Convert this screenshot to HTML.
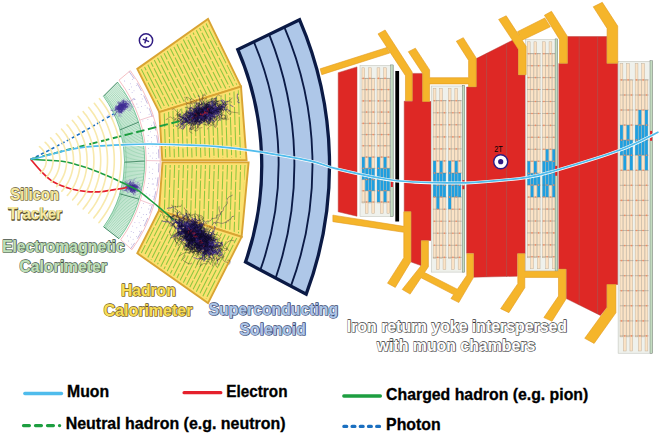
<!DOCTYPE html>
<html><head><meta charset="utf-8"><title>CMS detector slice</title>
<style>html,body{margin:0;padding:0;background:#fff}svg{display:block}text{font-family:"Liberation Sans",sans-serif}</style>
</head><body>
<svg width="660" height="435" viewBox="0 0 660 435">
<rect width="660" height="435" fill="#fff"/>
<path d="M103.5 96.2 A111.8 111.8 0 0 1 103.6 226.8 L119 238.7 A129 129 0 0 0 117.5 82.2 Z" fill="#ebf7ee" stroke="none"/>
<path d="M103.5 96.2L117.5 82.2M104.21 97.2L118.4 83.37M104.91 98.2L119.29 84.55M105.6 99.21L120.16 85.74M106.27 100.23L121.02 86.94M106.94 101.26L121.86 88.15M107.59 102.29L122.69 89.37M108.24 103.33L123.51 90.59M108.87 104.38L124.31 91.83M109.49 105.43L125.1 93.08M110.1 106.5L125.88 94.33M110.69 107.56L126.64 95.6M111.28 108.64L127.38 96.87M111.85 109.72L128.11 98.15M112.41 110.81L128.83 99.44M112.96 111.9L129.53 100.74M113.5 113L130.22 102.04M114.03 114.1L130.89 103.36M114.54 115.21L131.54 104.68M115.04 116.33L132.19 106.01M115.53 117.45L132.81 107.34M116.01 118.58L133.42 108.68M116.47 119.71L134.02 110.03M116.92 120.85L134.6 111.39M117.36 121.99L135.16 112.75M117.79 123.14L135.71 114.12M118.2 124.29L136.25 115.5M118.6 125.44L136.76 116.88M118.99 126.6L137.26 118.27M119.37 127.77L137.75 119.66M119.73 128.93L138.22 121.06M120.08 130.11L138.67 122.46M120.42 131.28L139.11 123.87M120.75 132.46L139.53 125.28M121.06 133.64L139.94 126.7M121.36 134.83L140.33 128.13M121.64 136.02L140.7 129.55M121.92 137.21L141.06 130.98M122.18 138.41L141.4 132.42M122.42 139.61L141.72 133.86M122.66 140.81L142.03 135.3M122.88 142.01L142.32 136.75M123.08 143.22L142.59 138.2M123.28 144.42L142.85 139.65M123.46 145.63L143.09 141.1M123.63 146.85L143.31 142.56M123.78 148.06L143.52 144.02M123.92 149.27L143.71 145.49M124.05 150.49L143.89 146.95M124.17 151.71L144.04 148.42M124.27 152.93L144.18 149.89M124.35 154.15L144.31 151.36M124.43 155.37L144.41 152.83M124.49 156.59L144.5 154.3M124.54 157.81L144.58 155.77M124.57 159.04L144.63 157.25M124.59 160.26L144.67 158.72M124.6 161.48L144.69 160.2M124.6 162.71L144.7 161.67M124.58 163.93L144.69 163.15M124.54 165.15L144.66 164.62M124.5 166.38L144.62 166.1M124.44 167.6L144.55 167.57M124.37 168.82L144.48 169.04M124.28 170.04L144.38 170.51M124.18 171.26L144.27 171.99M124.07 172.48L144.14 173.46M123.94 173.69L143.99 174.92M123.8 174.91L143.83 176.39M123.65 176.12L143.65 177.85M123.48 177.34L143.46 179.32M123.31 178.55L143.24 180.78M123.11 179.75L143.01 182.23M122.91 180.96L142.77 183.69M122.69 182.16L142.5 185.14M122.46 183.36L142.22 186.59M122.21 184.56L141.93 188.03M121.95 185.76L141.62 189.47M121.68 186.95L141.29 190.91M121.4 188.14L140.94 192.35M121.1 189.33L140.58 193.78M120.79 190.51L140.2 195.2M120.47 191.69L139.81 196.62M120.13 192.87L139.4 198.04M119.78 194.04L138.97 199.45M119.42 195.21L138.53 200.86M119.05 196.37L138.07 202.26M118.66 197.54L137.59 203.66M118.26 198.69L137.1 205.05M117.85 199.84L136.6 206.43M117.42 200.99L136.07 207.81M116.98 202.13L135.54 209.19M116.53 203.27L134.98 210.55M116.07 204.4L134.41 211.91M115.6 205.53L133.83 213.27M115.11 206.65L133.23 214.62M114.61 207.77L132.61 215.96M114.1 208.88L131.98 217.29M113.57 209.99L131.33 218.62M113.04 211.09L130.67 219.93M112.49 212.18L130 221.25M111.93 213.27L129.3 222.55M111.36 214.35L128.6 223.84M110.78 215.42L127.88 225.13M110.18 216.49L127.14 226.41M109.57 217.56L126.39 227.68M108.96 218.61L125.63 228.94M108.33 219.66L124.85 230.19M107.68 220.7L124.05 231.44M107.03 221.74L123.25 232.67M106.37 222.76L122.42 233.9M105.69 223.78L121.59 235.11M105.01 224.8L120.74 236.32M104.31 225.8L119.88 237.51M103.6 226.8L119 238.7" stroke="#44ad72" stroke-width="0.42" fill="none"/>
<path d="M103.5 96.2 A111.8 111.8 0 0 1 103.6 226.8" stroke="#3aa96b" stroke-width="0.6" fill="none"/>
<path d="M104.9 94.8 A113.5 113.5 0 0 1 105.14 227.99" stroke="#3aa96b" stroke-width="0.25" fill="none"/>
<path d="M117.5 82.2 A129 129 0 0 1 119 238.7" stroke="#3aa96b" stroke-width="0.6" fill="none"/>
<path d="M103.5 96.2L117.5 82.2M120.01 129.85L138.57 122.15M124.6 162.18L144.7 161.04M119.86 193.8L139.06 199.16M103.6 226.8L119 238.7" stroke="#1d6b45" stroke-width="0.7" fill="none"/>
<path d="M119 80.1 A134.2 134.2 0 0 1 120.7 239.8 L131.9 249.6 A151.64 151.64 0 0 0 130.3 70.7 Z" fill="#ffffff" stroke="#f0a3a8" stroke-width="0.7"/>
<path d="M129.17 71.64 A149.89 149.89 0 0 1 130.78 248.62" stroke="#9a86c8" stroke-width="0.6" fill="none" stroke-dasharray="9 5"/>
<g fill="#8a7acc"><circle cx="124.7" cy="81" r="0.42"/><circle cx="130.4" cy="83.8" r="0.42"/><circle cx="132.3" cy="79.4" r="0.42"/><circle cx="129.2" cy="89.5" r="0.42"/><circle cx="131.4" cy="86.9" r="0.42"/><circle cx="136.3" cy="85.6" r="0.42"/><circle cx="132.1" cy="92.4" r="0.42"/><circle cx="134" cy="90.8" r="0.42"/><circle cx="134.7" cy="99.5" r="0.42"/><circle cx="141.2" cy="94.5" r="0.42"/><circle cx="136.9" cy="104" r="0.42"/><circle cx="141.2" cy="101.8" r="0.42"/><circle cx="142.2" cy="98.9" r="0.42"/><circle cx="138" cy="107.2" r="0.42"/><circle cx="141.6" cy="106.7" r="0.42"/><circle cx="145.1" cy="105.6" r="0.42"/><circle cx="140.5" cy="112.2" r="0.42"/><circle cx="147.2" cy="108" r="0.42"/><circle cx="149.1" cy="114.2" r="0.42"/><circle cx="142.9" cy="120.9" r="0.42"/><circle cx="147.9" cy="119.7" r="0.42"/><circle cx="151.6" cy="125.2" r="0.42"/><circle cx="150.6" cy="131.8" r="0.42"/><circle cx="148.1" cy="135.5" r="0.42"/><circle cx="151.4" cy="137.4" r="0.42"/><circle cx="154.8" cy="135.7" r="0.42"/><circle cx="147.9" cy="141" r="0.42"/><circle cx="151.4" cy="142" r="0.42"/><circle cx="148.4" cy="148.4" r="0.42"/><circle cx="152.3" cy="145.9" r="0.42"/><circle cx="156.1" cy="146.2" r="0.42"/><circle cx="148.7" cy="153.2" r="0.42"/><circle cx="153" cy="152.9" r="0.42"/><circle cx="156.5" cy="153.1" r="0.42"/><circle cx="150.1" cy="156" r="0.42"/><circle cx="152.6" cy="158.1" r="0.42"/><circle cx="156.2" cy="158.6" r="0.42"/><circle cx="156.3" cy="163.2" r="0.42"/><circle cx="149.2" cy="167.1" r="0.42"/><circle cx="152.8" cy="169.1" r="0.42"/><circle cx="149.3" cy="172.1" r="0.42"/><circle cx="152.3" cy="173.7" r="0.42"/><circle cx="149.1" cy="178.5" r="0.42"/><circle cx="152.4" cy="179" r="0.42"/><circle cx="155.7" cy="178.1" r="0.42"/><circle cx="148.4" cy="183.3" r="0.42"/><circle cx="152.2" cy="184" r="0.42"/><circle cx="153.7" cy="184" r="0.42"/><circle cx="147.5" cy="187.7" r="0.42"/><circle cx="154.2" cy="189" r="0.42"/><circle cx="146.2" cy="193.8" r="0.42"/><circle cx="149.8" cy="195" r="0.42"/><circle cx="153" cy="196.2" r="0.42"/><circle cx="145.1" cy="196.8" r="0.42"/><circle cx="143.5" cy="203.3" r="0.42"/><circle cx="150" cy="205.5" r="0.42"/><circle cx="141.5" cy="207.8" r="0.42"/><circle cx="148.8" cy="209" r="0.42"/><circle cx="139.7" cy="212.6" r="0.42"/><circle cx="143.3" cy="214.3" r="0.42"/><circle cx="146.3" cy="214.5" r="0.42"/><circle cx="137.6" cy="216.2" r="0.42"/><circle cx="141.2" cy="217.2" r="0.42"/><circle cx="143.6" cy="220.4" r="0.42"/><circle cx="134.9" cy="222.4" r="0.42"/><circle cx="139.1" cy="222.8" r="0.42"/><circle cx="140.7" cy="225.7" r="0.42"/><circle cx="132.7" cy="226.1" r="0.42"/><circle cx="136.8" cy="227.8" r="0.42"/><circle cx="139.5" cy="231.2" r="0.42"/><circle cx="131.2" cy="231.4" r="0.42"/><circle cx="133.3" cy="232.7" r="0.42"/><circle cx="136.6" cy="236.3" r="0.42"/><circle cx="127.5" cy="235.9" r="0.42"/><circle cx="130.6" cy="237.1" r="0.42"/><circle cx="133.1" cy="239.2" r="0.42"/><circle cx="128.7" cy="241" r="0.42"/><circle cx="131.7" cy="244.1" r="0.42"/></g>
<path d="M139.8 120.14L153.28 115.64M146.2 160.52L160.3 160.85M140.39 200.15L153.8 205.17" stroke="#e9a0b0" stroke-width="0.6" fill="none"/>
<clipPath id="hc1"><polygon points="140.64,69.73 160.62,109.06 237.34,85.02 207,22.79"/></clipPath>
<polygon points="137.3,68.9 208,18.9 241,86.6 159.3,112.2" fill="#fbe170"/>
<path d="M129.9 46.9L138.2 63.1M139 64.7L147.2 80.9M148 82.5L156.3 98.7M157.1 100.3L165.3 116.6M128.9 36.2L137.1 52.4M137.9 54L146.2 70.2M147 71.8L155.2 88.1M156.1 89.7L164.3 105.9M165.1 107.5L173.4 123.7M136.9 43.3L145.1 59.5M146 61.1L154.2 77.4M155 79L163.3 95.2M164.1 96.8L172.3 113M135.9 32.6L144.1 48.8M144.9 50.4L153.2 66.7M154 68.3L162.2 84.5M163 86.1L171.3 102.3M172.1 103.9L180.3 120.2M134.8 21.9L143.1 38.1M143.9 39.8L152.1 56M153 57.6L161.2 73.8M162 75.4L170.3 91.6M171.1 93.2L179.3 109.5M180.1 111.1L188.4 127.3M133.8 11.2L142 27.5M142.9 29.1L151.1 45.3M151.9 46.9L160.2 63.1M161 64.7L169.2 80.9M170 82.6L178.3 98.8M179.1 100.4L187.3 116.6M141.8 18.4L150.1 34.6M150.9 36.2L159.1 52.4M159.9 54L168.2 70.3M169 71.9L177.2 88.1M178.1 89.7L186.3 105.9M187.1 107.5L195.4 123.7M140.8 7.7L149 23.9M149.8 25.5L158.1 41.7M158.9 43.3L167.2 59.6M168 61.2L176.2 77.4M177 79L185.3 95.2M186.1 96.8L194.3 113.1M148.8 14.8L157.1 31M157.9 32.6L166.1 48.9M166.9 50.5L175.2 66.7M176 68.3L184.2 84.5M185 86.1L193.3 102.4M194.1 104L202.4 120.2M147.8 4.1L156 20.4M156.8 22L165.1 38.2M165.9 39.8L174.1 56M175 57.6L183.2 73.8M184 75.5L192.3 91.7M193.1 93.3L201.3 109.5M202.1 111.1L210.4 127.3M155.8 11.3L164 27.5M164.9 29.1L173.1 45.3M173.9 46.9L182.2 63.2M183 64.8L191.2 81M192 82.6L200.3 98.8M201.1 100.4L209.3 116.6M163.8 18.4L172.1 34.6M172.9 36.2L181.1 52.5M181.9 54.1L190.2 70.3M191 71.9L199.2 88.1M200.1 89.7L208.3 106M209.1 107.6L217.4 123.8M162.8 7.7L171 23.9M171.9 25.5L180.1 41.8M180.9 43.4L189.2 59.6M190 61.2L198.2 77.4M199 79L207.3 95.3M208.1 96.9L216.3 113.1M170.8 14.9L179.1 31.1M179.9 32.7L188.1 48.9M188.9 50.5L197.2 66.7M198 68.3L206.2 84.6M207.1 86.2L215.3 102.4M216.1 104L224.4 120.2M169.8 4.2L178 20.4M178.8 22L187.1 38.2M187.9 39.8L196.1 56.1M197 57.7L205.2 73.9M206 75.5L214.3 91.7M215.1 93.3L223.3 109.5M224.1 111.1L232.4 127.4M177.8 11.3L186 27.5M186.9 29.1L195.1 45.4M195.9 47L204.2 63.2M205 64.8L213.2 81M214 82.6L222.3 98.9M223.1 100.5L231.3 116.7M185.8 18.4L194.1 34.7M194.9 36.3L203.1 52.5M203.9 54.1L212.2 70.3M213 71.9L221.3 88.2M222.1 89.8L230.3 106M231.1 107.6L239.4 123.8M184.8 7.8L193 24M193.9 25.6L202.1 41.8M202.9 43.4L211.2 59.6M212 61.2L220.2 77.5M221 79.1L229.3 95.3M230.1 96.9L238.3 113.1M192.8 14.9L201.1 31.1M201.9 32.7L210.1 48.9M210.9 50.6L219.2 66.8M220 68.4L228.2 84.6M229.1 86.2L237.3 102.4M238.1 104L246.4 120.3M191.8 4.2L200 20.4M200.8 22L209.1 38.3M209.9 39.9L218.1 56.1M219 57.7L227.2 73.9M228 75.5L236.3 91.8M237.1 93.4L245.3 109.6M199.8 11.3L208.1 27.6M208.9 29.2L217.1 45.4M217.9 47L226.2 63.2M227 64.8L235.2 81.1M236 82.7L244.3 98.9M207.8 18.5L216.1 34.7M216.9 36.3L225.1 52.5M226 54.1L234.2 70.4M235 72L243.3 88.2M206.8 7.8L215 24M215.9 25.6L224.1 41.8M224.9 43.5L233.2 59.7M234 61.3L242.2 77.5M214.8 14.9L223.1 31.2M223.9 32.8L232.1 49M232.9 50.6L241.2 66.8M213.8 4.2L222 20.5M222.8 22.1L231.1 38.3M231.9 39.9L240.2 56.1M241 57.7L249.2 74" stroke="#8cc63f" stroke-width="1.05" fill="none" clip-path="url(#hc1)"/>
<polygon points="137.3,68.9 208,18.9 241,86.6 159.3,112.2" fill="none" stroke="#d9a433" stroke-width="1.9" stroke-linejoin="miter"/>
<clipPath id="hc2"><polygon points="162.02,114.07 164.74,157.6 243.79,157.6 238.66,90.06"/></clipPath>
<polygon points="159.3,112.2 241,86.6 246.6,160.2 162.3,160.2" fill="#fbe170"/>
<path d="M162.9 69.1L163.4 87.3M163.5 89.1L164 107.3M164.1 109.1L164.7 127.3M164.7 129.1L165.3 147.3M165.4 149.1L165.9 167.3M167.6 79L168.1 97.2M168.2 99L168.8 117.2M168.8 119L169.4 137.1M169.4 138.9L170 157.1M170.1 158.9L170.6 177.1M171.7 68.8L172.2 87M172.3 88.8L172.8 107M172.9 108.8L173.5 127M173.5 128.8L174.1 147M174.1 148.8L174.7 167M176.4 78.7L176.9 96.9M177 98.7L177.6 116.9M177.6 118.7L178.2 136.9M178.2 138.7L178.8 156.9M178.9 158.7L179.4 176.8M180.4 68.6L181 86.8M181.1 88.6L181.6 106.7M181.7 108.5L182.3 126.7M182.3 128.5L182.9 146.7M182.9 148.5L183.5 166.7M185.2 78.4L185.7 96.6M185.8 98.4L186.4 116.6M186.4 118.4L187 136.6M187 138.4L187.6 156.6M187.7 158.4L188.2 176.6M189.2 68.3L189.8 86.5M189.9 88.3L190.4 106.5M190.5 108.3L191.1 126.5M191.1 128.3L191.7 146.5M191.7 148.3L192.3 166.4M194 78.1L194.5 96.3M194.6 98.1L195.1 116.3M195.2 118.1L195.8 136.3M195.8 138.1L196.4 156.3M196.5 158.1L197 176.3M198 68L198.6 86.2M198.7 88L199.2 106.2M199.3 108L199.9 126.2M199.9 128L200.5 146.2M200.5 148L201.1 166.2M202.7 77.9L203.3 96.1M203.4 97.9L203.9 116.1M204 117.9L204.6 136M204.6 137.8L205.2 156M205.2 157.8L205.8 176M206.8 67.7L207.4 85.9M207.5 87.7L208 105.9M208.1 107.7L208.7 125.9M208.7 127.7L209.3 145.9M209.3 147.7L209.9 165.9M211.5 77.6L212.1 95.8M212.2 97.6L212.7 115.8M212.8 117.6L213.4 135.8M213.4 137.6L214 155.8M214 157.6L214.6 175.8M215.6 67.5L216.2 85.7M216.3 87.5L216.8 105.6M216.9 107.4L217.4 125.6M217.5 127.4L218.1 145.6M218.1 147.4L218.7 165.6M220.3 77.3L220.9 95.5M221 97.3L221.5 115.5M221.6 117.3L222.2 135.5M222.2 137.3L222.8 155.5M222.8 157.3L223.4 175.5M225 87.2L225.6 105.4M225.7 107.2L226.2 125.4M226.3 127.2L226.9 145.4M226.9 147.2L227.5 165.3M229.1 77L229.7 95.2M229.8 97L230.3 115.2M230.4 117L231 135.2M231 137L231.6 155.2M231.6 157L232.2 175.2M233.8 86.9L234.4 105.1M234.5 106.9L235 125.1M235.1 126.9L235.7 145.1M235.7 146.9L236.3 165.1M237.9 76.8L238.5 95M238.6 96.8L239.1 115M239.2 116.8L239.7 134.9M239.8 136.7L240.4 154.9M240.4 156.7L241 174.9M242.6 86.6L243.2 104.8M243.3 106.6L243.8 124.8M243.9 126.6L244.5 144.8M244.5 146.6L245.1 164.8M246.7 76.5L247.3 94.7M247.4 96.5L247.9 114.7" stroke="#8cc63f" stroke-width="1.05" fill="none" clip-path="url(#hc2)"/>
<polygon points="159.3,112.2 241,86.6 246.6,160.2 162.3,160.2" fill="none" stroke="#d9a433" stroke-width="1.9" stroke-linejoin="miter"/>
<clipPath id="hc3"><polygon points="164.92,165 161.74,208.65 239.31,233.44 245.74,165"/></clipPath>
<polygon points="162.5,162.4 248.6,162.4 241.6,236.9 159,210.5" fill="#fbe170"/>
<path d="M166 159.5L165.4 177.7M165.4 179.5L164.8 197.7M164.7 199.5L164.2 217.7M164.1 219.5L163.6 237.7M170.7 149.6L170.1 167.8M170.1 169.6L169.5 187.8M169.5 189.6L168.9 207.8M168.8 209.6L168.3 227.8M168.2 229.6L167.6 247.8M174.8 159.8L174.2 178M174.2 179.8L173.6 198M173.5 199.8L173 218M172.9 219.8L172.4 237.9M179.5 149.9L178.9 168.1M178.9 169.9L178.3 188.1M178.3 189.9L177.7 208.1M177.6 209.9L177.1 228.1M177 229.9L176.4 248.1M183.6 160.1L183 178.2M183 180L182.4 198.2M182.3 200L181.8 218.2M181.7 220L181.1 238.2M188.3 150.2L187.7 168.4M187.7 170.2L187.1 188.4M187 190.2L186.5 208.4M186.4 210.2L185.9 228.4M185.8 230.2L185.2 248.4M192.4 160.3L191.8 178.5M191.8 180.3L191.2 198.5M191.1 200.3L190.6 218.5M190.5 220.3L189.9 238.5M197.1 150.5L196.5 168.7M196.5 170.5L195.9 188.7M195.8 190.5L195.3 208.6M195.2 210.4L194.7 228.6M194.6 230.4L194 248.6M201.2 160.6L200.6 178.8M200.6 180.6L200 198.8M199.9 200.6L199.4 218.8M199.3 220.6L198.7 238.8M205.9 150.7L205.3 168.9M205.3 170.7L204.7 188.9M204.6 190.7L204.1 208.9M204 210.7L203.4 228.9M203.4 230.7L202.8 248.9M210 160.9L209.4 179.1M209.3 180.9L208.8 199.1M208.7 200.9L208.2 219.1M208.1 220.8L207.5 239M214.7 151L214.1 169.2M214.1 171L213.5 189.2M213.4 191L212.9 209.2M212.8 211L212.2 229.2M212.2 231L211.6 249.2M218.8 161.2L218.2 179.3M218.1 181.1L217.6 199.3M217.5 201.1L217 219.3M216.9 221.1L216.3 239.3M223.5 151.3L222.9 169.5M222.9 171.3L222.3 189.5M222.2 191.3L221.7 209.5M221.6 211.3L221 229.5M221 231.3L220.4 249.4M227.6 161.4L227 179.6M226.9 181.4L226.4 199.6M226.3 201.4L225.7 219.6M225.7 221.4L225.1 239.6M232.3 151.6L231.7 169.8M231.6 171.6L231.1 189.8M231 191.6L230.5 209.7M230.4 211.5L229.8 229.7M229.8 231.5L229.2 249.7M236.4 161.7L235.8 179.9M235.7 181.7L235.2 199.9M235.1 201.7L234.5 219.9M234.5 221.7L233.9 239.9M241.1 151.8L240.5 170M240.4 171.8L239.9 190M239.8 191.8L239.3 210M239.2 211.8L238.6 230M238.6 231.8L238 250M245.2 162L244.6 180.2M244.5 182L244 200.2M243.9 202L243.3 220.1M243.3 221.9L242.7 240.1M249.9 152.1L249.3 170.3M249.2 172.1L248.7 190.3M248.6 192.1L248 210.3M248 212.1L247.4 230.3M247.4 232.1L246.8 250.3" stroke="#8cc63f" stroke-width="1.05" fill="none" clip-path="url(#hc3)"/>
<polygon points="162.5,162.4 248.6,162.4 241.6,236.9 159,210.5" fill="none" stroke="#d9a433" stroke-width="1.9" stroke-linejoin="miter"/>
<clipPath id="hc4"><polygon points="160.32,213.65 140.64,252.47 207.04,299.24 237.9,238.45"/></clipPath>
<polygon points="159,210.5 241.6,236.9 208,303.1 137.3,253.3" fill="#fbe170"/>
<path d="M163.4 209.4L155.2 225.6M154.3 227.2L146.1 243.4M145.3 245L137.1 261.3M171.4 202.2L163.2 218.4M162.4 220.1L154.1 236.3M153.3 237.9L145.1 254.1M144.3 255.7L136 272M179.4 195.1L171.2 211.3M170.4 212.9L162.2 229.1M161.3 230.7L153.1 247M152.3 248.6L144.1 264.8M143.2 266.4L135 282.7M178.4 205.8L170.2 222M169.4 223.6L161.1 239.8M160.3 241.4L152.1 257.7M151.3 259.3L143 275.5M142.2 277.1L134 293.3M186.4 198.6L178.2 214.8M177.4 216.5L169.1 232.7M168.3 234.3L160.1 250.5M159.3 252.1L151.1 268.4M150.2 270L142 286.2M141.2 287.8L133 304M185.4 209.3L177.2 225.5M176.3 227.1L168.1 243.4M167.3 245L159.1 261.2M158.3 262.8L150 279.1M149.2 280.7L141 296.9M140.2 298.5L131.9 314.7M193.4 202.2L185.2 218.4M184.4 220L176.1 236.2M175.3 237.8L167.1 254.1M166.3 255.7L158 271.9M157.2 273.5L149 289.7M148.2 291.4L140 307.6M201.4 195L193.2 211.2M192.4 212.9L184.2 229.1M183.3 230.7L175.1 246.9M174.3 248.5L166.1 264.8M165.3 266.4L157 282.6M156.2 284.2L148 300.4M147.2 302L138.9 318.3M200.4 205.7L192.2 221.9M191.4 223.5L183.1 239.8M182.3 241.4L174.1 257.6M173.3 259.2L165 275.5M164.2 277.1L156 293.3M155.2 294.9L147 311.1M208.4 198.6L200.2 214.8M199.4 216.4L191.1 232.6M190.3 234.2L182.1 250.5M181.3 252.1L173.1 268.3M172.2 269.9L164 286.1M163.2 287.7L155 304M207.4 209.3L199.2 225.5M198.4 227.1L190.1 243.3M189.3 244.9L181.1 261.2M180.3 262.8L172 279M171.2 280.6L163 296.8M162.2 298.4L153.9 314.7M215.4 202.1L207.2 218.3M206.4 219.9L198.1 236.2M197.3 237.8L189.1 254M188.3 255.6L180.1 271.9M179.2 273.5L171 289.7M170.2 291.3L162 307.5M223.4 195L215.2 211.2M214.4 212.8L206.2 229M205.3 230.6L197.1 246.9M196.3 248.5L188.1 264.7M187.3 266.3L179 282.5M178.2 284.1L170 300.4M169.2 302L160.9 318.2M222.4 205.6L214.2 221.9M213.4 223.5L205.1 239.7M204.3 241.3L196.1 257.6M195.3 259.2L187 275.4M186.2 277L178 293.2M177.2 294.8L169 311.1M230.4 198.5L222.2 214.7M221.4 216.3L213.2 232.6M212.3 234.2L204.1 250.4M203.3 252L195.1 268.3M194.2 269.9L186 286.1M185.2 287.7L177 303.9M229.4 209.2L221.2 225.4M220.4 227L212.1 243.3M211.3 244.9L203.1 261.1M202.3 262.7L194 278.9M193.2 280.5L185 296.8M184.2 298.4L175.9 314.6M237.4 202L229.2 218.3M228.4 219.9L220.1 236.1M219.3 237.7L211.1 254M210.3 255.6L202.1 271.8M201.2 273.4L193 289.6M192.2 291.2L184 307.5M245.4 194.9L237.2 211.1M236.4 212.7L228.2 229M227.3 230.6L219.1 246.8M218.3 248.4L210.1 264.6M209.3 266.3L201 282.5M200.2 284.1L192 300.3M191.2 301.9L182.9 318.2M244.4 205.6L236.2 221.8M235.4 223.4L227.1 239.7M226.3 241.3L218.1 257.5M217.3 259.1L209 275.3M208.2 276.9L200 293.2M199.2 294.8L191 311M243.4 216.3L235.2 232.5M234.3 234.1L226.1 250.4M225.3 252L217.1 268.2M216.3 269.8L208 286M207.2 287.6L199 303.9M242.4 227L234.1 243.2M233.3 244.8L225.1 261M224.3 262.7L216 278.9M215.2 280.5L207 296.7M206.2 298.3L198 314.6M250.4 219.8L242.1 236.1M241.3 237.7L233.1 253.9M232.3 255.5L224.1 271.7M223.2 273.3L215 289.6M214.2 291.2L206 307.4M249.4 230.5L241.1 246.8M240.3 248.4L232.1 264.6M231.3 266.2L223 282.4M222.2 284L214 300.3M213.2 301.9L204.9 318.1M248.3 241.2L240.1 257.4M239.3 259.1L231.1 275.3M230.2 276.9L222 293.1M221.2 294.7L213 311M247.3 251.9L239.1 268.1M238.3 269.7L230 286M229.2 287.6L221 303.8" stroke="#8cc63f" stroke-width="1.05" fill="none" clip-path="url(#hc4)"/>
<polygon points="159,210.5 241.6,236.9 208,303.1 137.3,253.3" fill="none" stroke="#d9a433" stroke-width="1.9" stroke-linejoin="miter"/>
<path d="M237.8 49.5 A293.86 293.86 0 0 1 245.5 262 L306.2 294.2 A368.3 368.3 0 0 0 299.6 19.8 Z" fill="#aec7e8" stroke="#0b1a45" stroke-width="3.3" stroke-linejoin="miter"/>
<path d="M253.87 41.78 A314.92 314.92 0 0 1 260.37 269.89" stroke="#0b1a45" stroke-width="1.85" fill="none"/>
<path d="M269.13 34.44 A350.3 350.3 0 0 1 275.67 278" stroke="#0b1a45" stroke-width="1.85" fill="none"/>
<path d="M284.34 27.14 A351.01 351.01 0 0 1 290.9 286.09" stroke="#0b1a45" stroke-width="1.85" fill="none"/>
<polygon points="338.2,72.7 357,66.9 357,216.2 338.2,211.8" fill="#de2825" stroke="#b5403c" stroke-width="0.5"/>
<polygon points="412.4,73.4 422.4,73.4 422.4,101.5 431,101.5 431,240.4 421,240.4 421,265.6 411.1,262 411.1,211.5 404.2,211.5 404.2,101.2 412.4,101.2" fill="#de2825" stroke="#b5403c" stroke-width="0.5"/>
<polygon points="476.3,58.6 513,40 518.2,49 518.2,75 526,75 526,253.4 517.3,253.4 517.3,276.2 473.7,277.2 473.7,253.3 466.6,253.3 466.6,87 476.3,87" fill="#de2825" stroke="#b5403c" stroke-width="0.5"/>
<polygon points="567.6,36.6 606.8,36.6 606.8,63.5 617.8,63.5 617.8,284.5 606.8,284.5 606.8,307.5 600.4,315.4 566.3,298.6 566.3,269 558.8,269 558.8,63.5 567.6,63.5" fill="#de2825" stroke="#b5403c" stroke-width="0.5"/>
<line x1="486.6" y1="53.5" x2="486.6" y2="277" stroke="#bb4642" stroke-width="1"/>
<line x1="506.6" y1="43.5" x2="506.6" y2="276.5" stroke="#bb4642" stroke-width="1"/>
<line x1="579.2" y1="37" x2="579.2" y2="305" stroke="#bb4642" stroke-width="1"/>
<line x1="597.6" y1="37" x2="597.6" y2="314" stroke="#bb4642" stroke-width="1"/>
<rect x="360" y="65.5" width="33.3" height="151" fill="#eff1ec" stroke="#b9bcb4" stroke-width="0.5"/>
<g fill="#fbe3c6" stroke="#bfae98" stroke-width="0.45"><rect x="361.95" y="67.8" width="2.8" height="135.2"/><rect x="365.25" y="78.4" width="2.8" height="134.9"/><rect x="368.55" y="67.8" width="2.8" height="135.2"/><rect x="371.85" y="78.4" width="2.8" height="134.9"/><rect x="377.05" y="67.8" width="2.8" height="135.2"/><rect x="380.35" y="78.4" width="2.8" height="134.9"/><rect x="383.65" y="67.8" width="2.8" height="135.2"/><rect x="386.95" y="78.4" width="2.8" height="134.9"/></g>
<g fill="#1f9fe0"><rect x="361.95" y="157.1" width="2.8" height="22.5"/><rect x="365.25" y="168.3" width="2.8" height="22.5"/><rect x="368.55" y="157.1" width="2.8" height="45"/><rect x="371.85" y="168.3" width="2.8" height="22.5"/><rect x="377.05" y="157.1" width="2.8" height="45"/><rect x="380.35" y="168.3" width="2.8" height="22.5"/><rect x="383.65" y="157.1" width="2.8" height="45"/><rect x="386.95" y="168.3" width="2.8" height="22.5"/></g>
<path d="M361.7 78.4H375.5M376.8 78.4H390.6M361.7 89.6H375.5M376.8 89.6H390.6M361.7 100.9H375.5M376.8 100.9H390.6M361.7 112.1H375.5M376.8 112.1H390.6M361.7 123.4H375.5M376.8 123.4H390.6M361.7 134.6H375.5M376.8 134.6H390.6M361.7 145.8H375.5M376.8 145.8H390.6M361.7 157.1H375.5M376.8 157.1H390.6M361.7 168.3H375.5M376.8 168.3H390.6M361.7 179.6H375.5M376.8 179.6H390.6M361.7 190.8H375.5M376.8 190.8H390.6M361.7 202H375.5M376.8 202H390.6" stroke="#77776f" stroke-width="0.38" fill="none"/>
<g fill="#f58c64"><circle cx="363.3" cy="78.4" r="0.8"/><circle cx="369.9" cy="78.4" r="0.8"/><circle cx="378.4" cy="78.4" r="0.8"/><circle cx="385" cy="78.4" r="0.8"/><circle cx="366.6" cy="89.6" r="0.8"/><circle cx="373.2" cy="89.6" r="0.8"/><circle cx="381.7" cy="89.6" r="0.8"/><circle cx="388.3" cy="89.6" r="0.8"/><circle cx="363.3" cy="100.9" r="0.8"/><circle cx="369.9" cy="100.9" r="0.8"/><circle cx="378.4" cy="100.9" r="0.8"/><circle cx="385" cy="100.9" r="0.8"/><circle cx="366.6" cy="112.1" r="0.8"/><circle cx="373.2" cy="112.1" r="0.8"/><circle cx="381.7" cy="112.1" r="0.8"/><circle cx="388.3" cy="112.1" r="0.8"/><circle cx="363.3" cy="123.4" r="0.8"/><circle cx="369.9" cy="123.4" r="0.8"/><circle cx="378.4" cy="123.4" r="0.8"/><circle cx="385" cy="123.4" r="0.8"/><circle cx="366.6" cy="134.6" r="0.8"/><circle cx="373.2" cy="134.6" r="0.8"/><circle cx="381.7" cy="134.6" r="0.8"/><circle cx="388.3" cy="134.6" r="0.8"/><circle cx="363.3" cy="145.8" r="0.8"/><circle cx="369.9" cy="145.8" r="0.8"/><circle cx="378.4" cy="145.8" r="0.8"/><circle cx="385" cy="145.8" r="0.8"/><circle cx="366.6" cy="157.1" r="0.8"/><circle cx="373.2" cy="157.1" r="0.8"/><circle cx="381.7" cy="157.1" r="0.8"/><circle cx="388.3" cy="157.1" r="0.8"/><circle cx="363.3" cy="168.3" r="0.8"/><circle cx="369.9" cy="168.3" r="0.8"/><circle cx="378.4" cy="168.3" r="0.8"/><circle cx="385" cy="168.3" r="0.8"/><circle cx="366.6" cy="179.6" r="0.8"/><circle cx="373.2" cy="179.6" r="0.8"/><circle cx="381.7" cy="179.6" r="0.8"/><circle cx="388.3" cy="179.6" r="0.8"/><circle cx="363.3" cy="190.8" r="0.8"/><circle cx="369.9" cy="190.8" r="0.8"/><circle cx="378.4" cy="190.8" r="0.8"/><circle cx="385" cy="190.8" r="0.8"/><circle cx="366.6" cy="202" r="0.8"/><circle cx="373.2" cy="202" r="0.8"/><circle cx="381.7" cy="202" r="0.8"/><circle cx="388.3" cy="202" r="0.8"/></g>
<rect x="390.8" y="64.9" width="2.3" height="151.6" fill="#c4dcc1" stroke="#5d6b62" stroke-width="0.4"/>
<rect x="390.9" y="181.4" width="2" height="5.6" fill="#e0222a"/>
<rect x="431.2" y="86" width="33.6" height="186.1" fill="#eff1ec" stroke="#b9bcb4" stroke-width="0.5"/>
<g fill="#fbe3c6" stroke="#bfae98" stroke-width="0.45"><rect x="433.15" y="88.3" width="2.8" height="170.1"/><rect x="436.45" y="100.7" width="2.8" height="168.7"/><rect x="439.75" y="88.3" width="2.8" height="170.1"/><rect x="443.05" y="100.7" width="2.8" height="168.7"/><rect x="448.25" y="88.3" width="2.8" height="170.1"/><rect x="451.55" y="100.7" width="2.8" height="168.7"/><rect x="454.85" y="88.3" width="2.8" height="170.1"/><rect x="458.15" y="100.7" width="2.8" height="168.7"/></g>
<g fill="#1f9fe0"><rect x="433.15" y="160.9" width="2.8" height="36.2"/><rect x="436.45" y="173" width="2.8" height="36.2"/><rect x="439.75" y="160.9" width="2.8" height="36.2"/><rect x="443.05" y="173" width="2.8" height="24.1"/><rect x="448.25" y="160.9" width="2.8" height="48.2"/><rect x="451.55" y="173" width="2.8" height="24.1"/><rect x="454.85" y="160.9" width="2.8" height="36.2"/><rect x="458.15" y="173" width="2.8" height="24.1"/></g>
<path d="M432.9 100.7H446.7M448 100.7H461.8M432.9 112.8H446.7M448 112.8H461.8M432.9 124.8H446.7M448 124.8H461.8M432.9 136.9H446.7M448 136.9H461.8M432.9 148.9H446.7M448 148.9H461.8M432.9 160.9H446.7M448 160.9H461.8M432.9 173H446.7M448 173H461.8M432.9 185.1H446.7M448 185.1H461.8M432.9 197.1H446.7M448 197.1H461.8M432.9 209.2H446.7M448 209.2H461.8M432.9 221.2H446.7M448 221.2H461.8M432.9 233.2H446.7M448 233.2H461.8M432.9 245.3H446.7M448 245.3H461.8M432.9 257.4H446.7M448 257.4H461.8" stroke="#77776f" stroke-width="0.38" fill="none"/>
<g fill="#f58c64"><circle cx="434.5" cy="100.7" r="0.8"/><circle cx="441.1" cy="100.7" r="0.8"/><circle cx="449.6" cy="100.7" r="0.8"/><circle cx="456.2" cy="100.7" r="0.8"/><circle cx="437.8" cy="112.8" r="0.8"/><circle cx="444.4" cy="112.8" r="0.8"/><circle cx="452.9" cy="112.8" r="0.8"/><circle cx="459.5" cy="112.8" r="0.8"/><circle cx="434.5" cy="124.8" r="0.8"/><circle cx="441.1" cy="124.8" r="0.8"/><circle cx="449.6" cy="124.8" r="0.8"/><circle cx="456.2" cy="124.8" r="0.8"/><circle cx="437.8" cy="136.9" r="0.8"/><circle cx="444.4" cy="136.9" r="0.8"/><circle cx="452.9" cy="136.9" r="0.8"/><circle cx="459.5" cy="136.9" r="0.8"/><circle cx="434.5" cy="148.9" r="0.8"/><circle cx="441.1" cy="148.9" r="0.8"/><circle cx="449.6" cy="148.9" r="0.8"/><circle cx="456.2" cy="148.9" r="0.8"/><circle cx="437.8" cy="160.9" r="0.8"/><circle cx="444.4" cy="160.9" r="0.8"/><circle cx="452.9" cy="160.9" r="0.8"/><circle cx="459.5" cy="160.9" r="0.8"/><circle cx="434.5" cy="173" r="0.8"/><circle cx="441.1" cy="173" r="0.8"/><circle cx="449.6" cy="173" r="0.8"/><circle cx="456.2" cy="173" r="0.8"/><circle cx="437.8" cy="185.1" r="0.8"/><circle cx="444.4" cy="185.1" r="0.8"/><circle cx="452.9" cy="185.1" r="0.8"/><circle cx="459.5" cy="185.1" r="0.8"/><circle cx="434.5" cy="197.1" r="0.8"/><circle cx="441.1" cy="197.1" r="0.8"/><circle cx="449.6" cy="197.1" r="0.8"/><circle cx="456.2" cy="197.1" r="0.8"/><circle cx="437.8" cy="209.2" r="0.8"/><circle cx="444.4" cy="209.2" r="0.8"/><circle cx="452.9" cy="209.2" r="0.8"/><circle cx="459.5" cy="209.2" r="0.8"/><circle cx="434.5" cy="221.2" r="0.8"/><circle cx="441.1" cy="221.2" r="0.8"/><circle cx="449.6" cy="221.2" r="0.8"/><circle cx="456.2" cy="221.2" r="0.8"/><circle cx="437.8" cy="233.2" r="0.8"/><circle cx="444.4" cy="233.2" r="0.8"/><circle cx="452.9" cy="233.2" r="0.8"/><circle cx="459.5" cy="233.2" r="0.8"/><circle cx="434.5" cy="245.3" r="0.8"/><circle cx="441.1" cy="245.3" r="0.8"/><circle cx="449.6" cy="245.3" r="0.8"/><circle cx="456.2" cy="245.3" r="0.8"/><circle cx="437.8" cy="257.4" r="0.8"/><circle cx="444.4" cy="257.4" r="0.8"/><circle cx="452.9" cy="257.4" r="0.8"/><circle cx="459.5" cy="257.4" r="0.8"/></g>
<rect x="462.3" y="85.4" width="2.3" height="186.7" fill="#c4dcc1" stroke="#5d6b62" stroke-width="0.4"/>
<rect x="462.4" y="180" width="2" height="4" fill="#e0222a"/>
<rect x="462.4" y="185.5" width="2" height="3.7" fill="#e0222a"/>
<rect x="525.4" y="39.5" width="32.2" height="231.5" fill="#eff1ec" stroke="#b9bcb4" stroke-width="0.5"/>
<g fill="#fbe3c6" stroke="#bfae98" stroke-width="0.45"><rect x="527.35" y="41.8" width="2.8" height="216"/><rect x="530.65" y="53.7" width="2.8" height="215.1"/><rect x="533.95" y="41.8" width="2.8" height="216"/><rect x="537.25" y="53.7" width="2.8" height="215.1"/><rect x="542.45" y="41.8" width="2.8" height="216"/><rect x="545.75" y="53.7" width="2.8" height="215.1"/><rect x="549.05" y="41.8" width="2.8" height="216"/><rect x="552.35" y="53.7" width="2.8" height="215.1"/></g>
<g fill="#1f9fe0"><rect x="527.35" y="161.2" width="2.8" height="23.9"/><rect x="530.65" y="173.2" width="2.8" height="23.9"/><rect x="533.95" y="161.2" width="2.8" height="23.9"/><rect x="537.25" y="173.2" width="2.8" height="23.9"/><rect x="542.45" y="161.2" width="2.8" height="35.8"/><rect x="545.75" y="149.3" width="2.8" height="47.8"/><rect x="549.05" y="161.2" width="2.8" height="23.9"/><rect x="552.35" y="149.3" width="2.8" height="47.8"/></g>
<path d="M527.1 53.7H540.9M542.2 53.7H556M527.1 65.7H540.9M542.2 65.7H556M527.1 77.6H540.9M542.2 77.6H556M527.1 89.5H540.9M542.2 89.5H556M527.1 101.5H540.9M542.2 101.5H556M527.1 113.5H540.9M542.2 113.5H556M527.1 125.4H540.9M542.2 125.4H556M527.1 137.3H540.9M542.2 137.3H556M527.1 149.3H540.9M542.2 149.3H556M527.1 161.2H540.9M542.2 161.2H556M527.1 173.2H540.9M542.2 173.2H556M527.1 185.1H540.9M542.2 185.1H556M527.1 197.1H540.9M542.2 197.1H556M527.1 209.1H540.9M542.2 209.1H556M527.1 221H540.9M542.2 221H556M527.1 232.9H540.9M542.2 232.9H556M527.1 244.9H540.9M542.2 244.9H556M527.1 256.8H540.9M542.2 256.8H556" stroke="#77776f" stroke-width="0.38" fill="none"/>
<g fill="#f58c64"><circle cx="528.8" cy="53.7" r="0.8"/><circle cx="535.4" cy="53.7" r="0.8"/><circle cx="543.9" cy="53.7" r="0.8"/><circle cx="550.5" cy="53.7" r="0.8"/><circle cx="532" cy="65.7" r="0.8"/><circle cx="538.6" cy="65.7" r="0.8"/><circle cx="547.1" cy="65.7" r="0.8"/><circle cx="553.8" cy="65.7" r="0.8"/><circle cx="528.8" cy="77.6" r="0.8"/><circle cx="535.4" cy="77.6" r="0.8"/><circle cx="543.9" cy="77.6" r="0.8"/><circle cx="550.5" cy="77.6" r="0.8"/><circle cx="532" cy="89.5" r="0.8"/><circle cx="538.6" cy="89.5" r="0.8"/><circle cx="547.1" cy="89.5" r="0.8"/><circle cx="553.8" cy="89.5" r="0.8"/><circle cx="528.8" cy="101.5" r="0.8"/><circle cx="535.4" cy="101.5" r="0.8"/><circle cx="543.9" cy="101.5" r="0.8"/><circle cx="550.5" cy="101.5" r="0.8"/><circle cx="532" cy="113.5" r="0.8"/><circle cx="538.6" cy="113.5" r="0.8"/><circle cx="547.1" cy="113.5" r="0.8"/><circle cx="553.8" cy="113.5" r="0.8"/><circle cx="528.8" cy="125.4" r="0.8"/><circle cx="535.4" cy="125.4" r="0.8"/><circle cx="543.9" cy="125.4" r="0.8"/><circle cx="550.5" cy="125.4" r="0.8"/><circle cx="532" cy="137.3" r="0.8"/><circle cx="538.6" cy="137.3" r="0.8"/><circle cx="547.1" cy="137.3" r="0.8"/><circle cx="553.8" cy="137.3" r="0.8"/><circle cx="528.8" cy="149.3" r="0.8"/><circle cx="535.4" cy="149.3" r="0.8"/><circle cx="543.9" cy="149.3" r="0.8"/><circle cx="550.5" cy="149.3" r="0.8"/><circle cx="532" cy="161.2" r="0.8"/><circle cx="538.6" cy="161.2" r="0.8"/><circle cx="547.1" cy="161.2" r="0.8"/><circle cx="553.8" cy="161.2" r="0.8"/><circle cx="528.8" cy="173.2" r="0.8"/><circle cx="535.4" cy="173.2" r="0.8"/><circle cx="543.9" cy="173.2" r="0.8"/><circle cx="550.5" cy="173.2" r="0.8"/><circle cx="532" cy="185.1" r="0.8"/><circle cx="538.6" cy="185.1" r="0.8"/><circle cx="547.1" cy="185.1" r="0.8"/><circle cx="553.8" cy="185.1" r="0.8"/><circle cx="528.8" cy="197.1" r="0.8"/><circle cx="535.4" cy="197.1" r="0.8"/><circle cx="543.9" cy="197.1" r="0.8"/><circle cx="550.5" cy="197.1" r="0.8"/><circle cx="532" cy="209.1" r="0.8"/><circle cx="538.6" cy="209.1" r="0.8"/><circle cx="547.1" cy="209.1" r="0.8"/><circle cx="553.8" cy="209.1" r="0.8"/><circle cx="528.8" cy="221" r="0.8"/><circle cx="535.4" cy="221" r="0.8"/><circle cx="543.9" cy="221" r="0.8"/><circle cx="550.5" cy="221" r="0.8"/><circle cx="532" cy="232.9" r="0.8"/><circle cx="538.6" cy="232.9" r="0.8"/><circle cx="547.1" cy="232.9" r="0.8"/><circle cx="553.8" cy="232.9" r="0.8"/><circle cx="528.8" cy="244.9" r="0.8"/><circle cx="535.4" cy="244.9" r="0.8"/><circle cx="543.9" cy="244.9" r="0.8"/><circle cx="550.5" cy="244.9" r="0.8"/><circle cx="532" cy="256.8" r="0.8"/><circle cx="538.6" cy="256.8" r="0.8"/><circle cx="547.1" cy="256.8" r="0.8"/><circle cx="553.8" cy="256.8" r="0.8"/></g>
<rect x="555.1" y="38.9" width="2.3" height="232.1" fill="#c4dcc1" stroke="#5d6b62" stroke-width="0.4"/>
<rect x="555.2" y="165.9" width="2" height="4.1" fill="#e0222a"/>
<rect x="555.2" y="171.5" width="2" height="4.3" fill="#e0222a"/>
<rect x="618.1" y="61.3" width="34.4" height="291.9" fill="#eff1ec" stroke="#b9bcb4" stroke-width="0.5"/>
<g fill="#fbe3c6" stroke="#bfae98" stroke-width="0.45"><rect x="620.05" y="63.6" width="2.8" height="273.3"/><rect x="623.35" y="79.9" width="2.8" height="271.1"/><rect x="626.65" y="63.6" width="2.8" height="273.3"/><rect x="629.95" y="79.9" width="2.8" height="271.1"/><rect x="635.15" y="63.6" width="2.8" height="273.3"/><rect x="638.45" y="79.9" width="2.8" height="271.1"/><rect x="641.75" y="63.6" width="2.8" height="273.3"/><rect x="645.05" y="79.9" width="2.8" height="271.1"/></g>
<g fill="#1f9fe0"><rect x="620.05" y="125.1" width="2.8" height="30.1"/><rect x="623.35" y="140.1" width="2.8" height="30.1"/><rect x="626.65" y="125.1" width="2.8" height="30.1"/><rect x="629.95" y="140.1" width="2.8" height="30.1"/><rect x="635.15" y="125.1" width="2.8" height="30.1"/><rect x="638.45" y="110" width="2.8" height="60.2"/><rect x="641.75" y="125.1" width="2.8" height="30.1"/><rect x="645.05" y="110" width="2.8" height="60.2"/></g>
<path d="M619.8 79.9H633.6M634.9 79.9H648.7M619.8 95H633.6M634.9 95H648.7M619.8 110H633.6M634.9 110H648.7M619.8 125.1H633.6M634.9 125.1H648.7M619.8 140.1H633.6M634.9 140.1H648.7M619.8 155.2H633.6M634.9 155.2H648.7M619.8 170.3H633.6M634.9 170.3H648.7M619.8 185.3H633.6M634.9 185.3H648.7M619.8 200.4H633.6M634.9 200.4H648.7M619.8 215.4H633.6M634.9 215.4H648.7M619.8 230.5H633.6M634.9 230.5H648.7M619.8 245.6H633.6M634.9 245.6H648.7M619.8 260.6H633.6M634.9 260.6H648.7M619.8 275.7H633.6M634.9 275.7H648.7M619.8 290.7H633.6M634.9 290.7H648.7M619.8 305.8H633.6M634.9 305.8H648.7M619.8 320.9H633.6M634.9 320.9H648.7M619.8 335.9H633.6M634.9 335.9H648.7" stroke="#77776f" stroke-width="0.38" fill="none"/>
<g fill="#f58c64"><circle cx="621.5" cy="79.9" r="0.8"/><circle cx="628.1" cy="79.9" r="0.8"/><circle cx="636.6" cy="79.9" r="0.8"/><circle cx="643.2" cy="79.9" r="0.8"/><circle cx="624.8" cy="95" r="0.8"/><circle cx="631.4" cy="95" r="0.8"/><circle cx="639.9" cy="95" r="0.8"/><circle cx="646.5" cy="95" r="0.8"/><circle cx="621.5" cy="110" r="0.8"/><circle cx="628.1" cy="110" r="0.8"/><circle cx="636.6" cy="110" r="0.8"/><circle cx="643.2" cy="110" r="0.8"/><circle cx="624.8" cy="125.1" r="0.8"/><circle cx="631.4" cy="125.1" r="0.8"/><circle cx="639.9" cy="125.1" r="0.8"/><circle cx="646.5" cy="125.1" r="0.8"/><circle cx="621.5" cy="140.1" r="0.8"/><circle cx="628.1" cy="140.1" r="0.8"/><circle cx="636.6" cy="140.1" r="0.8"/><circle cx="643.2" cy="140.1" r="0.8"/><circle cx="624.8" cy="155.2" r="0.8"/><circle cx="631.4" cy="155.2" r="0.8"/><circle cx="639.9" cy="155.2" r="0.8"/><circle cx="646.5" cy="155.2" r="0.8"/><circle cx="621.5" cy="170.3" r="0.8"/><circle cx="628.1" cy="170.3" r="0.8"/><circle cx="636.6" cy="170.3" r="0.8"/><circle cx="643.2" cy="170.3" r="0.8"/><circle cx="624.8" cy="185.3" r="0.8"/><circle cx="631.4" cy="185.3" r="0.8"/><circle cx="639.9" cy="185.3" r="0.8"/><circle cx="646.5" cy="185.3" r="0.8"/><circle cx="621.5" cy="200.4" r="0.8"/><circle cx="628.1" cy="200.4" r="0.8"/><circle cx="636.6" cy="200.4" r="0.8"/><circle cx="643.2" cy="200.4" r="0.8"/><circle cx="624.8" cy="215.4" r="0.8"/><circle cx="631.4" cy="215.4" r="0.8"/><circle cx="639.9" cy="215.4" r="0.8"/><circle cx="646.5" cy="215.4" r="0.8"/><circle cx="621.5" cy="230.5" r="0.8"/><circle cx="628.1" cy="230.5" r="0.8"/><circle cx="636.6" cy="230.5" r="0.8"/><circle cx="643.2" cy="230.5" r="0.8"/><circle cx="624.8" cy="245.6" r="0.8"/><circle cx="631.4" cy="245.6" r="0.8"/><circle cx="639.9" cy="245.6" r="0.8"/><circle cx="646.5" cy="245.6" r="0.8"/><circle cx="621.5" cy="260.6" r="0.8"/><circle cx="628.1" cy="260.6" r="0.8"/><circle cx="636.6" cy="260.6" r="0.8"/><circle cx="643.2" cy="260.6" r="0.8"/><circle cx="624.8" cy="275.7" r="0.8"/><circle cx="631.4" cy="275.7" r="0.8"/><circle cx="639.9" cy="275.7" r="0.8"/><circle cx="646.5" cy="275.7" r="0.8"/><circle cx="621.5" cy="290.7" r="0.8"/><circle cx="628.1" cy="290.7" r="0.8"/><circle cx="636.6" cy="290.7" r="0.8"/><circle cx="643.2" cy="290.7" r="0.8"/><circle cx="624.8" cy="305.8" r="0.8"/><circle cx="631.4" cy="305.8" r="0.8"/><circle cx="639.9" cy="305.8" r="0.8"/><circle cx="646.5" cy="305.8" r="0.8"/><circle cx="621.5" cy="320.9" r="0.8"/><circle cx="628.1" cy="320.9" r="0.8"/><circle cx="636.6" cy="320.9" r="0.8"/><circle cx="643.2" cy="320.9" r="0.8"/><circle cx="624.8" cy="335.9" r="0.8"/><circle cx="631.4" cy="335.9" r="0.8"/><circle cx="639.9" cy="335.9" r="0.8"/><circle cx="646.5" cy="335.9" r="0.8"/></g>
<rect x="650" y="60.7" width="2.3" height="292.5" fill="#c4dcc1" stroke="#5d6b62" stroke-width="0.4"/>
<rect x="650.1" y="130.9" width="2" height="4.1" fill="#e0222a"/>
<rect x="650.1" y="137" width="2" height="3.8" fill="#e0222a"/>
<rect x="395.3" y="71" width="3.8" height="150.5" fill="#000"/>
<path d="M593.22 6.82L607.09 28.41L607.09 63.21L617.71 63.21L617.71 26.09L602.3 2.37ZM584.73 338.3L594.11 343.42L615.91 312.81L615.91 284.59L607.09 284.59L607.09 307.49ZM544.41 15.21L559.49 39.42L559.49 63.21L567.31 63.21L567.31 36.18L551.5 11.29ZM500.63 308.68L508.89 312.63L524.81 287.72L524.81 277.41L558.49 277.41L558.49 296.09L543.83 317.58L551.99 321.23L565.91 299.22L565.91 269.29L558.49 269.29L558.49 271.29L524.81 271.29L524.81 253.69L517.79 253.69L517.79 283.69ZM498.63 19.42L518.49 49.41L518.49 74.71L526.11 74.71L526.11 46.29L522.17 40.24L550.38 26.78L544.8 17.98L517.41 31.72L519.1 34.56L518.64 34.84L506.2 15.77ZM408.32 51.71L422.69 73.51L422.69 101.51L429.61 101.51L429.61 83.91L468.59 83.91L468.59 86.71L476.21 86.71L476.21 57.98L463.3 37.68L456.32 41.21L468.59 60.42L468.59 77.69L429.61 77.69L429.61 69.89L415.4 48.18ZM402.23 289.42L410.11 294.11L421.04 277.75L453.65 294.59L450.93 298.59L458.79 302.52L473.41 277.62L473.41 253.69L466.79 253.69L466.79 275.29L457.3 289.22L424.54 272.5L428.41 266.71L428.41 240.79L421.39 240.79L421.39 265.3ZM320.15 68.79L321.8 74.63L389.76 53.04L386.56 47.93L387.03 47.63L405.49 75.71L405.49 100.71L412.21 100.71L412.21 72.09L385.1 29.99L378.01 33.9L386.93 47.47ZM332.89 215.14L332.89 221.65L403.79 232.28L403.79 257.68L387.51 283.19L395.29 287.41L410.81 261.72L410.81 211.79L403.79 211.79L403.79 226.36Z" fill="#f5b52b" stroke="#e39a1f" stroke-width="0.6" stroke-linejoin="miter"/>
<path d="M118.1 110.5L117.6 110L117.5 108.9L117.8 108.2L117.8 107.6L118.2 106.1L118.9 105.1M119.7 110.1L119.3 108.7L118.7 108.6L118.2 107.5L118.5 106.7L118.9 106.1L118.8 105.2L118.2 105.2M119.1 107L119.9 108.1L120.6 108.4L121.2 108.3L122 108.8L122.1 109.8L120.6 110.3L120.7 111M124.7 103.8L124 104L123.1 103.9L122.6 104.1L121.3 105L121.4 106.3L122.4 106.5M116.9 110.7L116.4 112L117.2 113L118.1 112.9L118.6 112.2M127.8 102.3L128 101.6L129.2 101.6L129.7 101.8L130.5 101.1L129.9 100M122.7 104.5L123.3 105.1L123.7 105.9L124.7 107.3M117.6 110.3L119.2 110.5L119.6 111.3L120.9 111.5L121 112.3L119.6 112.9L118.6 113.1M123 106.7L122.6 107.5L121.4 107.7L120.8 108.1L120.3 108.2L119.5 109.1M123.7 103.3L122.6 104.2L122.9 105.1L123.3 105.4L124.5 105.4L124.6 106M125.3 106.7L125.3 105.5L124.8 105.2L123.7 106.4L122.2 106.8L122.2 108.1M116.6 111.1L117.6 110.7L118 110.4L119.2 111L120.6 110.2L121 109.7M120.7 108L120.6 106.9L119.3 106.8L118.8 106.9L118.7 107.5L119.4 108L120.2 108.4M126.3 102.7L125.7 102.4L125.6 101.9L125.6 100.8L124.6 99.8L123.8 99L124.1 98.2M125 105.1L126.5 105.7L127.2 106.4L126.9 107.2L126.4 107.8L125.6 109L124.1 108.7L122.9 108.9M121.8 108.3L121.2 108.2L120.4 109.7L119.8 109.8L118.2 110.1L117.5 109.5L116.5 108.6M118.6 105L118.6 105.5L118.1 105.8L116.9 105.6L115.5 106.2L115.7 106.8L115.8 107.3L115.4 108M122.9 106.9L121.7 106.9L120.6 105.6L120.5 104.9M119.9 108.6L120 108.1L119.2 106.9L118.3 105.5M110.2 114.9L108.6 114.7L107.8 116.1L107.1 116.3L106.1 116.9M124.3 104.3L123.5 103L122.7 102.6L122.9 102L124.3 101.6L124.7 102.2L125.6 102.4L126.1 101.7M129.6 101.1L130.5 101.5L131.2 100.8L132.4 100L132.8 99.7L133.4 99.8M122 105.6L122.8 104.9L124.1 105.7L125.1 106.5L126.5 107.3L127.5 108.1M121 105.2L120.1 106L118.8 106.8L118 107.2L117 108.3L116.2 108L115.8 106.4L115.6 105.3M124.6 108L125.7 107.6L125.6 106L125.8 104.3L125.3 104L123.8 104.5L122.3 105.2L121.4 104.8M123.3 108.8L121.9 108.1L121.1 107.7L120 108.3L119.5 107.8L119.5 107.3M123.6 107.5L123.5 108.7L124.7 109.4L125.7 108.8L125.9 108.1L126.3 107.2M120.2 109.9L119.2 108.7L118.7 108.1L117.6 108L117 107.7L116.9 106.5L116.6 105.8L116.3 104.3M125.8 108.2L125.7 107.4L126 106.7L125.1 105.5L124 104.6M125.3 106.5L125.9 107.1L125.8 108.1L125 109M118.2 116.5L118.4 116L119.4 115.3L120.3 115.9L120.9 115.7M123.5 107.2L123.5 106.6L124.5 106.3L125.3 106.6L126.4 107L127.6 107.1M127.5 103.6L128.3 104.7L128.8 105.2L129.9 105L129.9 103.5M122.2 103.5L121.1 104L120.2 105.1L120.1 105.7L119.6 106.2L119 106L117.9 106M120.3 109.9L119.7 109.9L118.7 110.3L118.9 111.2L118.7 112.5M125.5 110.1L124.5 110.8L123.6 111.2L122.9 110.2L122.7 108.8L123.2 108.6M116.6 108.2L115.2 108.6L114.7 108.6L114 109.1L113.5 110.1L113.2 111.1M122.5 105.8L121.6 105L121.6 104.4L122.2 104.1L122.8 103.7L123.9 103.1L123.5 101.5M118.9 110.4L118.4 111.4L118.7 113L118.3 114.3L119.5 115.1L120.4 115.9L121.5 116.6L122.2 116M119.2 110.7L119.1 111.7L119.2 113.4L120 114.2L119.3 115.5L118.7 117M122.6 103.7L123.2 103.8L123.7 104.6L124.6 104.7M125.2 106.7L124.9 107.7L123.9 108.2L122.8 106.9L122.8 106.1L121.4 105.4L121.1 104.2L120.6 103.5M119 106.3L119.6 106.8L119.3 107.8L118.9 108.4L117.7 108.8L117.8 109.6L118.4 109.7L119 109.1M119.9 103.3L119.2 102.7L118.6 102.3L117.2 102L117 101.5M127.9 105.8L128.9 105.6L129.8 106L130.4 105.6L131.5 106.1L132.9 105.8L133.5 106.3L133.9 107.4M119.2 109.3L120.1 110L120.3 110.9L120.1 111.4L120.6 112.6L121.5 112.6L122.5 113.4L123.2 113.4M119.8 111.3L120.3 110.4L121.4 109.3L122.2 109L123.8 108.7L124.6 108.4M127.2 102.8L127.5 103.6L128.2 104.3L128.9 104.7L130 105.5L131.1 106.6L131.5 107.2L131.4 108.7M122.1 107.4L122.8 106.9L122.3 105.5L121.6 104.5L120.6 104L119.7 104L119.3 104.8L120.3 105.6M128.4 105.1L129.4 106.1L130.4 107.1L131.1 107.6L130.8 108.9L130.5 110L129.5 110.8M124.5 104.1L126 104L126.9 105.4L127.1 106.5L126.4 107.9L126.2 108.8M126.9 106.7L126.1 106.1L125.5 105.6L125.7 104.5L126.4 104L126.3 102.4L127.5 101.7M126.1 104.5L126.5 105.4L126.8 106.6L127.1 107.6M115.9 112.8L115.7 113.7L115.2 115.1L114.9 115.8L113.3 116.1L112.4 116.8L111.6 116.1M122.5 107.4L122.5 106.2L122.6 105.4L123.8 105.2L124.2 104.8M118.9 109.5L118.9 108.8L118.2 108.2L116.7 108.2L115.4 108.2M124.7 105.1L125.3 105.5L126.8 105L127 104.4L126.9 103.1L126.8 101.6L127.1 101.1L128.2 100.6M121.3 107.4L120.8 107.1L120.8 106.3L120.9 105.2L119.8 104.2M121.7 109L121.9 107.7L121.4 107.4L120.3 108M117.8 106.4L117 106.8L116.2 106.6L115.2 106.3M133 100.1L132.9 98.8L134.2 98.3L135.1 99.4L135.4 99.9M124.2 107.6L123.1 107.4L122.4 106.7L122.5 106.1M123.3 106.9L124.3 108L124.6 108.6L125.2 108.8L126 108.2M130.1 103.8L130.2 103.1L129.1 102.2L127.8 101.3L127.1 100.1L126.8 99.3L127.3 98.6M126.1 104L126.1 105.2L126.9 105.7L128.1 106.5L128.2 107.7L129.5 108.4M124.8 103.4L124 102.6L122.3 102.8L122 101.5L122.9 100.8L122.4 99.6M121.7 105.9L121.3 105.2L121.9 104.4L122.2 103.9L122.8 104.1L123 105.2L122.9 106.4M123.6 110.9L122.3 111.5L121.4 112.8L121.6 114L121.1 114.5L120.7 114.9M124.3 105.7L123.3 106.7L122.7 107.7L122.2 107.8L121.6 108.8M125 106.8L124.6 107.3L125 108.9L126.4 109.1L127.4 110.1L128.4 110.6L129.2 110L130.6 110.8M118.3 108.6L117.9 107.1L118.5 106.4L119.1 105.4L120.3 105.5L121.3 105.6M124 104.5L123.4 105.3L123.2 106.2L121.8 106.9M123.3 104.9L121.9 105.8L121.4 106.2L120.4 105.6L119.4 104.3L120.2 102.8L121.5 102.1M120 110.5L119.4 109.2L119 107.7L117.6 107.4L116.9 108.2L116.4 108L115.6 108.3L115.2 108.7M125.9 101.8L126 102.6L126.6 103.4L127.5 103.7L128.6 102.9L130.2 103.1L131.3 102.1M121.2 106.8L121.4 105.7L120.3 104.6L120.7 104L121.3 103.6L121.8 103.9M127.5 105.6L128.1 104.8L129 105L129.1 106.4L129.4 107.1L129 107.6M120.2 106.5L119.5 107L118.4 106.6L117.6 107.4L116.3 106.6M123.7 107.3L122.1 107.8L121.1 108.2L120.6 108.4L119.7 108.5M123.9 109.9L123.3 110.4L123.4 111.7L124.9 112M128.2 106.8L127.3 106.4L127.4 105.3L126.6 104.5L126.2 103.6L126.3 102.2L126.4 101.1L127.5 100.4M113.2 112.2L113 111.6L112.5 110.4L112.3 109.6L112.8 108.3M123.1 109.1L122.3 109.2L122.2 108.6L121.5 107.2L120.6 106.4L119.7 105.2L119 104.1L119.2 103.6M124.1 106.5L123.5 105.4L122.5 105.5L121.2 104.9L120.5 103.7L120.8 102.6L121.5 101.7L121.8 101M116.9 110.5L116.1 110L115.3 109.8L115.3 109.3L115.2 107.8L115.8 107.7L117.1 107.1L117 106.3M123.1 105.4L121.5 105L121.6 103.7L122.6 102.3L123.3 101.8L123.1 100.3L122.9 99.8M123.3 108.1L124.4 108.5L124.1 109.9L123.4 111.3L121.8 111.5L121 112.7L120.2 112.5L119.7 112.6M120.1 109.1L120.4 108.2L121.1 107L121.6 106L122.1 105.5L123 104.7L123.3 104.2L123.1 102.6M118.1 107.7L116.8 107.4L116.3 107.7L116.6 109.1L116.2 109.6L116.4 111.1M133.5 104.7L132.8 104.1L131.2 104.1L130.5 103.7L129.7 103L128.6 103.1L128.3 103.8" stroke="#7f72c0" stroke-width="0.35" fill="none" stroke-linejoin="round"/>
<path d="M122 106.2L121 106.5L120.8 107.2L120.7 107.9L120.3 108.6L120.1 109.3M123.3 108.2L123 109.3L122.1 110.2L121.8 110.7L121.4 111.6L121.5 112.4M123 105.6L122.9 105.1L123.2 103.7L124.3 103.4L125.2 103.8L126.3 104.2L127.2 103.5L127.8 103.4M121.4 106.6L121.4 106.1L121.7 105.3L121 104.2L120.7 103.2L120.6 102.2L119.3 102.1M118 108.5L117.4 109.6L118 110.5L118.5 110.7L119 110.1M122.1 106.6L122.7 106.9L123.7 106.6L124.2 106.9L125 107.3L125.4 107.9L124.9 108.5L124.3 108.2M124.4 106.2L125.5 105.6L126.4 104.7L126.3 104.2L125.8 103.6L124.8 103.4M118.4 108.7L119.2 109.4L120.2 109.2L121.2 109.2L121.8 109.9L122.7 110.6M125 107.8L124.9 108.3L125.5 109L124.9 110L124.1 109.9L123.1 109.7M122 107.6L122.7 107.8L123.3 108.3L123.7 108.7L124 109.2L124.6 109.9M120.9 109.3L121.4 109.3L122.3 109.6L122.2 110.6M121.6 107.4L122 107.1L122.5 106.7L123.2 106.9L123.6 107.8M121 105.3L119.7 105.5L119 104.9L119.1 103.7L119 102.8L118.7 101.5M123.9 109L123 109.4L122.6 110.6L122.7 111.3L122.4 112.3M123.6 104.3L124.3 104.1L125 103.7L125.8 103.6L126.8 103.8L128.1 104.2L128.8 104.3L128.9 103.8M118.4 106.9L119.3 106.9L119.5 106.3L119.9 105.9M116.9 110.7L117 112L116 112.6L115.4 113.7L115.3 114.6L114.8 114.7L113.9 115M120.8 107.3L121.5 107.4L121.9 106.5L121.7 106L122.2 104.9M123.7 103.5L123.1 104.2L123.2 104.9L124.2 105L125 105.2L125.9 106.2L126.6 106.3L127.4 106.8M122.3 105.9L122 105.4L120.7 105L120 104.1L119.4 104M119.2 107.5L120.3 107.3L121.2 108.1L122.3 107.5L122.9 107.4L123.5 107.2L124 106.3L123.3 105.5M119 110.9L120 111.6L120.8 112.4L120.4 112.9L119.7 113L118.8 112L117.8 111.3M120.9 108.2L120.4 108.8L119.4 108.4L118.9 107.8L118.1 107.4L117.6 107.4L117.1 106.1M123.1 105.7L122.1 105.2L121.3 105.7L120.1 105.3M120.9 105.6L121 105.1L121.3 104.2L121 103.5M122 106.6L122.8 106.2L123.6 105.7L124.1 105M124.5 105L123.3 105.4L122.7 105.3L121.7 104.6L121.8 103.8L122.6 103.2L123 102.3M125 106.1L125.4 107L125.9 107.3L127.1 108M121.4 106.8L121 106.3L121.1 105.8L121.3 105.3L122.1 105.2L123.2 105.2L124.3 105.5L124.7 105.1M121.3 107.1L121.7 106L121.9 105.4L123.1 105.4M123 105.7L122.6 104.9L122 104.7L121 103.9M121.5 105.5L120.9 104.6L121.3 103.9L121.6 102.8L121.6 101.9L122.1 101L121.7 100.4M123.5 107.4L123.2 106.9L122.1 106.3L121.3 105.3L120.8 105.2L120.5 105.9L120.4 106.8M120.8 110.1L121.7 110.8L121.4 112.1L121.1 113.5M120.1 108L120.8 108.1L120.9 109.3L121.6 110.5L122.6 111.1M120.6 107.9L120.8 108.6L120.8 109.1L121.4 110.3L120.6 111.2L119.8 111.7M124.7 106.2L125 106.7L126.1 106.5L126.8 105.9L127.9 106.6L127.9 107.7L127.2 108.3M119.8 108.7L119 108.7L118.5 108.5L118.4 108L118.7 107.3M120 108.2L120.8 108L120.9 107.2L120.7 106.3L121 105.6L122.1 105.2L122.9 104.2M123.1 106.9L123.2 107.7L123.6 108.3L124.1 109L124.6 110M121.3 106.8L121.8 105.7L121.9 105.2L122.1 104.4M124.6 103.8L124.1 104.7L123.7 105.4L123.4 106.4L122.6 106.8L121.8 106L120.8 106.6M118.7 108.6L118.2 109.4L117.2 109L116.5 108.3L115.6 108.4M119.4 108.8L118.3 109.3L117.4 109L117.3 108.1L118 107.7L119.1 107.1M122.5 107.7L123 108.7L122.2 109.5L121.4 110.3L121 111.6L121 112.2L120.2 112.7M121.7 107.7L122.4 108.1L122.5 109L122.2 109.7M118.3 110L118.1 109.2L118.4 107.9L117.5 106.9L116.5 107.2L115.8 107.1L114.7 107.6M122.6 105.5L122.3 106L121 106L119.9 105.3M118.2 108.9L117.1 109.2L116.5 108.8L115.9 108.9L115.5 110M122.2 106L122.9 106.6L123.1 107.5L122.9 108.7L123.3 109.5L122.9 110.1M126.3 101.6L125.2 101.3L124.7 101.2L123.7 101.5L123.6 102.2L123.3 102.8M122.5 106.5L121.5 106L121.8 104.8L121.8 103.8M119.6 110L120.1 109.2L119.8 108.5L119.4 107.1L119.8 105.8L120 104.6L120.4 103.9L120.1 103.4M112.6 110L112.2 110.5L111.4 110.5L110.5 110M124.4 104.8L124.9 105.1L125.4 105.2L126 105.4L126.8 104.6M121.1 109.8L120.3 109.3L119.9 108.9L119.9 108L119.3 107.4L119.1 106.5L119.4 105.7L118.9 105.1M123 105.1L122.7 104L123.3 102.9L123.5 101.8L123.9 100.8L123.5 100.4L122.9 100.7L122.6 101.6M120 108.5L120.2 109.1L120.2 109.9L119.7 110.3M124.2 106L124.4 106.8L125.5 107.5L126.7 106.9L127.2 106.9L128 105.9L127.7 105.5M120.8 107.7L121.5 106.8L122.2 106.3L122.9 106.5L123.3 105.9L124 106.1L124.5 106.2M123 106L123.1 106.5L122.7 106.9L122.9 108.1L122.3 108.3M121.7 108.2L120.8 107.9L119.5 107.7L119.1 107.2L118.6 106.7M118.4 109.3L119.3 110.1L118.7 111.2L118.3 111.8L117.7 111.8L117.2 111.6L116.6 111.3M119.6 107.3L120.9 107.8L121.4 107.9L122 106.7M123.1 106.5L122.5 107.1L121.3 106.4L120.8 105.8L121.1 105.1L120.6 104.2L119.9 103.8M124.4 106.2L125 106.2L125.6 105.5L126.2 105.7M120.9 109.1L120.9 108L121.3 107.4L120.8 106.5L121.4 106M119.5 106.4L119.1 105.8L118.6 105.5L117.8 106.3L117.2 107L115.9 107.2M120.4 107.5L120 107L119.3 106.8L119.4 105.9L118.1 105.6M122.7 107.6L122.4 108.3L122.5 109.4L122.4 109.9M119.5 110.3L119.9 109.6L119.7 108.6L118.8 108L117.7 108.8L118 109.7L118.9 109.7L119.6 109.8M126.9 102.7L125.7 103L124.7 103.5L123.9 103.5L123.6 102.2L122.9 101.5L123.2 100.9L123.5 99.6M115.7 107.7L116.1 108.3L116 109L115.7 110L114.8 110.3M122.6 109.3L121.7 108.7L122.2 107.4L123.6 107.6L124.1 107.4L125.2 107.9L125.6 107.4L126 106.3M120.2 109.1L120.6 108.3L119.6 107.4L118.7 106.6L117.9 106.6L116.8 105.8M119 107.4L118.4 108.6L117.6 108.4L116.9 108.9L116.6 109.6L115.7 110.3L114.7 110.5L114.3 110.9M121.2 107.8L121.5 109.1L121.6 110.1L121.5 111.3L121.2 111.8L121.7 112.4L121.7 113.1M122.8 104.6L123.8 104.9L123.9 105.5L124 106.3L124.2 107.1M121.5 109.7L120.3 109.2L119.6 109L118.7 108.5L118.3 107.9L117.2 107.5M125.9 104.2L126.9 104L127.3 103.6L127.9 104L128.8 104.2M120.4 108.5L120.2 109.1L119.4 109.5L118.9 110.8L119.8 111.8L121 111.2L121.1 110.5M123.3 104.5L123.6 105.7L124.7 105.9L125 105.4L124.8 104.1L124.6 103.6M124.5 104.5L125.4 104.9L125.9 105.3L125.6 106.2L125.2 107L124.7 107.7M118.9 107.1L118.4 106.2L118.8 105.7L119.6 105.3L120.2 106L120.9 105.7M122.3 107.6L122.6 106.3L122 105.1L122.2 104.3L122.8 103.3L122.8 102.1M119.2 108L119 107.1L118.4 106.2L118.5 105.1L119.2 104L118.5 102.9L117.8 103.2L117.1 102.9M118.6 108.9L119.8 109.2L120.6 109.7L120.8 110.3L120.5 111.2L119.9 111.4L119.4 111.9L119.9 112.7M123.8 105.6L124.5 105.4L125 105.3L125.6 105L125.6 103.7L125.2 103L124.9 102.1L124.8 100.8M121.2 105.6L120.3 105.6L119.6 105.2L119.5 104.5L119.9 104.3L119.9 103.2L120.4 102.6M123 106.9L122.8 105.9L123.4 105.2L124.5 104.7L125.2 105.1" stroke="#3e2d93" stroke-width="0.5" fill="none" stroke-linejoin="round"/>
<path d="M127.8 186.3L128.6 185.9L129.3 184.5L130.3 183.9L131.5 183.4L131.7 182.3M134.6 193.3L133.5 193.6L132.4 193L132.3 192.4M138.6 187.1L137.6 187.4L136.5 188.1L135.7 187.3L136 186.1L137.6 186.2L138.7 186.5L139.4 185.5M131.7 184.4L132.3 185.6L131.1 186.7L130.2 186.9L129.1 187.8L128.5 187.9L127.9 188.6L127 189.7M131.8 187.1L132.4 185.9L131.9 185.4L131.1 184.2L130.6 184.1L129.6 184.4L128.5 184.9M133.1 184.3L133.9 185L133.5 186L132.8 185.9L132.5 185L131.3 184.4M133 187.4L133.6 187.6L134.1 188.6L134.7 188.9L135.8 188.9L136.8 187.6M137 186.2L135.9 186.1L134.6 186L133.3 187L132.7 186.6L131.1 186.8M129.1 192.7L128.1 191.7L127.8 190.6L127.3 190.6L127 191.7L127.2 192.3L128.2 192.7L129 191.8M133.2 181.2L133 180.1L134.2 179.2L135 178.9L136 177.9L136.5 177.6M132.8 181.7L133.7 182.2L134 183.1L134.9 183.3M127.8 191.6L127.1 191.4L126 190.8L125.6 190.4L125 190.2L123.7 190.3L122.9 189.9L121.7 190.4M131.1 184.6L132.1 184.8L133.1 183.9L133.4 183.2L133.2 181.5M135.6 188.6L136.4 188.3L137 188L137.6 188.6L138.3 189.3L139.3 190.2M126.8 186.5L126.5 185.4L127 184.5L128 183.8M136.8 188.3L135.9 188.6L135.1 188.8L134.6 189.3L134.6 190.5L135 190.9M134.2 185.8L132.9 186.5L132.2 186.6L131.9 187L130.5 187.6L129.8 188.3L128.9 188.6L127.9 188.1M138.7 187.7L139.4 187.9L139.4 189.1L140.9 189.5L141.2 191M128.2 189.3L129 188.9L130.1 189.7L130.1 190.9L131.5 191.4L132.1 191M137.1 183.1L137.3 182.6L138.2 182.5L138.9 182.4L139.1 181.9M134.2 190L133.3 189.1L132.4 188.7L131.2 188L129.6 188.2L128.1 188.4L126.6 187.8M132.1 184.5L132.6 184.2L133.3 184.7L134.3 184.6L135.5 185.5L135.3 186L134.4 186.8M137.8 187.2L136.8 186.2L136.4 185.2L135.5 184.3M136.8 184.6L137.9 185.8L137 186.9L136.1 186.7L134.6 187.1L133.3 187.1L133.1 187.9M127.3 186L126.9 185.1L127.9 183.7L128.3 183.1L129.2 182.4L129.6 181.7L129.8 180.5M134.6 190.6L133.9 189.8L132.6 190.2L131.9 190.1L130.7 189.9L129.8 189.4L128.9 189.5M135.5 188.4L134.4 189.1L133 188.3L132.2 187.4L132.4 186.7L132.1 185.1L132.2 184.5L131.9 183.4M135.5 185.6L135.9 186.1L137.2 186.7L137.7 186.5L138.4 186.7L139 186.4M132.5 189.1L132 188.3L131.4 187.6L131.2 186.2L130.4 185.4L130.2 184.3M131.3 183.7L131.3 184.2L129.9 184.7L128.6 185.7L128 185.4L127.8 184.4M131 188.8L130.5 187.9L130.2 187.1L128.8 186.6L127.9 186.1L127.3 186.1L126.3 187.3M129 188.4L129.9 188.1L130.4 186.6L131.5 186.1L132.2 186.3L133.7 187M135.3 190.8L136.8 190.7L137 189.9L138 190L138.3 190.5M126.4 183.4L126.1 181.9L126 180.7L126.7 180.1L127.2 180.4L127.5 181.4L127.5 183.1M132.3 190.1L132.4 188.6L133.2 187.3L134 186.8L134.2 186.2L133.8 185.8L134.2 185.3L134.8 184.9M136.7 188.2L136.5 187.3L137.9 186.7L137.8 186L137.6 185M131.2 188.4L130.4 187.2L129.9 186.7L128.9 187.4L128.5 187.9L128 188.7M129.7 189.5L130.7 189L130.4 187.8L130.3 187.1L131.5 186.1L131.7 184.9L132.9 184L133.5 184.2M137.1 188.1L137.4 189L137.8 189.3L138.7 189.2L139.8 188.5L140.4 189.1L140.8 190.7M136.4 185.8L135.7 184.5L134.9 184.5L134.5 183.4M129.9 188L130.9 187.5L131.1 186.4L131.1 185.7L130.4 185M133.5 191.2L132.9 190.3L131.7 190.5L131.3 189.9L131.7 188.8L131.1 187.8M136.2 190.9L136 190.4L135.4 189L135.6 188.3L137.1 188.1L138.8 187.7M130.7 186L132.3 186L133.5 186.1L134.7 186.2L135.6 185.7L137 185L138.1 184.7M136.6 189.6L136.3 188.9L135.2 187.8L134.7 187.8L134.4 187.3L134.6 186.7L134.3 186M125.2 187L125.8 185.7L125.3 185.2L124 184.4L124.2 184L123.8 183.6L123.7 182.6L123.2 181.9M136.9 187.1L136.4 185.6L135.6 184.1L134.5 182.9L135.2 181.4L134.7 180.7L134.5 179.2M130.8 191.5L131.3 192.4L132.3 192.5L133.5 192.6L134.1 193.9L133.3 195.1L133.1 195.6M140.5 185.7L139.1 185.4L138.7 184.7L137.6 184L136.4 185L136.1 185.9L136.4 187.3L137 187.5M134 188.5L133.8 189.4L134.1 189.9L134.5 190.2L135.3 190.4L136.1 189.7L136.2 188.3L137.4 188.2M138.8 190L138.2 191.2L137.6 191.5L136.5 191.1L136 191.7L134.9 191.1M133.5 188.3L133.1 188.9L133.5 189.9L133.9 190.6L134.9 190.6L135.2 190.2L135.4 189.7L136.7 189.1M132.5 180.8L131.3 179.9L130.7 179.8L129.2 179.6L128.3 180.9M127.9 186.4L128.4 185.2L128.9 183.8L129.5 182.8L129.9 181.6L130.7 180.2L131.6 180M132.8 185.5L132.2 186.8L132.7 188.2L132.4 188.6L131.7 189.9L130.4 190.8L129.4 189.9M132.1 185.8L132.9 185.4L133.1 184.4L132 183.2L131.1 181.9L129.9 181.6M136 187.9L135 187.9L133.8 187.2L133 188.2L131.5 188.7L130.4 188.9M133.4 189.1L133.9 190.1L134.8 191.4L135.3 192.8M133.6 187.4L133.5 188L132.9 189.1L133 190.3L132.7 191L133.1 192.5M132.6 190.5L133.2 190.9L133.8 190.6L133.7 189.2L132.4 188.5L132.1 187.6L131.8 186.4M128.8 184.8L129.6 184.5L130.1 184.2L130.8 184.8L131.4 184.4L132.4 183.7L133 183.8M139.1 188.8L139.5 188.1L138.6 187.2L138.8 185.9L139.8 185.1L139.4 184.2L139.4 183.7L138.5 182.6M141.2 186.6L140.8 187.5L140 188.7L139.4 188.5L138.6 188.2L138.2 187.3L139.3 186.3M127.1 187.7L127.8 187.8L128.2 188.7L129.4 189.4L129.2 190L128.6 190.5M135.4 184L134.6 185.4L133.2 186.1L133.3 187.1L133.2 187.8L134.2 189.1L135.8 189.3L137.1 189.2M133.1 190.8L133.9 192.1L134.5 192.4L135.8 191.5L136.5 191.7M133.1 185.7L134.3 186.7L135.1 187.9L135.2 189L134.5 189.1L133.3 189.4L131.6 189.2L130.9 190.1M134.2 190.5L133.4 190.8L132.6 191.2L131.6 190.4L131 189.4L130.6 188.9L130.3 187.9M129.6 189.1L128.1 189.7L127.5 189.4L126.6 188.3L126.8 187.2M130.8 187.4L130.1 186.7L129.4 187L127.9 187.4L126.4 188.2L126.1 188.7M135 186L135.7 184.8L136.4 183.8L137.2 183.8L137.6 182.8L136.9 182M136.1 189.4L134.9 189.7L134.5 190.3L134.7 191.5L135.8 192.6L135.5 194L135.4 195.4M128.3 183.7L128.4 185.2L128.7 186.1L130.3 186L130.6 185.6L130.1 184.6L130.1 183L130.4 182.4M139.2 187.4L140.5 187.8L140.7 188.3L140.4 188.6L139.6 189.6M129.8 186.2L129.3 184.8L130.4 184L131.1 183.1L132.5 182.1L133.6 181L133.6 180.4L132.7 180M129.9 185.7L128.6 186L128.1 187.4L127.6 188.5L126.7 189.2L126.9 190.4L127.3 191.1M131.7 189.4L130.8 189.6L129.7 189.1L128.3 190M135.7 188.9L134.1 189.2L133.6 188.6L133.4 187.5L133.7 186.4L132.7 185.7L131.5 185.4L131.4 184.5M137.4 190.6L135.9 190.6L135.4 190.5L134.3 189.8M127.5 189.6L126.7 190.5L126.5 191.3L127.7 192.2" stroke="#7f72c0" stroke-width="0.35" fill="none" stroke-linejoin="round"/>
<path d="M134.4 189.3L133.1 189.4L132.7 190.1L133.1 191.1L134.2 191.1L134.9 192.2L135.3 192.7M126.7 186.2L126.3 186.9L126.1 187.4L125.1 187.5L124.4 187.5L123.6 187.8M133.1 188.9L132.2 189.4L131 189.8L130.1 189.3L129.5 189.1L128.4 189.9M133.1 186.6L132.6 185.8L132.2 184.8L132.5 184.2L132.3 183.6M133 190.4L132.8 190.9L132.7 192L132.7 192.9L133.6 193.8L134.1 195.1M129.1 188.1L127.9 188.6L127.2 188.5L126.1 188.6L125.7 189.9L126.6 190.5M128.2 184.2L127.5 183.3L126.8 183.4L126.1 183.2L126 182.1L124.8 181.8M129.2 187.6L129.6 187.9L130.1 189.1L129.7 190L130.1 190.4L131.3 190.4L131.9 189.6M133.1 185.5L133.5 185.2L134.5 185L135.1 185.5L135.6 185.3L136.2 185.1M133.5 185.6L133.5 186.4L134.3 187.3L135.2 188L134.9 189.1L134.5 189.9L133.3 190.5M131 187.8L131.5 188.8L131.2 189.3L130.3 189.9L129.9 191L130.3 191.9L131.1 191.9M133.1 186.4L133.4 185.9L134.4 186.1L135.2 186.4L135.7 186.8L135.5 188L135.5 188.9M130.1 185.5L130.5 184.9L130.4 183.8L130.1 182.8L130.9 182L131.6 182.1M134.2 189.1L133.7 189.9L134.3 190.6L135.3 190.3L135.7 189.1M135 187.9L135 186.6L134.6 186.4L134.1 186.7M134.7 186L134.5 184.7L133.8 184.3L133.6 183.1L133.1 182.7L132.9 181.8M134.7 188.2L133.9 188.5L133.8 189.8L134.5 190.3L135.1 190.7L135.5 190.4L136.8 190.8L138 191.5M135.1 186.5L134.6 186.6L134.3 187.1L133.6 187.8L134 188.8M133.3 189.6L132.8 188.6L132.4 187.3L132.7 186.9L133.1 186L133.4 185.6M133 187.2L134 187.3L134.8 186.5L134.7 185.9M133.2 184.9L132.4 185.8L132.3 187.1L132.4 187.8L133.4 188.6M128.9 187.2L128.7 186.5L127.9 186.7L127.4 187.8L128.1 188.9L128.3 189.8L128.7 190.4M133.5 186.8L132.6 187.5L131.5 187.4L131.2 186L131.2 185.5L132 185.1L132.3 184.1M132.2 186.2L133.1 185.3L134.2 185.4L134.8 185M134.1 185.9L133.7 186.3L132.7 185.9L132 186.1L131.9 186.9L132.1 187.9M133.9 190.6L134.2 191L134.1 191.6L134.4 192.6L134.3 193.1M131.5 188.2L131.8 188.7L132.9 188.5L133.3 187.6L133.4 187L132.5 186.2L133 184.9L134.3 185.1M134.2 188.6L134.6 188.1L134.5 187.4L133.5 187.2L132.8 187.7L132 188.8L130.9 188.4L130.4 187.9M134.4 186.3L133.7 185.6L134.1 184.9L134.8 185L135.7 184.2M132.4 190.2L131.3 190.2L130.6 191.3L131.4 192.3M131.3 186L130.4 185L130.5 184.5L129.8 183.9L129.3 182.8L130.3 182L130.7 181M129.5 186.3L128.5 186.5L128.4 187.4L129.2 187.6L129.3 188.6M129.3 186.9L129.4 187.7L129.6 188.3L130 188.6L131.1 188.6L131.7 188.3L132.1 187.3M132 186L130.8 186.3L129.4 186.5L128.5 186.4L127.5 186.9L127.1 186.6M132.7 186.4L133.4 186.5L133.4 187.3L133.2 188L132.5 188.1L132.3 186.9L132.3 186.3M131 186.6L132.2 187L132.9 186.5L133.4 185.7L133.9 185.3M130 186.8L129.6 186.4L129 186.4L128.8 185.9M129.4 188.5L129.4 187.3L129.9 186.5L130.9 186.2M130.8 185.5L129.9 186L129 186.1L128.3 185.1L127.7 184.5M130.5 187L129.1 186.8L128.2 186.9L127.5 186.9L127.3 186L126.4 185.9L126 186.9L124.7 187.6M129.5 186.5L128.7 185.7L129 185.1L129 184L129.4 183.7L129.7 183.1L130.1 182.2L130.7 182.1M133.1 187.9L134.1 188.8L134.6 189.8L135.6 189.6M131 187.2L130.2 188.2L130.5 188.9L131.1 189.3L131.3 189.8M132.1 188L133.3 187.9L133.8 188L134.5 187.8L135.4 187.2L136.7 186.9L137.7 187.1L138.6 187.8M133.8 186.7L133.7 187.7L132.8 188.8L131.9 189.6L131.2 189.7M137.7 187.6L137.3 188.8L137.8 189.7L138.7 190.6M131.7 191.4L131.3 190.7L131.3 189.4L131.7 188.9L131.6 187.9M133 191.9L132.9 191.4L133.4 191.1L134.4 191.6L135.4 190.7L135.8 190L136.2 189.5L136.9 189.3M133.3 188.5L133.1 187.8L132.8 187.1L133.5 186.5L133 185.9L132.2 185.7L131.7 185.4M136.7 186.9L137.2 186.3L136.8 185.8L137.4 185.1M132.9 186.3L131.8 186.3L131 185.7L130.5 186.2L130.6 187.5L131.1 187.7L132.1 187.4L132.3 186.4M131.2 186.7L132.1 186.9L132.2 188L131.7 188.7L131.3 189.9L130.9 190.5M132.2 189.4L131.9 190.6L130.8 191.1L130.5 192M131.8 187.4L131.2 187.3L131 186.3L130.5 185.7M130.9 187.6L130.2 187.6L129.7 188.2L130.3 189.4M132.4 189.1L132.2 188.4L132 187.2L131.6 186.6M129.8 187.1L130.3 187.7L130.6 188.2L131.4 187.9L131.8 187.7L132.2 186.7M134.2 187.9L133 187.5L132.3 188.6L132.6 189.1L131.8 190L132.2 191.2L133 192.3M132.7 188.1L131.3 187.9L130.8 186.8L130.6 186.2L130.5 185.1L129.8 184.8L129 183.8L127.8 183.7M136 186.8L135.9 186.3L135.2 186.2L134.9 185.8M133.7 186L134.7 186L135.4 185.8L136.6 185.7L137.2 186.3M133.9 188.1L134.4 188.8L135.5 188.9L135.9 188.3L135.9 187.1L136.2 186.6L135.5 186L135 185.5M132.6 187.3L132 187.4L131.5 186.5L130.7 186.7L130.3 186.4M130.4 185.3L130 185.9L128.8 185.5L128.2 185.5L127.7 184.8M132.2 186.3L132 185.7L132.2 184.9L131.7 183.7L131.6 183.2L132.2 182.8L133.1 182.8M133.4 187.4L133.3 188.5L133.6 189.3L134.1 190.5L135.1 191.2M129.2 188.1L130.2 187.3L130.6 186.9L131.2 187.1L132.4 186.9L132.9 187M130.7 189.1L129.9 188.1L130.1 187.5L129.5 186.8L129.2 186L128 186.2L127.8 187.1L128.1 187.8M133.5 188.4L134 189.2L134 190.4L134.4 191M132 188.1L131.3 188.3L130.1 188.9L129.4 188.2L129.5 187.6L129.5 186.4M131.7 188.6L131.2 189.6L131.8 190.6L131.7 191.4L131.8 191.9L131.9 193M136.4 186.7L137.2 186.6L137.6 187.3L137 187.8L136.6 187.5L136.8 186.2M132.6 188.5L133.4 188.4L134.3 189.2L135.4 188.9L135.9 188.2L135.6 187.4L135.7 186.7M134.4 187.4L133.2 186.8L132.6 186.3L132.4 185.5L131.6 185.4M136.1 188.3L136.5 188L137.2 187L136.4 186.1M134.2 186.6L134.8 187L135.7 186.7L136.4 186.5M127.7 187.9L127.1 188.5L126.4 189.6L126.1 190.3L125.6 190.5L124.6 190.4L123.4 191M133.3 187.4L133.6 188.3L133.5 189.4L133.6 190.1L132.9 191.3L132.4 191.2M130.4 188L129.1 187.5L128.6 187.1L128.1 186.5M132.2 186.1L132.4 186.6L133.5 187.4L133.9 187.8L133.7 189.1L133.1 190.1" stroke="#3e2d93" stroke-width="0.5" fill="none" stroke-linejoin="round"/>
<path d="M30.7 159.3Q66 142.6 113.5 114" fill="none" stroke="#1a6fc0" stroke-width="1.6" stroke-dasharray="3.4 2.4"/>
<line x1="30.7" y1="159.3" x2="183" y2="120.3" stroke="#1d9e40" stroke-width="1.9" stroke-dasharray="8.5 3.6"/>
<path d="M30.7 159.3C32.55 161.42 37.98 168.2 41.8 172C45.62 175.8 48.83 179.3 53.6 182.1C58.37 184.9 64.8 187.22 70.4 188.8C76 190.38 81.6 191.18 87.2 191.6C92.8 192.02 98.13 191.83 104 191.3C109.87 190.77 118.57 189.05 122.4 188.4C126.23 187.75 126.23 187.57 127 187.4" stroke="#e5202c" stroke-width="1.7" fill="none"/>
<path d="M30.7 159.3C32.55 159.42 36.58 159.67 41.8 160C47.02 160.33 55.83 160.42 62 161.3C68.17 162.18 73.2 163.7 78.8 165.3C84.4 166.9 90 168.78 95.6 170.9C101.2 173.02 107.08 175.62 112.4 178C117.72 180.38 123.23 183.15 127.5 185.2C131.77 187.25 134.22 187.83 138 190.3C141.78 192.77 146.43 196.95 150.2 200C153.97 203.05 156.67 205.27 160.6 208.6C164.53 211.93 171.6 218.1 173.8 220" stroke="#1d9e40" stroke-width="1.6" fill="none"/>
<path d="M120.8 144.8C125.67 144.67 138.47 143.93 150 144C161.53 144.07 178.33 144.73 190 145.2C201.67 145.67 209.17 145.82 220 146.8C230.83 147.78 240 148.77 255 151.1C270 153.43 296.67 157.93 310 160.8C323.33 163.67 322.5 165.27 335 168.3C347.5 171.33 371.67 176.72 385 179C398.33 181.28 405 181.37 415 182C425 182.63 435 182.75 445 182.8C455 182.85 461.33 183.22 475 182.3C488.67 181.38 513.33 179.35 527 177.3C540.67 175.25 541.5 174.55 557 170C572.5 165.45 603.08 156.33 620 150C636.92 143.67 652.08 135 658.5 132" stroke="#ffffff" stroke-width="3" fill="none" transform="translate(0,0.15)"/>
<path d="M30.7 159.3C33.12 158.75 39.98 157.33 45.2 156C50.42 154.67 56.4 152.65 62 151.3C67.6 149.95 73.2 148.77 78.8 147.9C84.4 147.03 88.6 146.62 95.6 146.1C102.6 145.58 111.73 145.15 120.8 144.8C129.87 144.45 138.47 143.93 150 144C161.53 144.07 178.33 144.73 190 145.2C201.67 145.67 209.17 145.82 220 146.8C230.83 147.78 240 148.77 255 151.1C270 153.43 296.67 157.93 310 160.8C323.33 163.67 322.5 165.27 335 168.3C347.5 171.33 371.67 176.72 385 179C398.33 181.28 405 181.37 415 182C425 182.63 435 182.75 445 182.8C455 182.85 461.33 183.22 475 182.3C488.67 181.38 513.33 179.35 527 177.3C540.67 175.25 541.5 174.55 557 170C572.5 165.45 603.08 156.33 620 150C636.92 143.67 652.08 135 658.5 132" stroke="#4fbcec" stroke-width="1.7" fill="none"/>
<g fill="none" stroke="#f8e9ad" stroke-width="1.6" stroke-linecap="round"><path d="M39.42 146.72C39.53 146.8 39.87 147.05 40.09 147.22C40.31 147.39 40.52 147.57 40.73 147.75C40.94 147.94 41.14 148.13 41.34 148.32C41.54 148.52 41.73 148.72 41.92 148.92C42.11 149.13 42.29 149.34 42.47 149.55C42.65 149.77 42.83 149.99 42.99 150.22C43.16 150.44 43.32 150.67 43.48 150.9C43.63 151.14 43.79 151.38 43.93 151.62C44.07 151.86 44.21 152.11 44.34 152.36C44.48 152.61 44.6 152.86 44.72 153.12C44.84 153.38 44.95 153.64 45.06 153.9C45.17 154.16 45.27 154.43 45.36 154.7C45.45 154.97 45.54 155.24 45.62 155.51C45.7 155.78 45.77 156.06 45.84 156.34C45.9 156.61 45.96 156.89 46.01 157.17C46.07 157.46 46.11 157.74 46.15 158.02C46.19 158.3 46.22 158.59 46.24 158.87C46.26 159.16 46.28 159.44 46.29 159.73C46.3 160.01 46.3 160.3 46.3 160.59C46.29 160.87 46.28 161.16 46.26 161.44C46.24 161.73 46.22 162.01 46.18 162.3C46.15 162.58 46.11 162.86 46.06 163.14C46.02 163.43 45.96 163.71 45.9 163.98C45.84 164.26 45.77 164.54 45.7 164.81C45.62 165.09 45.54 165.36 45.45 165.63C45.36 165.9 45.27 166.17 45.16 166.44C45.06 166.7 44.95 166.96 44.84 167.22C44.72 167.48 44.6 167.74 44.47 167.99C44.35 168.24 44.21 168.49 44.07 168.74C43.93 168.98 43.79 169.22 43.63 169.46C43.48 169.7 43.32 169.93 43.16 170.16C42.99 170.39 42.83 170.61 42.65 170.83C42.48 171.05 42.29 171.26 42.11 171.47C41.92 171.68 41.73 171.88 41.54 172.08C41.34 172.28 41.12 172.49 40.93 172.66C40.75 172.83 40.5 173.04 40.41 173.12"/><path d="M45.1 142.28C45.24 142.42 45.69 142.82 45.98 143.1C46.26 143.38 46.54 143.67 46.81 143.96C47.08 144.26 47.35 144.56 47.61 144.87C47.86 145.18 48.11 145.5 48.35 145.82C48.59 146.14 48.82 146.47 49.05 146.81C49.27 147.15 49.49 147.49 49.7 147.84C49.9 148.18 50.1 148.54 50.29 148.9C50.48 149.26 50.66 149.62 50.83 149.99C51 150.36 51.17 150.73 51.32 151.11C51.47 151.49 51.62 151.87 51.75 152.26C51.88 152.64 52.01 153.03 52.12 153.42C52.24 153.82 52.34 154.21 52.43 154.61C52.53 155.01 52.61 155.41 52.69 155.81C52.76 156.21 52.83 156.62 52.88 157.03C52.94 157.43 52.98 157.84 53.01 158.25C53.05 158.66 53.07 159.07 53.09 159.48C53.1 159.89 53.1 160.3 53.1 160.71C53.09 161.12 53.07 161.53 53.05 161.94C53.02 162.35 52.98 162.76 52.93 163.17C52.89 163.57 52.83 163.98 52.76 164.38C52.69 164.79 52.61 165.19 52.53 165.59C52.44 165.99 52.34 166.39 52.23 166.78C52.12 167.18 52.01 167.57 51.88 167.96C51.75 168.35 51.62 168.73 51.47 169.11C51.32 169.49 51.17 169.87 51 170.24C50.84 170.61 50.66 170.98 50.48 171.34C50.29 171.7 50.1 172.06 49.9 172.41C49.7 172.77 49.49 173.11 49.27 173.45C49.05 173.79 48.82 174.13 48.59 174.45C48.35 174.78 48.11 175.1 47.86 175.42C47.61 175.73 47.35 176.04 47.08 176.34C46.82 176.64 46.47 177 46.26 177.22C46.05 177.44 45.9 177.57 45.83 177.64"/><path d="M50.61 137.88C50.8 138.06 51.35 138.62 51.7 139C52.06 139.39 52.4 139.78 52.74 140.19C53.07 140.59 53.4 141 53.71 141.42C54.02 141.85 54.33 142.28 54.62 142.71C54.91 143.15 55.19 143.6 55.46 144.05C55.73 144.51 55.99 144.97 56.24 145.44C56.49 145.9 56.72 146.38 56.94 146.86C57.17 147.34 57.38 147.83 57.58 148.32C57.78 148.81 57.96 149.31 58.14 149.81C58.31 150.32 58.48 150.82 58.62 151.34C58.77 151.85 58.91 152.36 59.03 152.88C59.16 153.4 59.27 153.92 59.36 154.45C59.46 154.97 59.54 155.5 59.62 156.03C59.69 156.56 59.74 157.09 59.79 157.63C59.83 158.16 59.86 158.7 59.88 159.23C59.9 159.76 59.9 160.3 59.9 160.84C59.89 161.37 59.86 161.91 59.83 162.44C59.79 162.97 59.74 163.51 59.68 164.04C59.62 164.57 59.54 165.1 59.46 165.62C59.37 166.15 59.27 166.68 59.15 167.2C59.04 167.72 58.91 168.24 58.77 168.75C58.63 169.27 58.47 169.78 58.31 170.28C58.14 170.79 57.96 171.29 57.77 171.79C57.58 172.28 57.38 172.77 57.16 173.26C56.95 173.74 56.72 174.22 56.48 174.69C56.24 175.17 55.99 175.63 55.73 176.09C55.47 176.55 55.19 177 54.91 177.44C54.62 177.89 54.33 178.32 54.02 178.75C53.71 179.18 53.4 179.6 53.07 180.01C52.74 180.42 52.37 180.85 52.06 181.21C51.74 181.57 51.31 182.01 51.17 182.17"/><path d="M56.16 133.57C56.37 133.81 57.03 134.52 57.45 135.01C57.87 135.5 58.28 136 58.68 136.51C59.07 137.02 59.46 137.55 59.82 138.08C60.19 138.62 60.55 139.16 60.89 139.71C61.23 140.27 61.56 140.83 61.88 141.4C62.19 141.97 62.49 142.55 62.78 143.14C63.06 143.73 63.33 144.32 63.59 144.93C63.84 145.53 64.08 146.14 64.31 146.75C64.53 147.37 64.74 147.99 64.94 148.62C65.13 149.25 65.31 149.88 65.47 150.52C65.64 151.15 65.78 151.8 65.91 152.44C66.04 153.09 66.16 153.74 66.26 154.39C66.36 155.04 66.44 155.69 66.5 156.35C66.57 157 66.62 157.66 66.65 158.32C66.68 158.98 66.7 159.64 66.7 160.3C66.7 160.96 66.68 161.62 66.65 162.28C66.62 162.94 66.57 163.6 66.5 164.25C66.44 164.91 66.36 165.56 66.26 166.21C66.16 166.86 66.04 167.51 65.91 168.16C65.78 168.8 65.64 169.45 65.47 170.08C65.31 170.72 65.13 171.35 64.94 171.98C64.74 172.61 64.53 173.23 64.31 173.85C64.08 174.46 63.84 175.07 63.59 175.67C63.33 176.28 63.06 176.87 62.78 177.46C62.49 178.05 62.19 178.63 61.88 179.2C61.56 179.77 61.23 180.33 60.89 180.89C60.55 181.44 60.19 181.98 59.82 182.52C59.46 183.05 59.07 183.58 58.68 184.09C58.28 184.6 57.8 185.18 57.45 185.59C57.11 186 56.74 186.4 56.6 186.56"/><path d="M61.49 129.08C61.74 129.37 62.51 130.23 63 130.82C63.49 131.41 63.97 132.01 64.43 132.63C64.89 133.25 65.33 133.88 65.76 134.52C66.19 135.17 66.6 135.82 67 136.49C67.39 137.15 67.77 137.83 68.13 138.51C68.5 139.2 68.84 139.89 69.17 140.6C69.5 141.3 69.81 142.02 70.1 142.74C70.39 143.46 70.66 144.19 70.92 144.93C71.17 145.67 71.41 146.41 71.63 147.16C71.85 147.91 72.05 148.67 72.23 149.43C72.41 150.19 72.57 150.96 72.71 151.73C72.86 152.49 72.98 153.27 73.08 154.05C73.19 154.82 73.27 155.6 73.34 156.38C73.4 157.16 73.45 157.95 73.47 158.73C73.5 159.52 73.51 160.3 73.49 161.08C73.48 161.87 73.45 162.65 73.4 163.43C73.34 164.22 73.27 165 73.18 165.78C73.09 166.55 72.98 167.33 72.85 168.1C72.72 168.88 72.57 169.65 72.4 170.41C72.24 171.17 72.05 171.93 71.84 172.69C71.64 173.44 71.41 174.19 71.17 174.93C70.93 175.67 70.66 176.41 70.38 177.13C70.1 177.86 69.81 178.58 69.49 179.29C69.17 180 68.84 180.71 68.49 181.4C68.14 182.09 67.77 182.77 67.39 183.45C67 184.12 66.6 184.78 66.18 185.43C65.77 186.08 65.33 186.72 64.88 187.35C64.43 187.97 63.97 188.59 63.49 189.19C63.01 189.79 62.29 190.61 62 190.95C61.71 191.29 61.79 191.19 61.75 191.23"/><path d="M66.98 124.78C67.26 125.12 68.14 126.13 68.7 126.82C69.25 127.52 69.79 128.23 70.31 128.96C70.83 129.68 71.34 130.42 71.82 131.18C72.3 131.93 72.77 132.7 73.22 133.48C73.66 134.26 74.09 135.05 74.49 135.85C74.9 136.65 75.29 137.47 75.65 138.29C76.02 139.11 76.36 139.95 76.69 140.79C77.01 141.63 77.32 142.49 77.6 143.34C77.88 144.2 78.14 145.07 78.38 145.94C78.62 146.82 78.83 147.7 79.03 148.58C79.22 149.47 79.4 150.36 79.55 151.26C79.7 152.15 79.82 153.05 79.93 153.95C80.04 154.85 80.12 155.76 80.18 156.67C80.24 157.57 80.28 158.48 80.29 159.39C80.31 160.3 80.3 161.21 80.27 162.12C80.24 163.03 80.19 163.93 80.11 164.84C80.04 165.74 79.94 166.65 79.82 167.55C79.7 168.45 79.55 169.35 79.39 170.24C79.22 171.13 79.04 172.02 78.83 172.9C78.62 173.78 78.39 174.66 78.13 175.53C77.88 176.4 77.6 177.26 77.31 178.11C77.01 178.97 76.7 179.81 76.36 180.65C76.02 181.49 75.66 182.31 75.28 183.13C74.9 183.95 74.5 184.75 74.08 185.55C73.66 186.34 73.22 187.13 72.76 187.9C72.3 188.67 71.83 189.43 71.33 190.17C70.83 190.92 70.32 191.65 69.79 192.36C69.25 193.08 68.55 193.95 68.13 194.47C67.71 194.99 67.41 195.32 67.27 195.48"/><path d="M72.28 120.29C72.61 120.68 73.59 121.83 74.22 122.63C74.85 123.43 75.45 124.24 76.04 125.07C76.62 125.91 77.19 126.75 77.73 127.61C78.27 128.48 78.8 129.35 79.3 130.24C79.8 131.13 80.27 132.04 80.73 132.96C81.18 133.87 81.61 134.8 82.02 135.74C82.43 136.68 82.81 137.63 83.18 138.6C83.54 139.56 83.87 140.53 84.19 141.51C84.5 142.49 84.79 143.48 85.05 144.47C85.31 145.47 85.55 146.47 85.76 147.48C85.98 148.49 86.16 149.51 86.33 150.53C86.49 151.54 86.63 152.57 86.74 153.6C86.85 154.62 86.93 155.65 86.99 156.68C87.05 157.72 87.09 158.75 87.1 159.78C87.11 160.82 87.09 161.85 87.05 162.88C87 163.92 86.93 164.95 86.84 165.98C86.75 167 86.63 168.03 86.48 169.05C86.34 170.08 86.16 171.09 85.97 172.11C85.77 173.12 85.55 174.13 85.3 175.13C85.06 176.13 84.79 177.12 84.49 178.11C84.19 179.09 83.87 180.07 83.53 181.04C83.18 182.01 82.81 182.97 82.42 183.91C82.03 184.86 81.61 185.8 81.17 186.72C80.74 187.65 80.27 188.56 79.79 189.46C79.3 190.36 78.8 191.25 78.27 192.12C77.74 192.99 77.19 193.85 76.62 194.69C76.04 195.53 75.45 196.36 74.84 197.17C74.23 197.97 73.31 199.08 72.94 199.54C72.57 200 72.67 199.86 72.61 199.93"/><path d="M78.03 116.33C78.39 116.77 79.47 118.08 80.16 118.99C80.85 119.9 81.51 120.82 82.15 121.76C82.79 122.71 83.41 123.67 84 124.64C84.59 125.62 85.16 126.62 85.71 127.62C86.25 128.63 86.77 129.65 87.26 130.69C87.75 131.73 88.22 132.78 88.66 133.84C89.1 134.9 89.51 135.98 89.9 137.06C90.28 138.14 90.64 139.24 90.97 140.35C91.31 141.45 91.61 142.56 91.89 143.68C92.16 144.81 92.41 145.94 92.63 147.07C92.85 148.2 93.04 149.35 93.21 150.49C93.37 151.64 93.5 152.79 93.61 153.94C93.71 155.09 93.79 156.25 93.84 157.41C93.89 158.56 93.91 159.72 93.9 160.88C93.89 162.04 93.85 163.2 93.78 164.35C93.71 165.51 93.62 166.66 93.49 167.81C93.37 168.96 93.22 170.11 93.03 171.25C92.85 172.39 92.64 173.53 92.4 174.66C92.16 175.79 91.9 176.92 91.6 178.03C91.31 179.15 90.98 180.26 90.63 181.36C90.28 182.45 89.91 183.54 89.5 184.62C89.1 185.7 88.67 186.77 88.21 187.82C87.75 188.87 87.27 189.91 86.76 190.94C86.25 191.97 85.71 192.98 85.15 193.98C84.6 194.98 84.01 195.96 83.4 196.93C82.79 197.89 82.16 198.84 81.5 199.77C80.85 200.7 80.11 201.69 79.47 202.51C78.83 203.33 77.97 204.34 77.67 204.7"/><path d="M83.13 111.6C83.52 112.09 84.72 113.54 85.48 114.55C86.24 115.55 86.98 116.57 87.69 117.62C88.4 118.66 89.08 119.73 89.74 120.81C90.39 121.89 91.02 122.99 91.62 124.11C92.23 125.22 92.8 126.36 93.35 127.5C93.89 128.65 94.41 129.82 94.89 130.99C95.38 132.17 95.84 133.36 96.27 134.56C96.69 135.76 97.09 136.98 97.46 138.2C97.83 139.42 98.16 140.66 98.47 141.9C98.78 143.14 99.05 144.39 99.29 145.65C99.54 146.9 99.75 148.17 99.93 149.44C100.11 150.7 100.26 151.98 100.38 153.26C100.49 154.53 100.58 155.81 100.63 157.09C100.69 158.37 100.71 159.66 100.7 160.94C100.69 162.22 100.64 163.51 100.57 164.79C100.49 166.07 100.39 167.35 100.25 168.62C100.11 169.89 99.94 171.17 99.74 172.43C99.54 173.7 99.31 174.96 99.04 176.21C98.78 177.46 98.48 178.71 98.15 179.94C97.83 181.18 97.47 182.41 97.08 183.62C96.7 184.84 96.28 186.04 95.83 187.24C95.38 188.43 94.9 189.61 94.4 190.78C93.89 191.95 93.35 193.1 92.79 194.24C92.23 195.38 91.63 196.5 91.01 197.6C90.39 198.71 89.75 199.8 89.07 200.87C88.4 201.94 87.7 202.99 86.97 204.02C86.24 205.05 85.35 206.22 84.71 207.05C84.07 207.88 83.39 208.68 83.13 209"/><path d="M88.66 107.4C89.09 107.94 90.39 109.54 91.22 110.65C92.04 111.76 92.84 112.89 93.61 114.05C94.38 115.2 95.12 116.37 95.83 117.57C96.54 118.76 97.22 119.97 97.87 121.2C98.52 122.44 99.14 123.69 99.73 124.95C100.31 126.21 100.87 127.5 101.39 128.79C101.92 130.09 102.41 131.4 102.87 132.72C103.33 134.04 103.75 135.38 104.14 136.72C104.54 138.07 104.89 139.43 105.22 140.79C105.54 142.16 105.83 143.53 106.09 144.91C106.34 146.29 106.57 147.68 106.75 149.08C106.94 150.47 107.09 151.87 107.21 153.27C107.32 154.67 107.41 156.08 107.45 157.49C107.5 158.89 107.51 160.3 107.49 161.71C107.46 163.11 107.41 164.52 107.31 165.93C107.22 167.33 107.09 168.73 106.93 170.13C106.76 171.52 106.57 172.92 106.33 174.3C106.1 175.69 105.83 177.07 105.53 178.44C105.23 179.81 104.89 181.18 104.52 182.53C104.16 183.88 103.75 185.22 103.32 186.55C102.88 187.88 102.41 189.2 101.91 190.51C101.41 191.81 100.87 193.1 100.3 194.38C99.74 195.65 99.14 196.92 98.51 198.16C97.88 199.4 97.22 200.63 96.53 201.83C95.84 203.04 95.12 204.23 94.37 205.39C93.62 206.56 92.84 207.71 92.04 208.83C91.23 209.95 90.09 211.41 89.53 212.13C88.97 212.86 88.81 213.03 88.66 213.2"/><path d="M94.27 103.29C94.73 103.89 96.14 105.65 97.02 106.86C97.91 108.08 98.77 109.32 99.6 110.58C100.42 111.84 101.22 113.13 101.98 114.44C102.74 115.74 103.47 117.07 104.17 118.42C104.87 119.76 105.53 121.13 106.16 122.51C106.78 123.89 107.38 125.29 107.94 126.71C108.49 128.12 109.02 129.55 109.5 131C109.99 132.44 110.44 133.9 110.86 135.37C111.27 136.84 111.65 138.32 111.99 139.81C112.33 141.3 112.63 142.8 112.9 144.3C113.17 145.81 113.39 147.32 113.58 148.84C113.78 150.36 113.93 151.89 114.04 153.41C114.16 154.94 114.23 156.47 114.27 158C114.31 159.53 114.31 161.07 114.27 162.6C114.23 164.13 114.16 165.66 114.04 167.19C113.93 168.71 113.78 170.24 113.58 171.76C113.39 173.28 113.17 174.79 112.9 176.3C112.63 177.8 112.33 179.3 111.99 180.79C111.65 182.28 111.27 183.76 110.86 185.23C110.44 186.7 109.99 188.16 109.5 189.6C109.02 191.05 108.49 192.48 107.94 193.89C107.38 195.31 106.78 196.71 106.16 198.09C105.53 199.47 104.87 200.84 104.17 202.18C103.47 203.53 102.74 204.86 101.98 206.16C101.22 207.47 100.42 208.76 99.6 210.02C98.77 211.28 97.91 212.52 97.02 213.74C96.14 214.95 94.81 216.62 94.27 217.31C93.73 218 93.87 217.79 93.79 217.89"/><path d="M99.44 98.65C99.94 99.3 101.46 101.2 102.42 102.52C103.38 103.83 104.31 105.17 105.2 106.54C106.09 107.9 106.95 109.29 107.78 110.7C108.6 112.12 109.39 113.55 110.15 115.01C110.9 116.46 111.61 117.94 112.29 119.44C112.97 120.93 113.62 122.45 114.22 123.98C114.82 125.51 115.39 127.05 115.91 128.62C116.44 130.18 116.93 131.75 117.38 133.34C117.83 134.93 118.23 136.53 118.6 138.14C118.97 139.75 119.3 141.37 119.59 143C119.87 144.63 120.12 146.27 120.33 147.91C120.53 149.55 120.7 151.2 120.82 152.85C120.95 154.5 121.03 156.16 121.07 157.82C121.11 159.47 121.11 161.13 121.07 162.78C121.03 164.44 120.95 166.1 120.82 167.75C120.7 169.4 120.53 171.05 120.33 172.69C120.12 174.33 119.87 175.97 119.59 177.6C119.3 179.23 118.97 180.85 118.6 182.46C118.23 184.07 117.83 185.67 117.38 187.26C116.93 188.85 116.44 190.42 115.91 191.98C115.39 193.55 114.82 195.09 114.22 196.62C113.62 198.15 112.97 199.67 112.29 201.16C111.61 202.66 110.9 204.14 110.15 205.59C109.39 207.05 108.6 208.48 107.78 209.9C106.95 211.31 106.09 212.7 105.2 214.06C104.31 215.43 103.38 216.77 102.42 218.08C101.46 219.4 100.02 221.2 99.44 221.95C98.86 222.69 99.01 222.47 98.93 222.57"/></g>
<path d="M203.6 118.5L203.3 116.4L203.5 115.5L201.8 114.3L201.6 113.8M214.2 113.8L214.6 114.3L214.3 116.5L215 117.7M198.4 115.7L198.5 117.9L198.4 120.3L197.3 122.2L195.9 123.2L195.1 124.7M197.5 113.3L197.1 112.7L197 111.4L196.3 110.8L195.6 110.2L194.2 109.3L193.5 109.1M196 115.9L196.8 115.8L198.4 115.2L198.8 115L200.5 113.7M205.8 116.6L204.6 116.7L203.3 114.9L203.5 114.1L204.6 113.7L205.4 113.8L205.4 115.5M201.2 111.9L201.6 112.3L202.4 113.7L203.2 113.8L204.1 115.1L203.7 115.8L203.2 117.4L201.5 118M220.3 107.2L219.6 108L218.6 110.1L217.6 111.5M213.3 108.9L214.6 108.3L215.6 109.5L216.8 110.8M202.5 114.6L201.8 114.3L199.8 113.9L198.7 114.7L198.3 116.6L197.7 117.8L196.7 118.6L196.2 119.9M205.8 113.2L204.5 112.6L204.8 111.4L203.6 110.6M208 111.5L208 112.4L208.6 113.5L209.3 113.3M197.1 118.2L197.5 116.7L196 115.3L193.9 114.7L193.2 114.4L192.7 115.2L191.9 115.2L190.7 115.2M194.7 121.1L196.6 120.2L197.4 118.4L198.2 118L198.6 117.6M199.9 114.2L201.1 115.9L201.6 116.8L200.9 117.6L201.1 118.1L203 117.9L203.6 116.1L206 115.7M205.7 109.5L207.4 110.1L207.5 110.7L208.6 111.2L209.9 111.3L210.4 110.7L210.5 109.2L210.7 108.2M210.3 121.7L209 120.2L208.3 119.5L206.6 118.1L206 117.4L204.8 116.8M208.7 115.9L207.9 116L207.9 116.8L209.9 117.8M188.5 115.7L187.7 117.3L187.1 119.5L189 120.5M215.8 114.7L215.8 113.4L216.4 112.7L216 112.2L214.7 111.5M184 116.4L183.5 114.9L184.3 114.5L184.8 114.2L185.3 113.7L186 112.7M209.5 113.9L209.3 112.9L207.5 112.4L206.9 112.1L206 110.8M186.4 118.3L185 118.1L183.8 117.6L183.7 116.3L184.8 115.9L187 116.3M198.4 112L199.4 111.8L199.8 112.2L199.8 113.4M183.1 120.5L183.8 120.3L184.6 119.5L185.4 120M210 110.3L210.5 108.5L212.1 106.8L213.4 105.7L214.2 103.5M206.8 114.3L206.6 116.4L205.7 118L204 119M205.9 111.2L207.1 112.8L206.9 114.7L208.5 115.8M201 116.9L200.4 118.3L199.4 118.3L198.8 117.9L198.4 117.2L199.4 115.1M204.2 119.3L202.9 119.8L202.3 119.8L201.5 118.5L200.1 118.4M185.1 120L185.4 120.6L187.4 120.5L188.3 121.5M198.6 115.8L197.5 116L196.3 116.5L195.5 117.3M199.9 116.3L200.1 114.7L202 114.3L204 114.4L205.5 114.5M207.3 108.1L207.3 106.8L208.5 106.3L208.5 105.4L206.6 104L206.5 103.4L206.3 102.7M209 108.6L210.3 107.8L211.1 107.5L211.8 106.3L212.8 104.4L211.9 103.5L211.8 102.2M205.8 111.1L205.2 111.3L203.5 112.3L201.9 112L201.3 112.1M198.8 111.4L197.5 110.7L197.4 109.4L197.3 108L197.5 107.3L198.2 105.7L196.6 104.6L195.9 104.2M202.4 113L202.8 112.6L203.6 112.6L204.8 113.4L204.5 114.2L202.7 114.8L203 116.4L204.2 117.8M216.4 108.3L216.9 108.7L217 109.3L216.9 110.5L216.4 111.2L214.5 110.7L213.7 110.8M213.5 110.4L214 112L214.7 112.3L216.1 111.7L217.8 112.5L218.3 112.9M199.9 110.6L198.6 112.1L198.4 114.1L200.3 114.6L202.1 115M204.6 111.1L204.3 110.2L203.1 109.3L203 107.7M219.7 108.5L221.9 109.3L222.6 108.2L222.3 107.7L221.8 107.5L221.7 106.8L222.3 106.5L224.2 107.1M218.7 108.5L220 107.1L221.1 105.6L222.1 106L222.8 107L221.8 108.7L219.6 108.8M182.3 115.3L183.6 115L184.6 114L186.3 113.8L187.4 114.8M213.1 113L215.4 112.4L217.1 111.9L217.7 111.5L218.5 111.3L219 109.7M202.2 113.4L203 112.6L204.9 112.6L205.9 113.5L205.7 114.2L205.1 114.2L204 115.8M203.4 108.5L202.2 109.4L202.7 110.4L203.6 110.6L205.5 109.9M194.5 114.3L192.8 115.3L192.5 117.6L191.8 117.7L191 117.1L189.2 118.3L188.4 119L187.9 119.3M191.3 119.4L191.1 120.1L191.7 121.1L192.4 121.1L193.4 121.8L194.8 121.4L195.2 119.6M213.2 109.6L213.7 111.1L214 112.1L213.5 113.2L212.6 114.4L212 114.3L210.5 113.2M211.6 111.2L210.2 110.8L210.2 110.1L208.5 108.7L209.1 106.7L209.8 106.6L210.5 106.9M207.8 109.4L208.4 108.3L207.8 107.5L207.8 107L209.2 105.6L210 104.8L209.8 103.1M197.9 108.5L196.2 107L196 104.7L197.2 102.9L199.4 103.3L199.9 104.4M197.2 115.7L196.1 116.4L196.5 117.4L197.5 117.6L198.6 115.9L197.8 115L196.9 115M202.1 105.4L202.2 106.9L203.7 107.5L203.7 109.6L205.9 110.2L206.9 108.9M201.2 116.3L199.8 116L199 114.3L198.4 113.3M203.8 107L203.8 109.3L202.6 111L202.3 112.1L202 112.5L200.8 114.2L199.3 114.3L197.9 112.8M196.6 119.4L196.1 119.5L194.7 120L193.1 118.4L193 117.2M216.3 104.2L215.7 104.4L214 104L213.5 103.6M198.5 115.6L198.5 114.9L200.5 113.9L201.4 113.4L202.4 111.7L203.3 110.8L204 110.6M189.2 122.2L187.5 120.8L187 120.3L185.3 120.9M197.6 118.7L198.4 119.4L198.9 120.6L199.9 120.9M205.1 115.9L207.3 115.5L208.5 113.6L210.3 112.1L211 111.4L210.4 109.8L210.7 108.1M206.4 111.7L207.5 109.7L206.4 108.6L204.9 108.3L203.9 109L203.3 110.2L203.1 111.1L203.9 112.2M221.4 107.6L221.9 107.2L221.7 105.5L222.9 104.2L224.7 104.6M195 117L195.2 118.6L194.4 119.8L194.1 120.7L191.8 121.5L190 121.7L189.3 122.1L189.7 123.7M215 107.4L215.6 106.2L215.1 104.2L215.5 102.7L217.5 101.7M209.6 112.2L211.2 113.4L212.7 113.4L213.7 112.3L216 112.5L216.8 113.1L217.9 112.7M199.4 118L200.6 119.8L200.4 121.5L199.6 122.2L199.6 123.7M189.7 118.6L188.8 120.2L187.2 120.1L185.1 119.5L185.1 118.9L185.7 118.7L187.1 118.4M209.8 111.2L210.2 111.7L209.2 112.8L209.8 114.9M211.7 110.9L212.6 110.2L212.4 108.5L211.8 108.2M212.9 108.4L214.4 109.1L214.8 109.8L215.7 111.1L216.3 112L216.8 112.5L217.4 112.3M206 110.5L205.9 111L204.6 111.7L202.8 110.4L202.4 110.8L202.3 111.4L201.6 111.7L199.3 111.4M190.8 106.9L189.3 108.4L189.1 109.2L190 109.8L189.1 111.8L189.9 114L191.5 113.7M210.8 113.9L212.5 113.3L213.5 112.8L214.9 111.2M206.6 107.1L205.1 109L205.7 110.2L207.2 110.3L208 112.5L208.8 114.3M198.6 112.8L196.8 113.1L196.2 113.9L195.2 114.2M211.9 114.7L212.3 115.5L210.9 117.5L210.4 117.4L209.5 117.4L208 116.3M209.3 113.5L211.6 113.3L213.7 113.4L214.7 113.7L216.4 113.9L218.4 113.3L218.7 112.2L218.4 111.5M215.9 109.5L215.4 108.8L214.4 108.9L213 107.4M203.3 113.6L204.4 112.5L203.6 111.2L201.9 111L200.8 112.1L200.4 113.5M213.7 109.1L215.2 110.4L215.3 111.2L214.5 111.9L212.7 113.2L212 112.7L211.1 113.1L208.8 113.3M192.4 112.2L192.1 112.6L190.9 112.8L190.4 114.2L190.3 115.3L189.5 116.2L188.6 117M207.3 112.3L206.7 110.1L207.2 108.1L206.2 106.2L204.3 106.8L204.4 108.4M202.7 115.7L202.8 116.3L203.9 117L205.2 118.2L207.2 118.9M209.3 112.1L208.3 110.1L206.8 108.6L205.2 109.1L205 110.8L205.1 112.1L204.9 113M186.4 121.6L188.2 120.9L188.9 119.5L188.2 118.9M203.9 117.8L201.8 118.5L200.8 117.8L199.9 117.1L200.7 115L201.8 114.2L203.3 114.5L204.5 113.1M214.2 105.1L215.8 103.6L215.1 102.1L214 100.9L211.9 101.4L210.5 101.9L209.3 102.4L207.8 102.6M203.5 111L203.4 113.4L203.3 114.8L201.9 115.6L201 115.8L199.3 114.1L198.3 113.2L197.2 113.2M207.2 111.4L205.5 110.6L204.5 109.3L203.2 107.5L203 106.9L204 105.5L203.9 103.5L205.6 102.7M185.5 119.9L187.3 121L187.5 121.9L188 123.6M178.5 123.8L178.6 125.2L177.3 126.5L175.6 125.5M188.7 117.6L189.1 115.7L188.8 113.9L188.4 113.1L188 112.3L186.5 111.8M200.7 111.2L199.5 111.6L198.6 110.6L197.3 108.7M185.7 119.5L187.3 119.5L187.9 121.4L188.2 121.9L190 123L191.9 122.9L192.8 122.7L194.5 121.4M197.9 114.1L198.6 115.9L199.5 116.4L201.2 116.2L201.6 115.8L203.1 116L203.5 115.5M212.1 108.7L212.4 109.8L213.1 109.9L213.4 109.2L213.3 108.2L213.7 107.2L216 107.3L216.5 105.7M194.2 116.8L195.9 117.6L195.7 118.9L197.5 119.7L198.7 119.7L199 121L201.2 121.5L201.4 120.9M200.6 112.4L201.7 111.7L203.6 111.3L204.4 111.6L204.6 112.1L204.8 112.7M203.3 109.8L204.8 110.9L207 110L207.2 109.3L206.3 108L205.5 107.6L205.4 106.8M195.6 116.7L197 116L199 116L201.1 117L201.5 119.3L202 120.7L203.4 121.2M194 116.1L195 116.3L197 117L198.7 117.1L200.2 115.4L201.3 114.7M207.2 110.2L207.9 109.9L208.9 108.9L208.8 108L210.4 107.2L210.3 106.3L211.6 104.8L212.2 104.6M197.7 110.8L197.7 109.5L199.5 109.2L200.4 110.9L200 111.7L199.3 112M203.2 108.5L202.9 110.3L202.2 110.7L199.9 111L199.5 112.7L197.4 113.2L197.3 114.5M203.6 111.8L205.1 111.8L206.5 110.1L205.3 108.6L203.6 108.4L202.8 109M208.2 113.7L206.6 112.2L205.3 111.4L205.8 109.4L207.1 108.6M204.6 114.1L204.7 114.9L204.9 116.2L206.5 116.6L206.8 117.5M195.1 119.4L196.4 119.5L196.9 120L197.1 121M195.3 114L195 114.6L195.4 115L195.5 115.6L194.9 116.3M194.5 117L195.6 117.9L197.4 118.7L198.3 118.7L199.3 117.2L199.1 116.4M213.9 112.4L214.4 111.4L213 110.2L211.1 110.6L209.7 109.5L210.1 107.9M239.7 102.7L238.2 102.7L237.7 101.7L238.5 100L237.3 98.1L237.3 95.8L237.5 93.7M182.6 118.2L182 118.8L181.2 119.7L180.7 120.5L180.6 122.4L180.9 123.9L181.6 124.2L182.4 125.1M183 116.7L183.3 118.7L184.2 119.3L184.5 119.9M210.2 113L208.2 114.1L208 115.8L208.6 117.1M209.8 109.1L211.6 109.3L212.4 108.6L213.5 109.5M203.5 117.6L201.3 117.2L200.3 115.9L199.2 114.4L197.9 114.3M206.2 112.8L205.7 112.7L204.4 113.1L203.1 112L202 110.9L201.3 109.8L201.9 108.5L203.7 107.2M189.9 116.1L191.1 114.1L193 114.5L194.3 112.6L195.3 111.6L196.9 111.8L197.7 113.1L200 113.4M206.3 116.6L206.5 114.9L206.3 112.7L204.7 112L203.6 111.4M212 110L211 112L210.7 112.8L209.4 113.9L208.4 114.1L207.2 114.3L207.2 115.7M195.1 112.9L195.2 114.4L195.4 116.2L195.5 118.2L195.9 119.9L196.5 120.4M203.5 109.2L202.8 109.1L201.6 107.8L200.1 107.2L198.3 108.2L196.6 107.5M211.5 111.7L211.7 112.8L210.6 114.5L209.7 114.4L208.2 114M194 113.1L195.7 114.6L196 115.1L196.2 115.8L196.6 117.8M198.9 113.2L197.4 113.4L196.8 113.1L194.8 113.4L194.2 113.2L192.5 114.8L192.9 116.9M201.7 111.2L199.5 110.6L198.4 110.5L197.5 111.7L196.9 112L196.3 112M203.3 116.6L202.1 115.9L202.3 113.5L202.3 111.4L200.8 109.7L199.1 110.5L197.3 110.9L196.1 112.1M196.6 116.2L197 117.2L196.2 118.5L195.1 119.9L194.2 119.9L192.2 120L191.9 119.1M198.2 110.9L198.6 109.5L198.5 107.5L199.4 106.1L200.1 105.3L201.1 104.4L202.9 103M185.8 116.9L185.8 119.1L186.6 119.8L186.6 122L184.9 122.7L183.4 122.5L182.3 123M197.4 118.9L197.3 119.5L197.8 120.1L198.6 120.8M196.4 115.8L196.8 117.7L196 119.7L197.5 120.6L198.6 121.4L200.3 121.8L200.9 122.4L201.8 122.8M212.2 108.8L213.1 109.2L214.6 108.9L215.1 109.5L216.3 110.2L218.1 109L219.1 109.4M204 111.1L205.4 111.8L205.9 113.5L205.6 115.1M213.9 110.6L214.5 109.8L215.4 108.1L216.5 108.3L218.4 109.5M208.1 111.3L208.8 112L210 113.6L212 114.9L212.9 114.3L215 114.8L217.2 114.3M210.8 107L211 107.5L210.7 108.1L209.7 108M207.7 113.5L208.3 114.6L209.5 115.1L210.8 115L211 113.5L210.8 112.6L212.1 111.3L212.2 109.2M203.7 112.3L204.8 110.2L204.5 109.5L202.8 109.3M204.7 115.8L204.4 116.8L204 117.3L203.3 117.4M212.4 115.6L212 117.9L212.5 119.5L213.4 121.6M201.6 115.7L201.3 116.2L200.5 116.1L199 114.6L199.3 113L198.2 112.2L196.4 112.7L196.5 113.5M196.9 111.1L197.9 110.2L198.6 110.4L199.1 109.5L200.3 109.6L201.1 109.2L202 109.5L203.5 108.4M200.3 111.7L199 109.9L198.8 109.3L197 109.2L196.3 109L196.2 108.2L195.2 107.8M191.6 113.5L192.4 113.8L194.2 112.7L195 111.7L196.6 110.2M210.9 113.2L212.5 113L212.6 112.3L212 111.8L209.6 112.1M205.8 115.9L208 115.4L209.3 114.8L211.1 116M207.1 108.2L208.2 109.8L207.6 110.5L205.6 110.1M206.3 109L205.7 107.5L205.9 105.4L207.3 104.9L207.8 104.5L209.6 105.2L209.9 106.3M203.3 116.5L204.7 116.6L206.2 116.1L208.4 115.3L208.9 113.2L210.7 113.2L211.8 113.3L212.1 114.7M213.4 107.8L213.4 107.1L212.5 105.7L212 105.1M214.8 110.8L217 111.7L218.2 111.2L219.3 112.6L218.5 114.8L216.5 115.6L215.7 115.1M225.2 111.2L226 109.6L226.8 109L228.7 110L230.2 111.9M202.8 111.8L203.7 110.7L203 109.8L202.8 109.1L200.5 109.1L199 110M204.7 115.3L204.6 116.7L205.4 118.6L204 119.5L203.7 120.1L201.6 120.7M206.3 112.4L205.9 111.7L205.7 110L205.7 108.6L205.6 108M195.1 117.8L193.5 117.6L192.6 116.4L192 114.2L192.6 113M192.8 106.9L191.5 107.5L190 109.1L189.6 110.1L189.2 110.9L187.7 111.3L187.4 110.6M185.3 117.6L184.8 118.9L185.2 120L187.1 120.7M215.7 114.1L216.5 113.4L218 113.8L218.1 115L219.4 116.7L220 118.3L220.1 120.4L220.4 120.9M211.8 107.7L211.4 108L210.9 109.2L210.3 110.5M200.6 116.6L201.8 117.1L202.6 116.4L204.6 115.3L204.5 113.6M207.9 109.5L208.3 109.9L209.4 110.7L209.5 111.2L210.1 113L210.9 113.6L211.8 114.2M209.5 112.6L208.2 112.3L207.1 113.8L206.9 115.1L206.1 115.4L206 116.6L205.8 118.1L206 120.2M204.5 107.4L205.1 105.2L205.6 105.1L206.9 105.4L207.9 104.4L209 104.9M197.4 115.1L197.7 114L198.3 113.5L198.1 112.6L197.9 112L198.5 110.8L200.5 110.5L200.8 111.1M209.6 108.9L209 107.9L208.4 107.5L207.5 106.7L206 105.9L205.6 105.3L204.1 104.7M219.1 107.9L217 107.9L216.2 106.9L214.7 105L214 103.6L214 103L212.2 102.3L210.5 101.8M207.3 108.2L207.5 109.5L206 110.2L204.9 110L203.6 111.4M195 118.2L193.9 118.1L193.1 120.2L191.8 120.4L191 119.1L191.1 118.5L191.2 116.2L192 115M188.2 112.1L188.7 112.8L188.2 113.5L187.5 114.4L187.4 115.1L189.7 116L190.3 116.5L189.8 117.4M195.4 113.7L193.8 114.8L193.1 114.8L192 114.6L191.7 112.4M206 114.3L205.8 115.7L204.2 115.9L204.1 116.7L202.7 116.9L201.2 117.1L199.5 117M201.5 114.4L201.1 112.7L200.4 112.8L198.5 113.8L197.4 115.2L196.2 115.3L194.6 116.2M196.8 110.5L195.8 111.6L195.3 111.5L194.3 113.3L192.9 113.4L192.4 113.2L191.5 113.3L190.6 114.4M205 112L205.4 113.6L205.6 114.1L207 115.7L208.9 115.6M207.8 109.7L207.8 108L207.8 107.5L209.6 106.1M207.1 123.1L206.8 121.2L206.5 119.9L206.3 118.5L206.4 117.2L205.1 115.7M191.5 116.7L190.8 116.2L189.9 115.5L189.2 115.5L188.7 116L187.5 116.2L187 116.1L186.6 115M186.9 117.6L188.1 116.9L189 117L190.6 118.5L191.3 119M193.4 119.9L194.8 121L195.3 121.2L195.7 120.7L195.5 119.1L193.8 118.8M199.2 115.1L200 114.6L200.9 114.3L201.3 115L201.9 115L202.5 114.3L201.6 113.1M210.4 118.2L209.9 118.4L209.2 119.1L209.6 121L210.8 121L212.4 120.6L213.9 120.5L214.1 119.9M202.2 115.1L201.2 116.5L202.2 118.3L201.7 118.9L201.4 120.2L199.7 121.4L198.7 121.7L197.3 120.2M224.5 109.8L224.4 109.3L225 108L224.7 106.8L225.3 105.1L224.6 104.6L223.9 103.8L221.7 104.5M220.8 107.4L219.4 106.6L218.7 107L217 108L216.2 107.9L214 108.6L213.3 108.9M220.2 113.6L220.5 114.9L221.5 115.5L221.3 116.6L221.7 116.8M198.9 115.3L198.3 113.9L196.8 113L195.8 111.3M207.5 111.3L209.3 112.6L209.3 113.2L210.7 113.5L212.3 111.7M212.6 102.9L212.2 101.8L213.1 100.1L213.6 99.6L214.9 98.1L217 99.2M212.3 115.8L213.7 115.8L215.1 117.2L215.7 118.1M186.1 122.5L184.4 122.9L183 123.3L181.5 123.6L181 124.7L181 125.2L180.4 127.3L179.6 127.7M189.7 114L190.3 112.4L190.9 110.6L192.2 109.4L193 109.7L194.6 109.7L195.5 110.5L197.2 111.9M195.2 112.1L194.9 109.8L195.4 108.8L196.7 108.7L198.4 107.7L200.2 109M207.2 109.9L208.2 111.6L209.4 113.2L209.9 115.1L210.8 116.2M195.8 115.2L194.8 115.8L194.5 116.4L194.8 118.6L195.5 119.4L196.4 119.3L197.1 119.5L198.1 117.8M191.4 115.8L190.2 115.9L189.7 117.1L190 118L189.6 118.4L189.5 119.5M212.3 113L213.2 112.6L215 111.8L215.5 112.2L216.6 112.4L218.5 113.3L219.7 114.2M195.8 120.7L196 119.1L195.4 116.9L195.6 116.4M198 115.9L200.1 116.6L200 117.5L198.5 118.9L196.6 117.5M211 112.1L210.5 112.7L211.1 114.7L211.2 115.4L211.8 117.1M197.5 116.9L197.5 118.3L196.8 120.5L197.2 121.3L198.1 122.7L199.5 123.7L200.9 124L201.7 122.7M200.7 114.1L201.1 113.3L202.8 111.7L204.2 111.4L205.5 110.6M197.5 115L197.1 113.2L198.7 112.4L200.5 111.9M204.5 115.8L202.7 116.2L201.9 115.6L201.4 115.2L201.4 114.5M211.9 116.2L210.5 116.9L210.3 118L211.5 119.3M216.9 107.1L216 106.6L214.1 105.8L212.3 104.7L211.6 103.3L210.9 103.1M223.7 106.3L222.9 105.2L223.8 104L222.4 102.1L222.1 100.4L221.2 100.3L220.7 100.9M205.1 119.2L203.3 119.3L201 119.3L198.7 118.7L196.4 119L195 119.7L193.5 119.3M222.8 111.2L223.5 110.6L222.9 109.2L222.3 109.2M215.2 107.3L216 107.2L216.9 108.2L218.3 109.1L219.8 109.7M184.5 120.7L183.2 118.8L181.5 117.3L180.7 117.3L179.6 116.1L180.3 114.2L179.9 113M213.1 113.9L211.4 115.5L209.5 115.3L208.8 116L208.9 116.7L210 117.3M195.4 119.3L193.1 119.5L191.9 121L190.2 122.1L189.5 123.7M211.5 108.4L210.9 110.2L210.8 111L209.1 111.9L208.6 112.8L207.2 114.2L208.1 116.4L207.8 117.2M218.4 108.9L217.2 108.7L215.8 109.1L213.6 109.6L212.7 107.9L211.4 107.5L211 106.9L211.7 104.7M204.9 111.6L204.1 113.3L204.6 115.1L205.2 116.2M221 111.6L220.5 110.2L220.3 108.9L221.1 107.7L223 106.5L223.9 106.7L224.5 107.8L224.4 110M203.3 113.5L204.8 113.5L205.5 114.9L206.4 114.7L207.5 113.7L207.2 112.3L207.8 110.5M228 101.5L226.5 101.9L224.2 102.3L223.6 102.2L221.8 101.8M200 119.4L201.5 118.7L201.3 117.5L201 115.6L202 114.4L203.3 114.3L204.4 115.8M187.3 116.9L187.9 118.1L189.9 117.5L191.1 116.7L192.2 117.7L193.6 116.9L193.3 115.4M199.7 115.8L201.2 116.8L202.6 116.5L204 116.5M191.8 112.8L191.3 114.6L192 115L193.6 115.8L195 117.6L197 118.4M195.1 109.8L194.4 111.8L193.6 114L193.6 114.8L194.6 115L195.2 116.6L194.5 117.9M202.3 113.1L204 114.8L204 115.4L203.5 116.6M182.8 121.2L182.9 122.8L182.8 123.5L181.3 124.4M214.4 109.2L215.8 111.1L217.9 111.6L219.6 113L221.4 112M198.9 108.8L197.7 107.8L198 107.2L199.8 106.9L200.6 106.5L201.2 106.2M211.7 113.5L213.3 113.3L215 112.6L215.5 111.8L217 110.7L218.9 109.8L220.8 109M208 113.2L209.1 113.8L209.8 114.4L210.1 116.6L209.5 116.9L209.4 119.3L210.2 119.7M208.2 111.6L206.1 111.7L205.1 110.9L203 109.7M196.1 116.3L195.4 116.9L194.4 117.1L193.3 119L192.3 118.9L191.5 116.7M202 114.4L200.9 114.9L200.2 116.7L200.9 117.2M196.6 114.6L198.2 115L199 116.1L198.3 118.3L199 119.8M199.6 123.2L199 123.9L198 124.2L197.5 124.4L195.7 123.6L194.7 124.4L193.5 124.4M201.3 112.9L199.5 113.7L198.5 114.6L198.3 115.8M193.3 115.8L194.7 115L195.2 114.7L195.7 113.3L194.7 112.3L193.8 112.7L193.5 113.2L194.5 115M202.6 117.2L204.3 118.1L205.5 118.2L205.7 117.7L204.9 115.7L205 113.6L204.3 111.7M215 110.7L214.8 109.2L215.2 108.6L215 107.2L214 106.9L212.5 106.3L212.5 104.4M209.6 112.6L209.4 113.2L210.3 114.4L210.9 115.6L212.2 115.7L213.5 116.9L215.2 116.6M192 115.7L191.6 117L191.6 117.8L192.1 119L192.3 120.8L193.1 120.9M196.7 116.7L196.7 118.3L197 118.8L196.6 119.3L195.9 121.5L195.9 122.4L195.4 123M214 122.7L214.6 121.2L216 119.7L216.6 119.8M211.3 113.1L211.7 111.8L213.7 111.6L214 112M200.4 116.8L201.9 116.4L201.8 115.7L200.7 114.9L199.8 115.7M228.4 104.1L227.5 104L226.2 104.6L225.3 106.2L223.6 106.2L221.3 105.9M205.1 114.3L203.7 113.9L202.9 112.8L202.1 112.1L201.9 111.6L202.6 110.7L203.2 110.7L204.3 110.3M229.9 105L230.7 105.3L231.9 106L233.4 106.8M210.8 113.3L211.9 112.6L213.6 112.6L214.3 110.6L215.1 110.6L215.7 109.7L216.2 109.5L217.1 109.8M209.8 110L209.3 111.5L209 111.9L208.9 113.6L207.4 114L206.4 112.7L204.9 111.8M219.4 111.5L218.9 110.6L219.6 109.3L221 108.7L222 108.5M207 111.7L207.5 111.5L209.3 112.2L209.8 113.6L208.1 115L207 114.6L206.7 112.7M203.2 112.1L204 110.8L202.9 109.7L203.2 108.4M186.1 116.7L185.1 118.4L183.8 118.7L182.9 118.5L182.5 117.7L181 116.6L179.8 116.3M199.8 112.9L200.6 111.8L202.3 110.7L203.3 109.6M209.1 106.7L209.1 107.9L209 108.4L207.4 108.8L206.4 109.4M187.2 124.2L187.7 124.4L188.1 124L187.9 123.3M191.7 115.6L190.8 115L191 114.2L192.9 114.1L194.2 113.3L193.8 111.4L194.3 109.2L195.6 108.2M205.9 115.2L206.5 115.8L206.1 116.8L206.1 118.8L205.6 119.8M193.7 119.7L195.4 119.4L195.9 117.3L195.2 116.5L193.7 116.3L192 116.3L191.1 117.2L190.4 117.3M202.8 114.5L203.8 116.6L204 117.8L203.5 118.9L205 120.1L206 120.7L207 121.1M198.4 116.9L200.2 117.5L202.4 117.1L203.6 116.2M202.3 113.5L201.1 113.3L199.4 114.3L197.6 113.3L196.9 114.1M196.3 115L197 113.6L197.3 113.1L196.9 112.3M212.6 114.6L212.5 115.2L212.6 116.2L211.9 118.2L210.2 119.8L209.5 119.9L209.1 118.7L209.3 118.2M216.2 109.3L216.8 108L218.3 106.4L218.9 106.5L219.9 104.6L220 103.9M185.1 117.3L185 118.9L184.8 119.7L185.5 120.8L185.7 122.6M201.4 112.2L201.9 111.3L201.3 110.5L199.3 110.5L198.7 111.3L197.1 113M201.9 112.7L201.3 111.7L201.4 111L199.8 109.5L198.2 109.3M196.4 115.8L197.3 116.8L197.8 117.1L199 116.5L200 116.1L200.7 115.1L199.2 113.3M208.8 109.5L209.3 108.6L208.7 107.5L207.9 106.9L207.9 105.7L209.4 105.1L209.7 104.3L210.3 103.5M208.8 111.6L209.3 112.3L210 112.5L211.3 111.9L212.7 113.1M198.1 117.3L198.9 117L201.3 117L202.6 116.8L203 116.3L203.1 115.6L204.6 114.9M207.6 118L207.8 116.2L208 115L210.1 114L210.6 113.8L211.7 114.1L212.3 114.6M199.4 115L198.6 115.3L198.9 117.5L198.8 119.2L197.7 119.7L197 121.5L197.1 122.2M203.9 118.1L204.2 119.6L204.2 120.5L203.7 121.6L202.2 122.5L201.1 122.5L200.6 123M202.9 116.8L202.9 118.7L203.1 119.6L203.1 120.5L204.9 121.9M205.4 108.5L205.8 109L205.3 110.3L206.1 111.3L207.3 111.4L207.9 109.7L207.5 107.7M196.5 116.8L197.3 114.9L197.9 114.7L198.9 115.5L199.3 117L198.7 118.9M209.2 117.1L211 115.8L212.5 116.4L214 116.1L215.6 116.6M181.7 120.3L179.9 118.9L179.6 118.5L180 117.6L180.9 117.2M203.8 115.6L202.8 116.3L202.6 118.4L202.7 120.4L200.7 120.9L200.2 122.6M196.7 111.8L194.9 111.1L194 110.5L193.8 109.5L192.5 108.2L191.1 108.3M211.6 109.8L209.8 108.4L209.5 106.5L209.7 104.8L208.5 104.4M198.9 117L197 117.5L196.4 117.6L195.3 118.9L193.2 117.8M183.7 120.7L183.8 121.8L182.6 123.7L183.5 125.6L183.1 127.7L181.1 128.4L180.8 129.1M212.3 113.5L211.5 112.4L210.7 110.5L209.5 110.6L208.5 108.8L208.9 107.4L208.2 106.2L206.3 106M186 113L186 115L184.9 115.8L184 116.2L183.6 116.9L183.4 118L181.8 119.4L180.4 119.7M185 124.7L185.1 126.6L184 127.5L183 129M191.4 121.2L192.4 123.3L192.5 124.1L191 125.4L190.7 127.2L190.3 128.4L191.3 130.1M215.8 105.8L214 104.5L213.2 103.5L211.7 102.5M206.1 112.6L205 114.6L204.6 115L204.1 116.2L202.3 117.2L201.1 117.1M204.1 114.9L203.5 115.8L203.3 116.4L203.7 117.6M198.1 113.9L199.2 114L200.2 112.3L199.5 111.6L197.7 112.4L197.5 112.9L196.6 113.8L194.7 114.3M198.5 115.9L196.7 115.1L194.7 114.3L194.9 112.9L193.8 112.5L192.8 112M189.2 115.9L188.6 116.7L187.8 117.5L188.1 118.2M205.2 117.6L206.2 115.5L208.1 114.4L207.8 113.3M191.9 114.5L191.4 113.4L189.3 113.5L188.9 111.7M205.2 112.2L205.8 113.2L207.5 114.3L209.7 114.6L211.7 114.8L213.2 112.9L215.4 113.4L216.2 113.3M194.6 117.1L195.3 117.1L195.8 117.7L196.5 117.7L198.1 116.4M206.6 109L205 109.2L204.5 109.8L204.6 110.4L204.6 111.9L205.9 113.7M215.9 109.7L217.1 110.3L218.3 110.7L219.1 112.4M212.5 108.6L212.2 106.7L211.4 105.5L212.3 103.9M188 115.5L189.3 116L189.3 117.2L189.8 117.7M210.8 111.9L211.2 112.3L212.8 112.4L213.8 110.5L212.5 108.9L211.5 108.9M213.9 110.4L213 110.3L212.4 110L210.4 109.9L209.8 110.2M211 107.8L211.4 109.1L211.2 110L212.7 111.6L214.7 110.9L215.2 108.9L216.8 108.2M210.1 116.4L211 117L211.1 117.8L210.5 120L210.4 120.8L209.5 122.4L209 123.1M207.8 118.9L206.5 118.6L205.2 116.7L204.3 117.1L203.8 116.7L202.4 118L201.2 119.6M215.2 113.2L215.2 112.5L213.5 112.2L212.1 113.6L212.4 114.8L214.5 115.5L215.1 115.7M210.2 110.6L210.4 109.4L209.8 107.5L210.4 105.5L210.3 104.9L209 103.2M202.2 111.4L203 111.2L203.5 110.5L204.4 109.9M194.1 119.2L196 119L196.4 118.6L197.8 117.7L198.8 117.3L198.6 116.3L198.9 115.4M199.3 110.9L199.8 110.7L200.8 111.9L202 111.7M196 117.6L196.5 118.2L198.1 118.9L198.1 119.8L197.1 120.7L194.9 121.1M201.1 117.7L202.1 116.2L202.5 114.1L204.5 113.7L205.4 113.7M205.6 108.6L206.6 110.2L207.2 111L207.9 110.8L209.3 110L209.2 108.2L210.2 107.8M205.7 117.9L206.8 117.6L207.9 119.1L208.6 120.8L207.3 122.4L208 123.6L207.7 124M195.5 117.8L195 119.3L196.5 121L195.9 122.2L194.3 122.5M214.6 116.5L213.6 118.2L212.1 119.2L210.1 119.1L209.6 118L207.3 118.6L205.3 117.4M205.3 111.4L204.6 109.4L204.1 108.2L201.9 107.8L201.2 107.7M213.8 113L214 111.7L214.3 109.5L215.6 108.8L216.9 108.6L217.3 109.2L218.3 110.9L219.9 111.4M202.5 112.7L203.1 113.8L201.4 115.1L200.2 115.7M187.9 118.5L186.1 119.8L185.2 119.3L184.4 119.1M221.6 100.3L222.5 99.9L224.3 100.9L224.7 103.2M191.6 110.5L191 111.1L190.4 113.1L189.7 113.4L188.1 112.4M208.6 114L207.5 112.4L207.6 111.8L208.6 110.2L210.4 110.7M201.4 114.6L201.2 113.9L200 113.5L198.5 112.2L196.4 112.2L195.7 112.9L194.3 113.7M222 107.7L221.7 107.1L220.6 106.6L219.5 106.9L217.4 107.9L216.9 107.7L216.4 107L215.4 107.5M195.6 112.3L194.3 111.3L192.4 111.6L191.9 113.8L192.9 114.5L194.5 113.8L196.3 113.8L197.5 114.2M205.1 115.9L206.5 117.6L208.6 117.1L208.9 115.6M199.4 117.9L200.8 118.6L201.7 117.8L202.5 117.5L203.1 116.8L203.2 115.6L202.5 114.5L203 112.3M205.4 111.3L206.8 111.3L207.3 109.9L208.3 109.4L209.9 111L212.2 111.1L212.9 110.9M195.2 118.2L196.7 117.4L196.8 115.5L197 113.6" stroke="#3e2d93" stroke-width="0.65" fill="none" stroke-linejoin="round"/>
<path d="M189.9 117.8L189.7 116L190.3 113.8L192.7 113.6L193.9 115.4L195 115.8L195.9 114.3L195.4 113.2L194.9 113.1M202.9 109L202.3 109.4L200.9 107.9L201.6 106.8L202.9 107L203.6 107.1L204.2 108.8L202.8 111L203 111.8L203.7 113.9M185.4 125.3L187.1 124.4L188.5 123.2L189.2 122.3L189.7 121.3L190 118.5L190.5 115.8L191.1 115.7L191.8 114.9M201.1 115.2L203.3 116.4L205.6 115.7L206.9 113.4L206.4 112.3L205 111.4M203.6 107.3L204.1 107.8L205.5 107.3L207.2 108.7L207.5 109.6L205.2 111.2L202.9 112.2L200.5 113.1M191.4 120.9L190.6 120.5L189.2 118.8L188.9 118.1L187.4 116L186 114.8L186 114.2M190.8 114.6L191.2 115L190.9 116.2L190 116.8L188.1 117.2L186.5 118.3M194.8 114.2L193.3 116.7L192.9 118.1L193.1 120.1L192.8 122.5L191.4 124.6L188.7 124.9L188.5 126M218.7 113.6L220.3 112.1L220.3 111.2L220.6 109L221 107.5L222.1 106.3L221.9 105.3M198.6 118.7L196.2 119L195 118.5L194.9 117.3L194.8 115.5L194.5 114.5M178.8 114.2L178.7 115.4L179.1 118L177.2 119.1L177.6 120.2L180 120.1L181.6 121.7M194.1 111.5L194.1 112.1L195.2 112.9L195.7 113.7L196.1 115.2L195.6 116.2L196 116.8M189.1 106.4L189.3 108.7L190.4 109.3L191 110L191.5 111.1M201 119L200.3 121.7L202.2 123.7L204.9 124.7L207 124L209.4 123.6L209.9 122.5L210.9 122L212.1 122.5L212.4 123.1M204.7 107.5L205.1 107.9L207.4 107.1L208.8 108.7L208.8 109.8L208.8 111.6M199.8 114.4L198.6 115.5L196.8 117.7L197.5 119.5L197.6 121L198 121.9L200.1 122.5L201.6 120.9M199.1 112.8L198.1 112.4L197 113.7L196.2 113.3L196 112.7L195.5 112.4M210.2 115.5L210.1 112.8L209.9 111.3L209.3 110.7L207.2 110L206.6 108.1L206.1 106.8L206.4 105.8L204.5 104.5M192.1 120.3L192.1 121.3L190.4 122.5L190.3 123.3L192.2 124.6L192.7 124.1L194.4 124L194.9 122.7L195.8 119.9L198.2 118.9M205.6 116.2L204.9 116.6L202.3 115.7L202.4 114L200.3 113.2M181.3 117.1L179.8 116.5L179.3 116.1L179.8 114L177.5 112.2L176.8 111.7L175.4 110.4L174.2 108.6L171.7 109.8M217.5 111.4L219.2 111.8L219.8 111.3L219.5 110.4L219.8 108.6L219.6 107L220.8 106.5L222.5 106M185.2 118.9L184.6 119.6L184 119.8L183.5 120.5L182.1 122.1L180.3 123.3L179.5 123.5L178.3 122.4M210.1 117.8L210.7 118.7L210.4 119.3L210.1 120L210.1 122.5M199.5 113.2L198.7 113.1L198 113.4L196.6 112.8L195.8 111.5L197.1 110.3L195.6 108.1L193.3 108.6L193.3 111.1M213.5 109.2L215.1 111L216.5 110.7L218.1 109.6L218.8 109.7L221.3 108.5L222.7 109.5L222.7 110.2L220.3 111.6M188.6 119.3L190.8 120.4L192.1 118.8L192.1 116.9L194.5 115.7L195.6 113.8L193.6 111.8L193.5 110.9L191 110.6M195.9 117.3L196.2 116.2L196.8 115.3L196.1 113.9L197.3 111.5M195.4 114.9L197.3 113.4L198 113.4L199.6 113.5L201.7 114.6L201.8 115.3M195.7 113.1L197.6 113L200.4 113.8L202.1 112.2L202 109.2L203 108M192.3 119.4L192.2 118.2L194.4 117.2L195.8 116.3L196.5 116L197.3 113.9M191.7 114.5L192.4 114.9L195.2 115.5L198.1 116.2L198.6 115.8M197.1 110L195.2 108.7L193.7 109.2L191.3 107.9L190.5 108L189.1 108.7L188.6 108.3L186 107.3L185.4 107.5L184.8 107.3M195.5 113.4L195.9 111.9L196.5 109.5L197.1 109.2L198.4 108.9L199.4 110.5L201.7 109.7L203.2 108.2M194.2 108L196.2 109.3L197 111.2L197.4 114L196.3 115.7M197.3 115.7L196.4 116.3L195.3 116L195 114.8L196.1 114L198.4 114.3M218.4 106.2L219.8 104.6L221.9 105.1L223.9 105.2L226.1 106M202.4 118.2L202.8 117.5L205.3 115.9L206.1 114.9L205.8 114.2M207.1 106.7L205.8 107.5L204.4 109.8L202.7 111.1L200.6 111.5L200 111.6L198.4 111L197.1 112.8M190.2 121.1L188.4 119.7L188.7 117.7L190.4 116.6L190.3 115.9L189.4 113.9L188.1 113.5L186.4 112.4L184.6 111.4M227.7 108.3L226 109.5L226.8 111.9L228.5 113.3L228.9 113.8L229.7 114.7L230.8 114L231.2 112.4M201.8 116.6L202.9 116.8L204.6 116.6L206.4 114.7L205.2 112.3L203 112.9M214.8 114.3L212.5 114.7L212.1 116.1L212.7 116.8L214 116.8L214.5 118.8L215.6 119.2L216.2 119.4L217.8 118.1M189 122L189.4 120L190.8 119.8L191.1 118.6L191.4 117.9L194.1 116.9L194 116.2L192.2 115.3L192.1 113.7M208.5 115.4L207 114.1L205.1 112.7L203.6 112.1L202.3 111.7M189.5 123.4L187.3 122.9L187.2 120.8L189.5 119.7L189.9 120.1M206.3 106L207.2 106.8L209.4 106.7L211.7 107L212.7 107.3L213.6 108.5L215.5 109.7M201 114L200.1 114.3L199.8 113.8L198.5 111.7L198.7 109.2M191.7 123.2L191 123.4L190.1 122.9L188.8 122.2L187.3 122L184.7 122.8L183.2 125L181.8 125.8L180.5 127.3L177.9 128.6M192.1 112.5L191.9 113L192.7 113.9L194.9 113.6L196.3 115.3L195.8 117.4L195.5 119.5L196.2 120.3L197.6 120.3M215.9 118.1L216.2 119.1L216.6 120.3L214.4 121.6L214.1 122.2L213.1 123.4L213.5 124.7L213.9 125.8L214.3 126.2L216.3 128M200.1 112.6L201.1 112L202.3 111.6L202.8 110.2L200.3 108.5L197.7 109.1L196.4 107.6L195.7 106.9M204.2 122.2L204 121.7L204.6 119.6L205.2 118.6L205.1 117.8L204.6 116.5M211.4 112.5L209.4 110.9L209.2 109.5L207.8 108.9L205.3 108.1L205.3 105.4M209.7 113.3L209.3 110.7L210.8 108.6L211.6 107.8L213.6 105.6L213.9 102.7L214.8 101.9L215.5 100.8L216.5 99.8M223.6 114.8L225.5 115.8L225.1 118.3L226.3 119L229.1 119.1M212 107.8L213.8 109.6L213 111.3L213.7 112L215.5 111.2L218.1 112.3L219.2 110.9L221.7 111.2M226.5 108.3L227.6 106.7L225.9 104.8L225.4 103.2L226.2 101.2L227.1 101.2L228.9 101.1L230.4 99.5L231.7 98.9L232.1 97.6M217.1 117L216.1 117.2L215 117.1L214.4 118.8L213.5 120.8L212.7 123.4L210.9 124.8L210 124.6L208.1 122.3L208.4 121.8M187.8 116.4L186.9 113.6L187.5 112.9L188.1 111.8L188.9 111.4M193.5 115.5L192.5 114.4L190.3 113.5L189 112.8L187.2 112.2L186.5 110M194.2 128.5L191.8 127.3L190.3 128.5L189.9 129L189 129.1M223.9 107.2L222.9 107.1L221.5 109.5L219.5 109.3L218.8 107.5L218.4 107L218.2 106L217.4 104.1L217.2 102.7L216.7 102.6M205.7 105.7L207.8 103.6L209.1 102.6L210.1 102.6L210.6 102.9M220.3 104.2L221.8 106.6L224 107.6L225.2 107.2L225.7 107.2M209 105.1L206.4 104.2L204.8 104L203.9 102L202.1 100.9L202.4 99.7L203.2 99.1L203.9 98M204.2 116.7L204.3 118.1L203.1 120.8L201.5 121.1L201 121.7L198.9 121.8L196.2 121.3L195.5 121L194.3 121.3M206.5 113.4L209.2 112.2L209.4 109.9L207.3 109.2L205.2 110.1L203 109.7L201.2 108.8M197.6 113.1L198.9 114.3L200.5 113.9L202.1 112.9L203.5 112.9L205.6 111.8L206.1 109.4L206.8 107.8L206.9 105.5L205.7 104M201.4 113.3L198.8 113.3L198.2 113.4L198 114L199.3 114.8L199.7 115.3M181.3 119.4L181.1 120.5L181.9 121.7L184.9 122L186.2 120.2M204.9 104.7L207.2 103.9L208.4 102.4L209.2 99.8L211.8 98.7L214.4 98.7L216 100.4L215.3 102.9L215.1 103.4M194.4 117.9L193.1 120.3L191 121.3L189.8 122.8L188.7 122.4L186.2 121.3L185.3 121.9L184.3 122.9L183.4 124.1M204.5 107.6L202.4 109L200.7 108.4L199 109.8L198.3 111.1L196.5 112L195.2 111.8L193.7 111.1L192 111.1L191.4 111.1M204.8 120.8L204.8 121.5L205.1 123.8L205.1 124.8L206.4 125.9M191.5 115.4L192.7 114.3L195.3 115.7L196.6 115.2L197.8 116.4L197.9 118.8L197.6 120.3M218.4 114.8L219.1 115.1L220.2 117.4L219.5 118.8L218.3 120.6L217.3 122L216.4 123.4L216.3 125.4L216.3 126.9M219.7 110.4L221.5 109.9L222.7 109.9L223.9 107.3L223.5 106.9M200.6 114.2L199.3 112.6L197.4 111L196.8 110.8L195.5 110.4L195.2 110.9M207.2 120L207.2 119.1L207.6 116.3L209.1 115.5L209.5 112.8L209.7 110.4M189.9 120L191.7 119.1L194 118.3L194.6 117.7L194.5 115.5L194.6 113.2L196 112.9M196.4 116.1L196.6 117.5L197.1 117.9L199.9 117.3L201.8 117.9M202.9 105.2L202.4 104.7L202.4 103.1L200.6 100.9L201.5 98.8L202.3 98.4L202.6 95.4L205 93.9L205.5 94.1M199.5 102.3L199 104.2L198.9 105.5L198.1 106.1L196.5 106.5M215.1 119.9L214.3 117.3L213.4 116.2L212.7 113.5L210.2 112.9M197.7 118.5L196.9 116L197.4 115.7L199.1 115.4L200.7 115.5L201.3 116L203.4 115.7L204.7 116.4L205 118.7L204.2 121.4M204.4 112L203.2 111.7L202.8 110.9L202.3 110.6L201.7 110.2L200.3 109.3L199 107L199.3 105.4L198 103.5M207.9 104.4L208.2 105L208.9 107.1L208.3 108.6L209.4 109.7L209.6 110.8L208.6 113.2M215.1 115.3L216.1 116.4L216.7 117.7L216.6 119L215.6 119.4M198.9 106.1L197.1 104.5L196.4 103L195.4 101.2L194.8 100.5L193.4 99.9L193.2 99.3L191.3 98.8L189.7 100.2M206.2 115.7L205.8 116.5L206.4 119.3L205.9 119.9L204.1 120.7L203.6 120.7M197 128.3L197.9 126.8L199.6 125.1L200.1 122.8L199.8 121.7L197.3 120.5L197.5 118.1L197.2 116.6L194.5 116.2M206.6 111.2L204.4 113.3L203.1 113.5L202.4 114.4L199.8 114.3L199.4 116M198.9 124.2L197.9 126.5L198.1 129.3L198.1 129.8L197.1 130.7L195 131.2L194 129.7L193.4 129M192.9 125.8L193.3 123.7L195.1 121.8L196.7 120.6L197.7 121L198.2 122.6M205.3 115.7L206.1 117L205 118.6L204.2 120.2L204.3 120.8L205.6 122.2M204.7 108.6L206.7 107.2L207.4 107.1L208 106.9L209.7 105.2L209.1 103.4M173.9 121L175 120.4L175.4 118.5L173.9 117.6L172.5 118.3L170.2 116.8L168.9 117.7L167.9 118.2L167.9 118.8L165.8 119.7M199.6 118.1L198.2 119.3L197 120.8L196.7 123.3L195.8 124.8L193.5 125.3L192.3 125.9L190.2 125.1L188.7 123.4L187.7 122.5M197.8 113.1L195.8 111.2L195.8 109.5L196.9 108.8L198.5 108.8L201 108.5L202.3 106.6L201.6 105.5L201.7 104.3L201.4 102.5M187.7 121.6L185.1 120.6L184.3 122.1L183.9 122.5L181.4 123.6L179.8 121.9L178.2 120.8L176.7 120.3L175.3 120M207.9 116.8L205.9 116.4L204.1 115.2L203.1 114L201.6 114.1L199.3 112.3L198.5 112.7L197.2 113.4L195.3 115.6M185.7 116.9L183.5 117.7L182.9 118.3L183 119L183.6 119.8L185.1 121.1L185.9 121.6L186.9 120.7L187.4 120.6M204.1 100.6L206.6 101.5L208.6 102.6L209.8 102.2L212.3 100.8L214.7 102.4L217.1 101.5L219.6 101.7M205.8 109.3L205 109.6L204.5 109L204.2 107.1L206.6 105.7L207.1 102.7L206.2 102.2L206.8 100.3L206.2 99.6L206.2 98.2M210.3 118L210.8 119.8L212.1 120.7L212 121.2L212.6 122.2L212.9 122.9L213.8 123.6L215.1 124.7L214.9 127.5M199.2 111.6L200.9 111L200.8 108.5L202.5 106.5L202.2 104.3L201.7 102.2L202.3 99.8L202.9 97.2L204.2 95L206 95.6M213.2 107.4L210.8 108.3L209.7 109.5L207.4 108L207.8 106.9L208.2 104.3L207.2 103.7M207.5 112.6L208.8 114.3L208.9 116.4L206.4 117.2L205.6 119L204.6 118.8L201.7 119.1L200.4 119.4M191.2 118L193.9 117.7L195.4 119L195.9 121L194.7 122.1M218.7 109L219 108.4L218.9 107.7L221.4 106.8L221.9 107.1M211.5 107.8L211 106.9L210.4 106.1L210.5 104.3L212.2 103.7L212.6 102.9L212.1 102.2L211.4 100.5L212 98L212.2 97.3M174 120.1L174.1 119.4L175.3 119.2L177.2 117.6L179 119.1L180.1 118.5L182.1 117.2L184.1 118.1L185.1 118.7L186.9 118.7M191.1 112.6L189.4 113L188.1 113.7L186.2 114.2L185.2 113.8L183.4 115L182.8 115.8L182.3 118.8M227.1 112.2L229.4 110.6L230.1 110.9L231.3 111.9L232 112L233.3 112.3L233.9 112.4L235.2 112.4L235.7 112.6L238.4 112.9M182.3 122.5L182.3 120.3L181.6 118.9L183.4 117.1L184.1 116.7M218.4 108.3L217.9 110.1L218.6 112.1L220.7 112.7L222.3 115L221.4 116.4L219.6 117.9M196.2 118.2L195.7 118.4L193.7 118.8L193.1 119.2L191.4 120.3M209.5 113.1L209.8 111.7L207.9 110L208.2 109.3L209.7 108.3L209.1 106.3L207.8 106.3L206.6 107.8L204.9 108L204.3 108.9M221.3 106.5L218.7 106.3L216.4 107.9L215.8 110.3L213.2 111.1L213.1 111.6L213.4 112.6L214.8 113M208.4 111.3L209.5 112.7L210.3 112.3L211.1 113.1L213 113.3L215.1 113.2M197.6 119.3L199 120L199.8 120.5L199.4 122.6L200.7 123.4L202.6 122L203.7 121.9L205.5 120.5L207.9 121.2M197.6 115.1L196.3 116.2L195.4 117.5L192.6 118L192.4 119M216.1 105.5L214.7 103.7L216.2 102.1L215.3 99.8L215.5 99L216.2 98.6L216.4 96.5L218.8 94.9L220.6 96.2L222.1 96.2M197.6 103.7L198.5 103.8L200.9 104.4L201.9 103.1L204.2 101.6M207.6 109.1L207.2 110.5L205.8 111.6L204.6 111.5L202 111.1L200.5 112.2L199.8 114.9L198.6 115.6L197.9 116.2L196.7 115.8M203.3 113.2L204.1 113.4L205.7 112.7L206.5 112L207.3 110.5L207.8 110.6L209.8 112.3L210.4 113L212.6 111.9L213.1 112.1M213.9 123.9L213 125L210.6 125.8L208.2 127.5L207.6 128.4L207.4 129.4M199.4 115.2L197.9 113.8L198.2 112.2L198.8 112.1L201.7 111.9L202.5 112M222.1 105.8L220.5 108.2L220.7 109.5L221.4 111.6L222.7 113.3L221.8 115.8L221.7 117.1L222.5 119.4L225.1 119.5L227.1 120.1M187.9 114.2L188.6 114.3L190.1 114.6L190.5 115.5L191.1 115.6L193 114.1M217.3 101.9L216.8 100.3L215.1 100.5L214.7 100.9L214.6 101.9L215.5 104.1L215.1 104.6L214.6 104.5M206.4 116.6L205.4 117L205.3 119.3L206.8 120.3L206.8 121.8L204.9 122.9M209.6 110L210 108.6L212.1 107.5L213.1 108.1L213 109.2L211.1 109.8L211 110.6L211.6 111.1L211 112.3M200.1 115.3L200.6 116.4L199.7 117.1L199 116.9L198.2 117.2M198.5 106.2L198.9 107L201.1 107.5L201.3 109.8L202.1 110.7L203 111.9M194.1 117.5L195.3 117.9L196.8 119L196 121L196.1 121.7L197.2 124L198 125.9L197.7 126.6L199.7 127.9L202.3 127.6M187.9 114.7L188.1 114.2L190.1 112.8L192.9 112.9L194.3 113L194.8 111.5L195.2 110.8L196.4 108.1L197.1 106.9L195 105.1M186.3 119.6L187.7 117.3L187.6 116.5L186.4 114.7L186.2 113.2L186.7 110.8M205.6 118.9L205.2 118.5L204.3 118.7L203.8 118.4L201.7 118.9L200.5 120.9M203.2 112.6L203.3 109.7L202.4 109.3L201.1 109.7L200.3 112.4L200.4 114.6L201.1 115.2L201.6 117.6L200.7 118L199 116.3M203.9 104.9L204.9 107L203.9 108.6L203.4 109.1L202.8 108.9L202 109.7M217.7 106.2L217.3 104.7L218 103.6L217.6 101L219.1 100.4L221.1 101.1L221.2 101.6L223.6 103.1L226.2 103.8L227.2 105.1M194.2 120.1L192.9 118.6L192.8 117.6L194 116.6L194.1 115.7L193.9 114.9L192.6 113.3L191.6 111.6M194.5 121.9L195.4 120.9L196.1 120.9L196.7 121.4L196.1 123.7L193.4 124.3L192.7 122.4L192.8 121.4L191.8 120.8M198.4 109.2L198.5 110.2L196.7 111.7L197.2 113.3L199.3 113.4L200.2 113.2L200.9 113.3L202.4 110.9M200.5 108.4L200.1 110L197.8 110.8L196.5 111L195.6 110.4M200.6 118.6L203.3 119L204.6 119.7L205.4 120.7L205.9 120.9L207 121.9L207.9 121.7L208.1 119.9L208.9 118.7M181.5 119.7L181.1 120.1L180 120.1L179.3 119L177.5 117.2L178.2 114.9L177.7 113.7M215.8 101.4L218.2 101.3L219.1 101.7L219.2 102.4L220.2 105L219.2 106L218.4 106.1L217.7 104.4M199 119.6L196.5 119.2L195 120.5L193.7 121.6L194.2 124L193.5 124.2L194 127.1L192.5 129.5L191 129.1M190.5 108.8L190.3 105.9L190 103.9L191.5 101.6L192.8 101.8L194.6 102.7L194.9 104M192.3 104.6L190.8 102.2L190.6 99.3L188.4 97.8L187.1 97.2L185.8 98.3L184.7 97.5L185.1 96.7M205.4 106.2L207 105.6L209.1 106.4L210.5 107L212.7 106.8L214.7 105L215.7 104L216.2 103.4L217.3 103.8M203.4 106.7L205.2 105.8L205 104.2L207 103.4L208.9 101.7L210.1 101.3L210.9 100.3L210.7 99.8M219.9 109.3L217.2 109.7L214.9 108.1L212.6 108.3L211.7 110.8L210.8 110.9L209.5 108.2M211.7 119.4L210.9 118.7L209 119.9L208.5 120.6L207.9 121.6L208 124.2L206.5 125.4L205.5 124.7M200.1 110.9L198.6 111L196.5 110.6L193.6 110.3L193.5 109.7M208.4 111L210.2 108.6L211.6 106.4L212.5 105.4L214.9 104.9M182.7 111.8L182.8 112.8L184.2 114L185.2 114.4L186.1 116.6L185.3 118.7L186.3 119.7L186.2 120.6L184.4 121.8L181.7 120.8M208.3 113.6L207.9 111.5L209.3 109.7L210.7 107.5L210.9 105.8L209.3 105M176.5 113.7L177.4 113.8L177.6 115.4L178.6 116.2L180.3 115.7L182.8 116.2M187 122.4L186.8 119.6L184.6 118.6L182.4 117.1L181.7 116.5L178.8 116.1L178.1 115.5L178.3 114.6L181 114.5M211.6 110.4L212.1 111.8L211.5 113.6L210.7 116.4L210 117.7L211.1 118.6L209.7 121.1L209.4 124L207.5 125.6M220.6 111.6L222.2 109.7L223.5 110.2L226 109.5L227.3 110.9M225.3 117.3L225 117.9L223.7 118.9L221.7 117.9L220.8 118.5L218.9 120.5L218.1 120.6M213.5 109L213.2 108.3L211.7 108L210 110.4L210.3 111.5L211.4 112.1L211.9 112L214.5 110.8L216.6 110.1M221.7 109.5L223.3 110.4L223.8 112.1L223.3 112.6L220.5 113.8L220 114.7L219.5 116.7M194.3 117L196 115.8L197.1 114.9L198.7 114.4L199.4 115.6M187.5 121.4L186.1 119L186.2 117L186.9 116.9L187.4 117.7L189.6 117.9L190.7 119L191.8 121L192.4 121.5L192.9 122.5M196.3 121L194.5 122.2L192.8 121.5L191.6 123.1L192.1 123.8L191.4 125L193 127M197.4 116.3L195.7 115.7L196 113.4L197.4 112.8L199.1 115.1L200.3 116.2L202.3 114.8L203.8 113.2L205.1 111.5M204.4 104.1L205 103.1L204.3 102.4L203.7 100.9L205.1 98.9L206.8 98M226.9 114.7L227.4 117.5L226 118.5L223.3 118.1L222.7 118.5L222.1 118.4L221.3 118.7M193.7 114.3L193.1 113L191.7 111.7L190.8 110.5L190.1 110.7L189.6 111.9L188.7 112.3L187.5 112.4M214.2 112.9L211.9 113.8L209.6 112.5L208.8 109.9L207.1 107.9L207.4 105.1L209 103.2L211.2 101.7L211.5 99.3L212.1 99M207.9 119.5L209 118.7L209.6 118.3L211.5 116.5L212.1 116.5L214.3 117.1L217.2 116.3L218.8 117.6L218.2 119M197.9 110.9L198.9 111L199.3 109.6L199.4 107.8L198.9 106.8L200.3 105.3L199 102.7L199.5 101.8L199.7 99.8M199.1 116.5L197.8 115.4L197.3 115.3L196 113.3L195.3 113.2L194.7 113.3M189.9 115.1L189.4 116.7L188.5 118.2L190.1 120.3L188.9 122.6L188.6 123.7M208.2 119L206.9 117.1L205.6 117.3L203 117.2L201.4 118.7L201.7 119.2M213.5 116.4L212.6 118L210.6 118.9L209.6 117.4L210.2 116.4L211.8 114L211.2 111.3M205.4 104.8L205.1 103.9L203.9 103.5L202.3 104.1L199.6 104.7L198.3 106.1L197.4 106.6L196.4 107.1L195.6 106.2L194.8 105.2M205.5 107.8L206.1 109.3L207.6 110.8L208.6 111.3L209.6 111.7L210.8 113.6M198.5 122.9L195.9 122.8L194.7 125.2L194.1 125.7L193.5 125.8L192.2 126.4L192.2 127.1L192 127.9L189 128.1M201.9 113.7L201.5 112.5L202.8 109.9L204.8 108.6L206.4 108.1L207.7 107.9L208.8 108.3L210.3 106.8L211.9 107.2M208.4 105.3L207.2 104.6L205.9 104.1L204.3 105.1L203.3 107.1L203.7 107.5L206.1 106.5L207.1 104.1L208.1 104.2L209.1 104.8M217.5 111.1L216.6 113.1L215 113.2L214.9 114.3L214.3 114.5L211.9 113.3L211.2 113.2L210.4 112.8M213.2 109.9L214.3 110.8L216.9 110.2L217.9 108.2L217.6 107.4L219.4 105M207 111.9L207.9 111.8L209.7 113.4L209.3 114.5L209.8 116.6L210.2 117.5L210.1 118M194.9 117.5L194.9 119.1L194.8 120.3L195.1 121.6L194.4 123.7L191.9 123.8L191 122.4M225.9 105.8L223.8 108L222.4 108L220.7 109.2L217.8 108.7M195.9 112.8L196.9 113.5L198.6 112.7L199.2 113.1L200.5 112.3L199.9 110.4M216.5 110.7L216.1 109.6L217 108.1L218.7 106.8L220.6 105.5L220.1 104.5M213.2 104.8L213.9 103.3L213.2 101.4L214.8 100.3L215 99.5L215.7 97.4L216.2 97.1M185 114.8L185.3 115.8L187.6 115.9L187.9 115.4L189.3 115.6L191.2 113.8M193.5 120L193.9 121.2L196.2 122.3L198.1 121.3L200.2 121.2L201.2 118.9L201.8 119L203.4 121.3L203 123.1M201.9 108.8L201.6 108.3L199.5 108.1L198.5 106.1L198.4 105.4L201 104.6L202.3 104.2L203.5 104.8M204.8 117.4L203.4 115.9L202.2 116.3L201.2 115.1L199.2 115.1L198.9 116.8L198.4 119.1M184.8 113.1L186 112.6L186.9 112.2L187.4 109.2L187.9 108.7L187.1 105.9L186.2 103.9M202.8 109.3L203.4 110.1L203.8 112.4L205.6 112.4L208.4 112.5M186.1 123.8L185.9 124.5L184.7 125.8L184.5 127.1L183.3 129.5L182.5 129.3M219.8 116.3L218.7 117.3L217.4 116.9L217.3 115.6L220.1 114.6L221.5 115.4L223.3 114.9L225.3 115.6L225.1 118.5M195.4 112.1L194.7 110.7L195 108.9L193.7 108.4L193.6 106.2L192.4 104.5M197.5 114.6L197.9 114.3L196.3 112L196.3 110.3L196.4 109.6L195.1 108L194 105.8M213.9 101.1L213.3 103.1L215.6 104.9L217.7 103.5L218.2 103.7L218.7 104.7L218.2 105.3L218.8 106.4L218.8 108.6M210.9 110.1L211.8 109.6L213.8 108.3L215.3 105.9L215.1 103.9L216 103.2L218.6 103.7M175.6 116.1L177 113.8L178.8 112.3L180.3 110.2L180.3 109.5L181 109.2M184.6 124.5L182.8 124.8L182.1 124.1L180.1 124.5L179.8 127.2M197.9 120.2L198.1 122.3L197.7 123.1L197.7 124L199.3 124.8L200.2 124.2M227 107.8L226.7 107L225.2 105.8L225.5 104.9L223.2 103.6L222 102.9M219.6 104.4L220.8 103.9L222 103.6L223.3 104.1L225.7 103.8L227.6 102.1L230.3 100.8L231.5 102L231.2 103M194.8 114.3L197.4 114.1L200.1 115.1L200.6 115.6L203.5 115.2L204.2 115L204.8 115.4L207 114.6L207.3 114.1M195.7 106.5L196.1 107.5L196.5 108L198.7 108.1L199.6 108.7L201.3 110.2L202.2 112.3L203.9 113.9M195.7 125.8L195.7 127.4L193.7 127.9L192.8 127.9L192.2 129.3L190.7 129.1L189.6 129.4L189.8 132L192.4 133.3M220.8 105.2L219.1 104.6L216.9 106L215.5 106.7L214.4 106.1L213.2 104.6M188 114.7L187.1 115.7L186.9 117.1L189.2 118.7L189.2 120.9L188.8 121.3M218.4 113.3L217.4 113.7L216.4 114.1L214.3 112.1L213.2 112.8M196.7 102.7L194 103L192.7 103.4L190.7 103.9L188.2 103.8L186.5 103.1L185.4 101.2L185 100.7L185.4 99.1M207 121L204.8 121.1L202.9 120.9L201.3 120.2L200.3 118.5L200.1 118L197.7 117.8M202.9 120.3L202.3 120.1L201.9 119.5L201.2 119.5L200.2 119M221 107.2L218.6 108.8L217 109L216.8 110.4L216.9 111.9L217.6 112.8L218 114.2M205.9 118.7L206.3 118.4L205.9 116.3L204.4 114L203.9 114.1M205.9 111.5L208.3 111.9L208.9 111.7L210.7 112.8L213 112.6L214.6 112.3L216.5 111.6L219.1 111.3M209.1 107.7L207.9 108.5L206.7 107.9L206.7 107.4L206.4 106.1L206.3 103.8M204.2 110.3L205.3 111.8L207.2 111L207.8 111.7L208.4 113.6L206.3 115.2L205.5 115.4M198.2 107.5L199.1 105.3L197.4 104L195.9 103.3L196.7 100.4L196.3 99.4M200 118.4L201.8 120.1L201.1 122.8L199.8 124.4L197.6 125.1L197.9 127.2L197.6 127.8L196 128.6L195.7 130.9M211.7 116.8L211.3 117.4L209.6 119.4L211.1 121.3L210.1 123.6L209.1 123.5L208.5 122L209.2 121L210.9 119.3L213.7 119M196.8 112.8L198.4 112.7L199 113.1L198.6 114.8L199.2 115.7L199.3 116.5L197.2 118.1L195.9 117.1" stroke="#0d0a22" stroke-width="0.3" fill="none" stroke-linejoin="round"/>
<path d="M199.9 114.4L200.5 114.6L201.6 115M203.4 114.2L204.6 113.4L206.1 113.1L207 113.1M208.8 111.6L208.1 110.4L207.7 109.5L207.6 107.9M203 114.1L204.4 113L205.4 112.5L205.9 112.3M200.4 114.6L200.5 113.9L200.8 113.1M202.9 114.2L202.7 115.6L202.2 116.5M205.2 113.3L204.9 112.1L204.2 111M207.4 112L207.3 113.5L207.2 114.7M197 114.3L195.5 113.7L194.9 113.5L194.3 113.1M197.3 115.3L196.5 115.8L195.4 117.2M203.7 114.7L203.2 114.6L201.6 114.3L200.2 113.9M206.5 112.1L205.6 112.2L204.2 112.5M207 110.4L207.6 109.5L208.5 108.7L209.4 108.1M193.2 117L192.6 118.7L192.4 119.2" stroke="#d0202c" stroke-width="0.45" fill="none" stroke-linejoin="round"/>
<path d="M205.3 249.3L205.8 248.4L207.5 247.8L208.6 246.3L209.4 244.4L208.8 243.7L209.3 242.6L208.8 240.5M194.7 233.2L194.2 233L193 234.2L193.6 235.1L193 236.2L191.5 238L190.9 237.9L189 236.6M187.7 226L189.9 226L190.8 226L191.8 225.9L192.9 226.9L194.9 226.2M201.9 243.7L203.3 245L204 246.1L203.4 246.8M189.8 234.2L189.1 234.3L188.2 234.5L186.6 232.7L185.8 233L184.2 232.7L183.5 234.5M206.6 243.5L205.8 242.3L204.4 241.5L203.2 242.6L202.5 242.5L202.1 243.3M197.2 237.5L196 237.7L195.6 238.1L195.9 239L197.8 240.2L198.8 240.1L201.1 240.5L202.9 239.7M186.9 233.7L187.5 233.2L188.3 232.8L189.2 232.4L190.3 231.3L191.7 231.8L191.7 232.4L191 233.6M198.7 236.5L200.8 235.5L201.3 234.1L199.8 232.4M200.6 241.1L199.2 241L198.3 242.9L198.5 243.4L197 245.3L194.8 245.1M209 247.1L208.9 245.7L209.9 245.3L210 244L211.7 243.7L213.8 244.3L213.9 244.9L213.4 245.4M207.9 248.8L208.2 249.8L209.4 250.1L209.9 250.4L211.8 251.1M186.1 228.4L187.2 228.2L188.7 228.4L190.7 229L191 229.4L191.6 229.7M201.4 244.6L200.9 244.5L199.1 246.1L197.2 245.9L197 244.4L197.9 243.4M200.3 238.9L199.9 240.6L200.8 242.4L198.9 243.9L197.7 243.8L196.9 243.2L196.9 240.7M202.9 232.5L202 233L202.3 235.2L202.2 235.7L201.3 237.3M191.6 225.5L191.2 225L189.4 225.6L188 225.2L187.4 225.6L186.8 226.4L185.8 226.8M174.4 215.3L174.5 216L173.7 216.7L172.3 215.9M200.5 245.4L199.3 245.1L199.3 244.2L199.7 243.9L200.2 243.5L199.9 241.8M204.5 241.1L204.3 238.9L203.5 238.4L203.5 236.6L202.8 235.2L203.4 234.8L202.6 232.7M193.8 239L193.7 239.9L194 241.6L196 242.2L198 242.4M198.3 236.3L197.9 234.7L196.5 234L196 232.9L195.8 232.1L196.9 230.8L197.6 230.8L198.1 231.3M191.7 231.5L192.3 232.5L193.2 234L192 235.9M202.4 246.1L203.5 247.8L204.7 247.6L205.8 247.6L207 248.5L208.6 248.3M185.5 234.1L186.1 233.6L187.3 234.3L189.4 234.5L191.7 235.2M196.5 224.9L197 222.9L197.1 221L197.8 220.4L199.6 220.2M193.6 240.7L194.5 241.2L195 241.1L196.7 241.8M184.9 237.6L185.3 238.2L186.3 238L187.1 236.6L188.8 236.2L189.8 235.1L191.8 234.9L192.6 234.8M196.5 245.1L197.6 247.2L198.6 249.3L199.3 249.7L199.6 250.1L198.8 251M189.5 233L188.4 231.6L188.8 231.1L188.6 230.3L187.4 229.4L186.7 227.5M208.4 247L208 248.6L206.3 249.6L204.3 251M218.6 251.3L218.3 252.9L217.6 253.7L217.5 254.5L219.4 256L221.4 255.2L222.6 256.5M194 234.9L193.8 233.6L195.7 232.5L197.9 232L198.1 231.5L197.8 229.1L196.7 229M191.1 232.2L193.3 231L193 230.1L191.9 228.2M188.3 235.8L188.3 235.3L188.4 234.7L188.9 234.5L189 233.2L189.2 232.7L189.7 232.2M195.2 237.1L196.3 236.8L197.6 234.7L200 234.5L202.1 233.7M194.2 226.8L194.3 227.7L193.5 228L193.4 229.2L193.3 230.1L192.8 231.4L191.2 233L190.9 235M194.7 236.8L197.2 236.7L197.3 236.2L196.8 235.8M205.5 228.9L204.3 228.5L203.3 229.3L203.7 231.4L203.8 232.6L203 233.3M209.7 242L208.4 240.1L209.5 238.9L210.4 239.4M215.7 248.2L215.5 249.4L216.1 251.7L217.9 252L219.7 250.7L219.8 250L220 248.6M199.2 234.9L199.2 232.6L198.2 230.4L199 229.5L199.6 229.3L201.8 228.2M193.8 239L194.4 240.8L195.4 241.1L196.7 242L197.5 241.7L199.6 240.9L200.3 239.2M190.4 231L192 232.7L192.8 233.6L195.2 233.8L195.7 235.1L194.3 236.5L192.4 236.7M202.7 231.8L201.3 231.6L201.2 230.5L199.7 229L198.7 228.5L198.3 227.1M202.5 223.7L200.1 224L199.9 225.5L200.5 225.9L202.8 225.7L203.1 223.7L203.8 221.7L204.5 221.5M202 240.2L201.1 239.9L199.3 241.3L200.2 243.4M198 239L197.9 239.7L199 241.4L200.5 241.6L201.2 241.3L202.4 240.4L204.2 241.4M189.4 232.7L189.3 234.5L189.2 235.1L189.4 237.3L190.5 238.6M196.8 222.6L194.7 221.8L194.2 221.1L192.3 219.8L192.4 219.3L192.1 218L192.2 216.9M178.9 226.4L179.7 225.3L179.2 224.7L176.9 225.5M189.9 232.2L189.5 231.1L188.5 230.6L188.6 229.8L188.3 227.8M188.5 228.6L187.5 227.6L185.2 228.4L184.3 227.8L184 227L183.9 225.1M190.9 228.9L191.8 227.5L193.1 227.5L195.2 228.1L195.6 228.5L195.1 230.3L195.2 231.3M209.8 245L210.5 245.5L212.9 245.4L213.5 244.7L212.6 243.1M207 251.6L205.8 251.1L205.3 251L203.3 251.3L201.2 251.4L200.5 251M204.8 243.7L205.6 245L205.4 245.7L206.2 246.3L208.3 245L209 244.6L209.6 243.7M188.9 231.9L188.6 229.6L188.2 228.2L188.3 227.5L189.2 226.6M208.2 246.7L207.4 245.6L206.8 244.2L208.3 243.3M205.8 244.8L204.8 244.7L203.4 246.4L202.6 248.7L200.5 249.6M202.3 245.8L202.4 244.2L200.3 243.5L198 243.1M190.7 235.9L189.5 237L187.7 235.7L186.1 235.6L185.4 233.6L184.2 233.4L182.3 231.9L180.5 232.8M196.7 235L197.4 234.9L198.4 233.4L199.8 233.1L200.8 234.2L201.4 234.2L203.4 233.6M193.7 233L193.5 233.7L193.8 234.3L192.4 235.6L191.1 237M196.4 231.2L196.1 232L195.8 233.2L195.9 234.9L195.8 235.7L194.9 235.9M205.8 236.1L204.5 236.7L204 236.2L204.5 235.6L204.7 234L206.9 233.5L208.5 234.4L208.8 235.5M207.3 247.9L206.8 250.2L204.6 251L203.1 251.9L202.3 252.1M196.1 231.9L195.1 234.2L194.4 234.3L193.8 234.7L193.1 235.7L193.5 237.1L192.5 238.6M194.4 237.6L194.6 238.4L194.9 238.8L197.1 239.5M186.6 230.3L186 232.7L186.4 233.2L187.4 233.7L187.5 234.2L189.1 234.5L190 234.5L191.1 235.2M203.4 241.9L201.8 243.2L201 243.7L200.7 244.6L199.6 245L199 246.1L199.1 247L198.9 247.6M193 237.8L194.8 236.3L195.6 235.6L197.4 234.7L198.7 236.2L198.8 237.6M201.3 232.5L200.9 233.9L199.9 233.8L197.7 234.5L197 233.2L196.4 231.8L196.8 229.5L198.4 229.1M179 224.7L179.8 222.9L181 222.5L180.8 221.3L182.7 220.6L184.2 219L183.3 217.2L182.7 214.8M192.5 238.1L193.1 239.2L192.2 241.2L190.8 242.4L191.6 244.1L192.6 245.5M205.9 241L206.6 240.1L205.8 238.4L205.2 238.1L204.5 237.1L203.1 235.4L200.7 235.3M196.8 235.7L196.3 233.5L197.1 232.8L198.1 232L198.2 230.5L196.6 228.7L197.2 227.9L196.9 227M205 241.7L206.9 240.7L206.9 240.1L207.5 239.2L207.1 237.7L207.8 236.5L209.1 235L208.5 233.6M202.4 242.6L202 243.1L202.3 243.8L202.5 246.1M194.5 233.1L194.3 232.6L192.6 231.9L192.8 231L192.6 229.2M186 224.3L187.5 226.2L189.7 226L191 224.5M205.4 252.9L205.6 254.2L205.1 254.5L203.4 256.3L202.7 258L200.6 258.3M190.2 236.7L187.8 236.7L186.4 237.9L185.6 239.5L183.5 240.4L182.1 239.7L180.7 238.5M203.2 230.7L203.7 231L203.7 231.6L204 233.1M181.1 224.9L180.8 225.6L181.5 226.5L181.9 228.5L183.2 230.3M186.4 233.2L185.3 232.9L184.3 231.2L184.3 229.7M194 235.4L193.3 235L191.3 235.3L190.8 236.9L189.1 238L187.9 239.5M196.7 241.1L197.8 241.9L197.3 243.9L195.9 243.9M208 249.2L207.8 247L207.1 245.9L206.1 245L205 243.8L204.4 244L204.5 245.9L204.2 247.6M218 253.7L216.1 254.3L214.4 252.8L212.1 253.1L210.9 253.5L209.1 255.2L208.5 255.3M198 228.9L199.4 230.1L199.7 232L200.9 232.3L202.2 230.9L203.2 230.8L204.1 231L205 230.9M193.3 236.9L191.5 236.3L190.7 235.5L188.7 235.7M197.7 238.4L197.7 238.9L197.2 239.8L197.8 241.1M195.3 244.9L193.3 245.3L192 245L190.8 244.4L189.3 242.9L189.2 240.5L188.6 240.4L187 242.2M187.7 233.8L186.6 234.6L186.1 234.5L185.1 233.4L185 232.3L184.7 231.4L184.4 231.1M201.7 237.3L202.5 238.4L204.3 239.7L204.5 240.7L204.4 241.7M193.5 236.2L192.9 237L193.3 238.8L193.3 240.1L194 240.6L194.9 241.7L194.3 242.4L192.1 242.5M194.1 238L194.2 238.8L194.7 239.4L194.6 240.2L195.6 241L196.2 240.8L197.1 241.8M195.5 239.2L196.8 239.6L197.9 240L198 240.6M198.7 235.8L198.8 236.8L198.5 238.1L199.3 238.7M207.3 240.5L208.4 238.6L210.1 238.8L211.1 238.1M193.9 234.5L193.4 233.8L193.6 231.6L193.9 230.8L193 230.1L192.1 230.1M191.9 231.7L190.7 229.9L191.3 228.6L192.1 228.5L193.3 226.5M190.9 236.6L188.7 237.5L188.4 238.1L188.1 239.6M191.4 235.7L189.3 236.9L188.6 236.9L187.5 235.9L187.8 235.2L188.3 232.8L190.1 231.6M214.7 246.7L214.8 246L216.5 245.4L217.2 244.3M187.3 229.7L187.4 230.5L186.3 231L185.7 230.8L183.3 230.7M200.4 234.7L200.8 232.9L200.1 231.8L198.5 231.5L197.4 231.1M199.5 241L199.9 243.4L201.1 244.5L201.5 246.7M194.3 238.5L193.1 237.7L192.6 236L191.6 236L190.5 236.8L188.6 238.3M194.4 237.6L194.7 238.4L196.1 239.5L196.9 240.5L198.3 240.1L200.1 239.9M193.4 231.3L193.6 229.7L195.8 228.9L196.2 228.4L198.2 227.5L199.4 226.5L200.7 225.7L202.4 224.5M207.4 246.8L205 246.6L202.7 246.2L200.6 245L199.8 244.4L199.2 244.9L199.1 246L198.3 246.2M191.8 239.6L191.6 240.5L190.4 241.2L189.4 241.2L188.3 239.3L186.7 239.7L185.7 240.8M186.7 230.6L186.7 231.5L185.1 232.2L183.3 230.9L182.5 229.4L180.5 228.8L180 227.5M203.8 243.7L203 243.6L201.9 242.4L202 241.9L203.7 240.5L203.5 238.2L202.6 236.9L202.1 236.7M201.7 243.8L201.1 243.5L199.7 241.7L200.6 240.4L202.4 239L204.5 238.9L206.9 239M206.1 247.2L205.7 248.3L203.7 248.1L202.5 249.3L200.8 248.5M191.7 229.8L191.4 232L190.9 233.1L189.1 234.5L187.9 235.3L187.2 235.6L185.7 235L185 235.5M209.6 236.4L210.3 237.5L211 238.1L211.5 237.6L210.7 236.1L210.6 234.8L211.9 233.5M209.3 234.7L208.5 236.7L206.4 236.3L205.7 236.7L204.5 238.8L203.5 239L202.9 240.1M213.2 248.5L215.2 247.5L216.8 246.8L217 246.3L218.3 245.7L220.3 245.8L222 244.8L222.3 242.4M198.8 236.3L197.2 237.6L195.6 236.9L195.1 235L193.2 233.6M195.8 235.6L196.4 236.8L197.8 237.5L198.7 238.6L200.6 239.7L202 241.2L202.1 241.8L201.3 242.5M185.1 225.9L185.3 225.1L184.8 223.5L184.8 221.2M213.4 240.4L213.5 238.7L214.4 237L214.9 236.3M191.4 230.8L190.5 228.5L190.9 228.1L192.6 226.5L193 225.4M185.9 227.6L187.3 228.3L189.5 228.1L190 228L192.4 227.7L193.1 227.8L195.2 227.5L197.1 227.5M203.8 248.3L205.3 248.6L206.6 249.1L207.9 250.4M202.3 240.5L202.1 241.8L202.5 242.4L204.6 243.7L206 243.7M200.7 246.8L200.9 246L200.6 245.4L200.6 243.9L201.3 243.7M193.2 236.9L192.9 237.5L191.8 238L191.2 239.6L191.1 240.2L190.9 241.3L189.4 242.8M180.5 232L179.7 232.2L179.8 234L179.4 234.5L177.2 235.2M181.2 236.5L181.1 235.9L180.7 235.3L181.7 234.1L182.2 232.7M211.5 251.6L210.7 249.9L210.8 248.1L211.5 246.2M196.2 239.1L196.1 240.4L194.1 241.3L193.1 242.6L192.6 243.2L191.9 244M201.9 237.2L203.8 235.6L204.5 234.3L205.9 233.7L207.6 232M204.6 239.4L204.5 238.8L206.3 237.8L206.9 238.4L206.8 240.5L206.5 242.4M202.4 242.9L203.6 243.7L204.1 243.6L204.7 244.4L205.9 243.9L206.6 244.9L206.9 245.7L208.2 247.7M188.2 238.9L187.7 238.8L186.4 240L186.4 241.5L188.4 242.5L190.1 242.2L192 242.6L193.3 242.2M190.2 230.4L189.5 230.2L188.1 231.6L187.5 232.2L186.6 232.1M186.7 234.5L185.6 233.9L183.9 233.2L183.2 232.9L183.2 231.3L182.4 231.1L181.4 231.2M204.5 245.6L204.3 247.7L204.7 250.1L206 250.5L206.6 251.8L207 252.2L208.1 253.7M188.2 231.7L189 231.9L190.7 231.2L191.8 233L192.3 233.7L193.9 233.9L195.5 235.6L195.2 237.6M190.6 238.9L193 238.6L193.5 238.6L194.8 236.8L195.3 236.9L196.4 235.2L197 234.3L195.9 233M185.4 227.3L183.1 226.5L182.4 224.8L181.8 224.4L182.7 222.4M189.5 226.7L190.6 225.5L191.8 225L192.8 225.8L193 226.6L194.5 228L193.6 229.9M208 248.5L207.2 249.7L207.8 250.9L207.2 251.5L206.7 251.1L205.3 250.1M202.9 245.5L200.8 246L200.3 247.4L200.1 248.5L200.4 249.1L199 251M201.4 238.3L200.2 237.7L198.6 238.2L198.5 239.7M198.9 237.6L200.1 238.2L199.9 240.1L198.6 241.4L198.9 241.9L199.6 243.3L199.6 245.3L199.5 247.3M188.6 222.3L189.8 221.1L190.5 220.9L190.5 220.2M208.8 242.3L211 242.3L212.4 241.9L213.4 243.4L212 245.2L212.6 245.8M204.3 241L203 243L202.5 243.7L200.7 244.8L199.6 243.8L199.4 242L197.8 241.8L197.2 243M189.9 233.1L189.6 230.7L189.4 229.5L190 227.7L190.3 226.8L189.5 224.7M193.2 225.9L192.9 223.6L192.7 222.1L193.4 221.1L192 219.1M189.6 233L188.6 233.6L187.6 234.9L186.5 236.3M204.8 241L205.6 241.1L206.3 239.2L207 239L208 236.8L206.7 234.7L206.3 234.3M201.6 239L199.6 239.6L198.6 240.7L198.2 242.2L198.3 243.4L198.3 245.5L198.5 246.2M187.5 230.9L187.1 229.9L184.9 229.8L184.1 232.1M197.5 233.8L195.6 235.3L194.7 236.7L192.8 237M197.4 241.3L195.4 241.6L194.9 242L195.3 243L196.1 243.1L196.2 243.6M192.8 228.3L193.7 226.2L193.3 224.9L194.7 224L195 222.8L196.2 220.8L195.2 218.7L195.1 218.2M200.7 245.2L199.7 246.1L198.1 246.3L196 245.7L195.1 246.1L194.6 245.9L193.7 245.7M179.8 234.7L180.1 234.2L178.3 232.7L177.5 231.3L178.1 229.1L179.3 226.9L181.7 226.8L182.3 227.3M199.5 235.9L200.4 237.7L202.2 239L202 239.8L202.6 240.7L202.7 242.6L202.2 243L202.3 244.3M203.9 239.2L203.2 237.8L201.8 236.8L201.1 236.5L198.6 236.4M186.4 230.6L188 232.1L189.9 231.4L190 230.7M196.5 236L194.7 235.7L192.6 236.1L192.2 236.4M195.1 233L194.5 233.2L193.8 232.3L192.5 231.6L191.1 232.6M195.7 237.7L195.2 239.5L194.8 240.6L193.8 241.5L191.5 241L189.9 241.9L189.6 242.5M188.6 224.2L187.8 222.7L187.6 221.9L188.5 220.1L188 217.8L187.3 215.5L186.1 213.6M189.8 231.4L190.2 230.7L189.2 229.4L188 227.3L187.5 226.8L185.8 226.6M202.9 244.3L204.2 243.2L204.3 242.5L203.5 242.1L201.9 242L200.1 242.3M198 240L198.6 238.6L198.9 237.7L198.5 236.2L199.8 235.6L201 233.7M200.1 232L200.4 233.2L199.4 235.1L200.4 236.3L200.3 237.2L199.1 238.3L198 239.4L198.3 240.5M203 238.1L201.4 238.3L199.8 236.6L199.4 235.4L199.9 233.5L201.7 232.3L203.2 233.1L204.1 234.1M182 232.2L180.7 233.4L179.9 233.6L179.1 232.6L176.9 233.7L176.4 233.7L175.3 234.8L174.5 236.3M193.1 232.8L191.3 234.1L190 233.9L189.2 233.7L186.9 233.7L186.5 232.7L188.1 230.8L189.5 231.6M200.1 224.3L201.2 224.6L202 224.7L202.1 226M181.6 240.6L183.3 239.9L184 239.4L184 238.6L185 237.3L187.4 237.3L188 236.4M212.1 248.4L211.4 246.8L210.3 246.3L209.2 246.8L208.3 245.9L206.1 246.8L205.5 246.3L204.9 246.5M208 240.9L208.7 242.7L208.5 243.2L206.6 243.8L205.3 244.2L204.7 245.5L203.8 246.3M203.1 244.9L205.2 245.9L207.1 245.9L207.4 247.6L205.2 248.8L205.4 249.5M181.1 234.1L182.5 233.2L182.3 232.6L180.7 231.6L179 231.4L178.7 230.3L179 228.5L179.4 227.8M189.4 234.9L190.3 236.3L192.4 236L194.1 235.3L194.5 235.5M191.2 231.1L193.3 229.7L193.8 229.1L194.5 227L196.2 226L197.4 227.1L198.1 227.3M202.4 236.5L201.4 237.4L201.2 239.1L200.5 240.3L199 241.6L197.7 242.2L196.9 241.6L197 240.3M207.4 232.1L208.8 232L209.4 232.1L211 232.7L212.2 233.4L211.7 235.1L210.7 236.9M202.2 238.9L201.6 241.1L201.1 241.5L200.8 243L199.4 245L199.9 246.4L201.6 247M200.4 241.1L202 241.8L203.2 242.1L204.3 240.9L204.1 239L204.4 237.8M203.2 238.8L202.1 237.3L201.6 237.5L200.5 237.7L200 237M187.8 230.4L187.2 231.1L186.5 232.1L185.1 231.5L184.8 230.3L184 228.5L184.5 228M196.3 232.8L195.8 232.2L193.8 233.4L193.1 235.4L191.3 236.4L189.4 235.6L188.8 234.9M195.6 238.5L195.8 237.2L196.1 236L196.4 234.1M193.5 238.3L194 236.5L193.3 235.6L193 234L190.8 233.7L188.7 234.2M199.4 239.6L201 240.9L202.3 240.6L203.3 241M191.8 223.4L193 224.8L194.2 224.9L194.8 224.7M194 233.5L195.8 233.6L197.1 232.9L198.3 233M208.7 241.8L208.9 243.8L210 244.1L210.9 245.9L209.7 247.7L208.5 248.4L207.1 249L206.4 249.5M204.9 253.1L203.2 252.7L202.8 253.7L202.4 254.9L202.7 257.3M190.7 230.5L190.2 230.4L189.5 228.8L187.2 228.9M201.4 241.7L201 243.9L201.7 245.2L202.2 245.7L203.5 247.7L205 247.7L205.5 248.6M196.2 230.5L197.7 230L198.1 230.5L199.6 230.5L201.9 230L202.8 231.6L203.6 233.9L206 234.3M213.3 248.3L211.1 248L209.6 246.4L207.5 246.9L206.6 247.6L204.9 247.4M201.3 236.6L202 238.4L201.2 240.3L199.8 242.3L200.9 243.8L201.6 243.6L202.6 242.1M193.5 237.9L192 238.2L190.2 238.7L187.9 238.9L185.9 238.1M185.4 225L183.8 225.4L182.1 226.5L181.9 227.5L180 227.5L179.5 225.6L177.9 224L177.8 222.8M198.9 235.7L197.6 233.7L198.2 232.7L198.9 230.5L198.1 229.9M190.3 227.3L188.7 227.2L187.9 226.2L185.9 226.2M211.7 244.1L210.5 245.5L209.5 246L208.6 245.1M184.4 225.2L185.4 224.1L187 223.3L187.9 221.7L189.4 220.1M188.9 229.2L188.5 228L189.9 226.5L191.5 225.6L193 224.5L193.1 222.5L193.3 220.2M186.5 231.7L187.3 231.7L188.1 229.7L189.4 227.7L190.7 228.1L191.9 228.4M195.4 235L195.9 236.9L196.4 237L197 238.2L197.7 238L199 238L199.7 239.9M198.7 233.6L197.7 231.8L196.9 231.1L196.9 230.1L197.3 227.8L197.3 225.6M198.4 227.6L199 227.6L199.5 227.5L200.5 228.1L201.3 228.2L202.2 226.2L202.5 225.8L202.8 225.4M202.9 240.1L204.2 240.3L205.1 239.5L206.2 239.7L208.1 240.2L208.4 241.8L210.2 242M190.4 229L189.7 231.2L188.1 232.8L186.6 232.8L186 232.6L185.6 231.3M179.3 217.5L179.5 219.2L181.5 219.4L182.5 218.7L184.3 217L185.2 215.9L186.1 214.5L185.9 212.9M207.4 246L206.1 246.2L204.7 248.1L202.4 248.9L201.6 248.8L200.2 250.5L199.6 250.4M200.4 232.4L199.3 231.7L197.1 232L196.5 230.3M187 228.9L187.4 228.3L187.5 226.2L186.3 225.9L185.7 223.5L187.1 222.5L189.5 222.4L190.3 224M194.8 229.1L195.7 230.1L194.8 231.1L193.5 230.7L193 230.7L192.1 228.5L192.9 226.1M199.4 230.6L200.3 230.9L200.7 232.8L199.7 234.7M181.7 232.4L182.5 230.4L181.9 228.1L182.4 226.3L181.7 225.4L181.5 224.8L181.5 223.7M197 246.8L197.7 247.2L199.8 247.7L200.2 247.3L199 245.2L199.4 243.2L197.8 242L196 242.5M192.4 228.1L191 229.3L189.3 229L187.7 228.5L187.3 228.9M177.5 224.1L177.8 222.4L178.4 222.2L178.9 222M178 227.8L178 228.4L179.9 228.9L181.8 229L183.5 229.1M189.8 224.8L188.7 224.2L187.4 223.7L186.3 221.5L186.8 221M185.5 228.4L185.8 226.4L185.8 225.7L187.8 225.1L188.6 226L190.2 226.8M199.6 239.1L199.9 238.1L200.5 238.2L201.2 240L201.1 241.2M191.2 227.1L190.9 227.9L191.2 228.4L190.6 229.2M204 247.7L203.2 247.6L202.6 246.9L202.6 246L200.6 244.8L199.6 243.4L199.5 242.8M198.2 234.9L199.1 235.5L199.7 237.1L202.1 237.4L202.7 237.1L202.5 234.8M200.2 240.2L200.8 240L201.6 241.4L202.4 241.8L203.6 241.3M205.7 237.8L204.2 237.2L203.5 237.6L202.2 236.5L202.4 236L203.5 235.2L202.5 233M191.5 234.2L192.7 232.6L193.9 230.7L193.8 229.8L192.4 229.4L191.4 228.2L191 226.5M200.7 239.9L199.1 241.2L197.8 240.2L197.6 239.7L198.4 238.4M188.4 225.4L189.7 225L191.2 225.8L193.3 226.3L194.6 226.4L195.5 225.3M182.7 234.9L182.7 234.1L182 233.7L179.6 234L179.1 233.6L178.1 234.1L178.4 235.6L178.1 237.1M187.5 232.1L186.5 230.6L185.8 230.3L184.9 230.1M193.7 227.6L193.1 225.7L192.2 224.1L191.6 222.9L192.2 221.9L193.8 222.1L196.1 222.2M208 243.4L207.2 242.9L206.7 243L205.6 242.5M194.7 235.4L195.1 237.3L195.2 238L193.2 238.9L192.6 239.2L190.5 239.7L189.5 240.1M179.8 224.5L178.1 224.2L176.5 222.6L176 222.2L175.4 220.7L173.8 220.7M209 255.4L209.3 257.4L207.5 258.2L205.9 258.9L204.8 260L203.9 260L202 258.7L201.4 258.4M203.9 239.9L203.6 238L204.4 236.5L203.1 235.1L204 233.6L203.4 233L202.1 232.8L199.7 233.1M190.3 232.8L189.6 231.4L191.2 230.2L192.2 230.7M178.6 233.5L177.7 235.3L176.1 236.2L173.9 236L171.9 237.5L171.1 237.5L170.2 238.3M192.4 234.9L191.8 237.3L191.3 239.4L191.3 240.8M198.5 232.3L197.8 230.6L196.6 229L196.8 228.5L195.3 227.4L194.5 226.9M198.5 233L196.6 233.1L194.3 232.9L192.4 232.8M218.9 245.8L217.4 244.3L216.4 244.3L216 245.2L213.6 245.3M202.7 244.1L202.6 245.8L203.3 246.3L204.7 245.6L205 244.1L204.1 243.4L202.6 241.4L200.9 241.5M198.2 239L197.9 239.7L196.9 239.8L196.4 238.5L196.4 237.8L195.7 236.8L195 236L193.7 234M194.6 229.3L195.4 229L195.8 227.5L195.7 225.5L195.6 224.8M206.3 246.4L204.8 247L204.3 247.6L203.6 249.1L202.5 250.2L201.6 249.7L199.8 250.1L199.2 250.7M203.2 249.5L203.6 247.1L203.4 245.8L202.5 245.5L202.7 244.5L200.9 243.9L199.6 244.5M193.6 234.2L191.9 235L189.9 235.8L188.3 236.4L187.3 237.5L187.1 239.5L188.1 241.6M192.6 234.5L194.8 235.5L195.9 236L196.5 236.2M167.1 208.4L167.8 208.3L168.8 208L170.7 208L172.6 207.1L174.2 208.2M200.8 259.4L199.7 258.5L197.2 259L195.1 257.9L193.5 257.7M182.1 229.1L181.7 231.1L181.9 231.9L183.2 232.6M192 232.2L191.5 233.9L190.9 234.3L191.5 236.4L191.9 236.9L193.3 236.7L193.9 236.7M199.8 232L199.9 231.3L199.5 228.9L200.6 228.1M187 231.3L184.8 232.1L183.8 231.9L182.5 234L183.4 235.7L183.1 236.5L181.6 236.9M202.8 237.5L203.4 237.6L204.2 236.6L205.9 237.2L207.2 237.9L209 237.9L210.6 238.3L212 239.4M208.9 243.7L208.9 243.1L208.6 242.3L208.3 240.1L207.6 239.8L207.5 239.3L209 238.6L209.4 237.9M199.7 232.8L198.1 234.5L198.2 236.3L199.2 237.3L200.1 236.8L200.2 235.7L200.8 235.3L201.4 233.8M202 246.9L200.9 247.1L200.2 247.2L199.6 247.6M189.2 226.9L187.1 227.3L186.5 227.5L185.6 227.8M210.5 238.9L210.9 239.4L210.4 240L211.2 241L210.9 242.7L210.6 243.2M192.6 230.9L193.3 229.8L195.8 230.4L196.9 230.3L198.6 230M188.2 229.6L187.9 228.4L186.1 228.2L184.9 228.3L184.6 227.7L184.3 225.9L183.8 224.9L184.8 223.3M197.4 238.1L196.4 238.6L194.7 239.6L194.1 239.7L193.4 241.6L192.4 242.7L192.9 244.9M190.7 226.5L189.3 225.7L188.9 224.2L187.4 223.8L186.9 223.3L185.2 222.2L184.9 221.8L183.3 222M211.9 253.5L212.6 252L213.3 252L213.6 252.8L215.7 253.2M197.3 227.7L196.9 227.3L197 226.7L198.2 226.3M191.4 235.5L189.5 236.4L189.6 237.3L190.1 237.5L192.1 239L194 237.9M214.1 249.6L215.3 251.6L215.2 252.1L216.8 252.7M191.6 227.3L189.9 227.1L189.6 225.6L190.8 224.7L191.6 225L193.3 223.3L193.2 222.7M191.2 229.3L192.5 229L192.9 228.2L193.3 227.4L194.5 227.1M189.1 233.8L188.8 233.1L189.8 231.2L190.3 229.9L190.1 227.8L189.5 226.6L189.4 225.5M192.7 238.2L192.1 238.3L190.3 238.1L188.6 239.2L189.1 241.3M208.7 244.9L209.5 246.3L210.5 246.7L212.8 245.8L213.7 246.4L214.8 246.8L216.4 246.1M207.6 250.1L207.3 252.2L207.6 253.2L208.4 253L208.9 251.3M190 234.9L190.2 234L189.7 233.3L189.7 230.9L189.7 230L191.9 229L191.6 226.8L192.4 225.4M208.5 248.2L208.2 248.7L208.7 251L208.7 252.2M200.3 235.8L202.2 235.1L202.8 235.8L202.5 237.6L201.8 238.3M190.3 238L190.4 235.9L191.9 234.1L191.6 233.7L192.6 232.3L192.7 230.8M210.9 239.4L209.3 237.9L208.7 237.4L206.3 237.3L204.5 237.9L203.8 237.9L202.9 235.9L202.6 235.1M204.3 241.4L203.8 240.4L204 239.8L206.3 240.1L206.8 238.4M199.7 245.3L200.3 245.6L200.8 246L201.2 248.3M207.8 251.9L206.7 250.3L205.4 248.9L204.1 248.1L202.9 246.3L203.4 245.2L201.9 243.3M198.1 236.2L198.8 235.1L199.3 234.7L199.9 235.2L201.7 235.5M215.7 252.3L213.3 252.6L212.5 250.4L211.3 249.7L210.8 248.1M208.1 243.5L207.8 241L207.4 239.6L208.4 239L208.9 237.5L210 237.6L210.7 237.5L211.1 237.3M193.8 235.4L195 234.7L195.4 234.3L195.9 234.3L197.5 235.4L199.4 234.8L200.5 235.2M208.2 245.7L208.1 246.5L206.6 246.9L205.1 248.5L204.4 249.9L205.1 251.8L205.3 253.4L204.8 255.1M200.2 247.2L199.4 246.8L198.3 246.1L197.5 246.1L195.2 245.8M196 235.2L196.2 235.8L196.7 236L198 237.1L198.3 238.5L199.1 238.9M188.7 234L190.4 232.6L190.3 230.9L188.1 230.4L187.9 228.9L187.6 226.8M190.4 224.6L191.8 223.9L192.3 224.5L191.1 226.3L190.8 226.7L191.6 227.7M195.5 233.9L195.2 233.2L195 231.1L194 230.4L192.5 229.3M187.8 233.8L188.9 233.5L191.3 232.9L191.8 234M195.9 228.1L198 227.3L198.3 226.5L197.9 225.7M194.8 229L195.5 230.1L195.9 232L194.4 233.9M210.2 241.1L208.6 242.5L206.8 243.6L206.1 244.4L206.8 246L207.4 246.3L207.9 247.8M192.6 229.6L193.4 231.1L193.6 232.1L195.2 232.9L195.9 232.6M189.4 228.8L188.4 228.1L188.6 227.3L189 226.5L189.5 226.1L191.7 226.5M201.6 246.1L202.1 244.4L203.4 244.3L204.1 245.6M207.9 245.6L210.1 245.5L210.9 244.6L212.1 242.7L214 241.9L216 242.5L217.6 243.1L218.6 244.2M187.4 236.4L188.2 235.6L187.6 234.2L189.2 232.5L188.2 231.2L187.1 231.5L186 230.3L185.2 229.8M217 244.3L217.2 246.3L217.8 247.3L218.9 247.9L218.7 250.1L220 251.1L220.1 252L221.3 252.5M191.6 235.4L192.1 235L193.6 236.3L195.8 237.2L197.9 237.3M185.9 227.5L187.9 228.3L189.6 229.6L189.3 230.3M200.6 239.9L202.1 238.5L203.6 236.6L203.9 235.1L205.1 234.7L206.1 236L207.2 236.3M209.7 248.5L210.8 247.1L212.4 246.2L212.7 245.1L212.1 243.3L212.9 241.6M204.9 240.8L203.7 242L201.5 242.4L200.4 241.5L200.4 240.9M187.8 229.5L188.3 227.4L189 226.5L191.3 226.6L192.3 225.8L193.3 224.9M192 243.6L191.4 242.5L192.5 241.1L193.9 240.7L195 240.1L195.5 239.5L196.3 239.2L197.5 237.8M210.5 241.4L209.4 242.2L207.7 241.2L207.1 239L205.7 238.4L205.2 238.9L205.5 239.7M192 227.6L192.5 228.5L194 228.6L195.9 227.2L197 225.6M188.4 234.5L188.8 234.1L190.7 232.7L191.6 232.3L192.2 231.3L193.7 230.8L194.3 230.3M207.2 250L207.6 249.1L207 248L206.7 247.6L205.9 245.9M190.7 238.6L191.1 239.2L191.4 240L191.5 240.8L193 241.4M199.2 237.8L200.3 235.6L201.5 235.3L203.2 235L205.7 234.5M186.4 236.3L187.7 235.9L189.6 234.6L191.1 233.2L192.3 232.2M170.4 223L169.8 222.3L168.1 221.5L166 222.1L165.1 221.4L163.2 221.4L162.6 221.1L161.7 220.9M198.3 240.2L199.4 241.3L201.3 242.5L202.3 243L203.6 244.3M200.2 238.1L199.9 240.2L199.7 241.5L201.8 242.5L201.3 244.8L199.5 245.5M211.3 245.3L210.7 243.1L212.6 241.8L212.9 241.4L212.9 240.7L213.9 240L214.2 240.4M189.2 229.6L191.3 229.8L192.5 229.1L192.3 227.5L191.5 226.7L190.1 226L188.4 226.8M188.7 231L188.7 229.8L187.5 229.6L185.2 230.1L183.5 228.3M190.5 233.3L191.4 234.3L191.3 235.1L190.1 235.2L189.6 236.3L190.4 237.6L190.7 238.5L190.3 239.9M190.9 229L190.7 230.1L190.5 231.6L188.6 232.3L187.4 232.7M189.8 232.7L187.4 232.9L187.1 232.4L187.5 230.5L188 230L188.8 229.4M182.7 228.2L184.3 230.1L185.3 231.6L185.7 233.9L186.6 234.8M181.5 227.2L182.3 225.9L182.7 225.1L181.3 223.5L180 221.5L179.2 221.2L178 220.8L177.5 221.4M193 228.3L191.2 227.1L191.8 225.8L192.8 224L193.9 223.5L194.6 224.4L194.4 225.5M206.5 243.7L206.3 245.9L206 247.6L205.1 248.2L204.9 248.9L205.7 249.6L207.6 250.2L208.5 250.6M192 241.6L190.7 242.8L190.3 243.1L189.8 244.9L187.9 245.1L186.6 246.4L185.2 246.7M206.2 241.5L204.4 240.8L204.5 239.1L204.4 237.8L203.1 236.3L202.4 236.1L201.8 236.5L199.7 235.4M191.9 235.5L191.2 236.2L189.9 237.8L189.3 237.8L189.3 237.2L191.2 236.4M187 233.2L186.5 233.7L185.1 234.3L184.2 235.2M204.8 235.9L204.1 235L203.6 233.4L201.7 231.9L200.4 232.9M202.5 240.6L204.1 239.9L204 237.9L203.2 235.6L203.5 235.2L206 235.2M191.8 234.7L192.3 233.9L193.9 234.3L194.5 233.7L195.1 232.1M186.6 226.6L186.2 225.4L184 225.3L183.5 225.5L182.8 224.4L181.6 223.6L181.6 221.3L182 220.5M213.8 243.6L213 244.7L213.3 245.4L212.3 247.7L210.9 247.8L210.2 249.1L208.9 249.3M199.4 247.1L198.2 248.4L196.8 248.2L196.2 248.6M200.9 242L200.6 241.6L198.7 240.2L199.8 238L199.1 237.2L198.6 237.5L196.6 236.6L195.2 237.9M212.9 239.7L213.9 239.6L214.6 239.7L214.8 240.7L215.5 243.1M216.5 250.8L215.2 251.5L214.1 252.8L213.5 252.9L212.7 254.4L212.8 256.8L213.4 258.9M207.6 254.9L208 254.1L208.8 253.9L209.6 253.9L210.4 253.8M200.3 239.8L201.9 238.1L201.2 236.9L200.1 235.4L200.2 234.6M205.2 249.3L206.3 251.4L205.4 253.6L204.5 255L202.1 255.2L201.2 254.5L199.7 255.9M210.5 247.6L211.9 247.1L212.9 247.8L213.2 248.7L212.1 250.7L212.3 252.6M202.7 239.9L204.4 238.5L204.7 237.8L205.8 237.3L207.2 238.1L208.6 238.1L210.2 237.1L210.2 236M194.3 239.8L192.1 239.9L190.8 240.1L189.9 239.1M197.3 234.4L197.3 232.7L197.1 231.4L196.2 230.6L195.2 230.5L193.8 231.4L194.2 232.4M196.1 235.3L195.3 235.4L194.7 235.8L193.9 235.7L193.7 234.6M201.2 234.8L201.8 233.9L201.2 233.1L201.7 232.3M195.9 240.5L197 239L197.7 238.1L198.9 236.5L197.4 234.8L198.9 232.8L199.9 232.8M209.2 238.5L210.4 238L211.3 238.7L211.3 239.6L213.2 240.1L214.1 241.4M203 252.1L203.7 253L206 253.8L206.6 253.3L207.8 252.5M201 237.2L199 236L198.3 235.7L196.3 236.6L195.3 238.4L193.6 239.4L191.7 239.2L189.7 238.6M195.1 240.9L196.6 240.8L198 240.2L198.7 241L199.8 242.7L200.5 242.8M191.4 230.4L192.8 229.4L195 230.6L196.6 231.2L196.5 231.9M206.7 247.8L207.8 248.5L207.4 250.8L207.2 251.4M204 238.6L204.3 240.5L203.7 241.1L202.1 241.2L200.9 242.5L199.6 242.6M179.4 223.2L180.6 223L182 221.6L183.2 220.1M202.4 243.9L202.5 244.7L202 245L199.8 244.2L197.4 244.6L196.1 243L195.6 243.1M172.9 224.4L171.9 223.6L171.4 223.3L170.7 223.2M194.1 229.4L194.6 228.2L194.3 227.7L193.3 225.8L193.2 225.2L194.2 224.6L196.3 224.9L198 224.1M192.2 238.4L192.5 236.5L192.7 234.4L194.4 234.1M206.4 240.8L208.3 241.1L208.8 241.5L208.4 242.8L207.5 243.7L208.5 245.7L210.8 246L211.3 246M182 233.1L181.4 231.3L182.2 230.4L183 230.8L183.9 230.5L185.5 230.6M202.1 243.4L201.7 242.4L201.5 240.4L200.5 239.3M196.2 229.5L197.5 229.8L198.5 230L199.6 229.3L200.1 228.5L199.7 226.8L198.9 226M206.2 236.6L207.6 235.5L209 235.8L211.2 234.8L211.6 233.4L212 232.8L212.8 231.4L213.7 231.1M206.4 242L204.3 240.7L204.6 238.5L203.1 237.7L201.8 238.3L200.7 238.5M209.1 245.9L207 246.9L206.3 247L204.6 247.6M195.8 236.1L195 236.1L193.9 235L193.6 234.4L193.6 233.6L193.6 233.1L193.9 231.7M192.4 236.3L190.2 236.1L189 235.7L187.5 235.5L187.3 234L185.7 232.2M207.5 249.6L207.9 249.3L209.1 249.8L210.5 248.2L212.3 248.1L213.1 246.9L214.1 245.2M203.1 240L202.6 238.9L203.5 236.9L205.4 237L207.6 236.5L208.9 236.9L211 237.8L212.8 237.2M195.4 233.2L195.2 233.9L195.7 234.6L196.3 236.5L198.1 237L199.9 235.7L201.5 234.2L203.1 233.9M191.6 230L189.5 230.9L189.5 232.1L188.8 233.1L187.8 235.3L186.9 235.2L186.5 235.6L184.6 235.7M201.9 240.4L200.7 239L200.9 238.2L201.6 237.8L203 239L204.1 241L205 240.9L206.4 242.1M200.4 243.7L198.3 245.1L197.6 245.5L197.6 247.3L199.3 248.8L200.3 249M201.5 242.1L200.9 244.4L201.3 246.2L200.6 246.6L199.9 247L199 248.1M180.7 223.7L180.4 225.6L178.9 226.9L177.6 227.8M194 238.3L195.7 237.8L198 238L199.6 236.4L201.4 237.1M188.8 223.8L190.7 223.8L191.6 222.7L191.1 221.3M200.5 240.8L198.7 239.7L198.3 238.3L196.1 237.4L194.5 236.3L193.5 236.2L191.5 237.2M196.6 229.7L195.2 229.7L194.5 229.7L193.8 229L193.8 227.7L194.3 226.2L193.8 224.6M205.7 244.1L205.7 244.9L207.2 245.3L208.9 244.3M204.6 243.1L205.9 243.2L207.1 244.2L206.8 245.8L204.9 246.3M205.5 245.2L203.4 244.9L202.6 246.7L203.6 247.5L203.3 248.2L203.7 248.7L203.4 249.2M200.4 234.4L198.6 234.5L198.2 236.4L199.8 237.7L200.4 237.2M191.1 230.2L190.3 231.2L189.1 231.2L186.9 230L186 228.7M199 240.3L199.7 239L200.4 238.6L201.1 238.9L202.4 239.2L203.3 240.2L204.8 240.6M193.3 241L192.4 242L191.1 242.1L190.5 243L189 243L187 244.2L185.6 245.7L184.2 246.3M181.5 226.4L179.2 225.9L178.9 224.3L177.8 222.8L175.7 222.2L174.5 223.4L173.4 222.9M206.3 240.6L206.7 238.2L207.4 237.3L206.9 236.5M195.3 239.5L194.2 239.3L193 238.5L192.5 238L190.6 237.3L190.3 237.9L191.8 239.7L192.8 239.8M196.4 237.5L196.9 238.5L196.8 240.5L198.7 241.9M176.5 223.8L176.8 221.5L176.3 221.3L175 220M187.1 233.3L186.8 231.8L185.1 230.5L183.6 231.2M181.5 229.2L181.8 228.1L182.4 228.1L183.9 229.7L183.6 230.3L184.1 230.8M198.5 247.8L199.3 247.6L199.1 245.2L200.1 244.9L201.2 244.6L201.9 243.9L202.3 242.7L200.4 241.3M204.8 245.7L204.9 246.2L206.5 247.7L207.5 247.1L207.9 246L209 245.6M186.3 228.8L186 229.7L185.4 229.7L183.6 228.9M207.1 241.9L205.6 240.2L204.5 240L203.7 239.6L203.1 239.9L203 240.7M185.3 230.2L186.7 232L186.2 232.7L185.5 233.3L184.3 233.6M216.5 245L216.6 244.2L217.8 242.3L219.2 242.8L221.3 243.5L222.7 244.7L222.5 245.5M202.7 238L202.9 238.5L203.5 239.1L204.7 240.6L204.6 241.7L204 243.1L203.3 245.1M200.4 236.8L202.1 238.2L204.2 238.6L205.3 240.8L204.8 241.7L204.3 241.6L203.3 243.5L202.4 244M204.3 239.9L205.2 242.2L205.2 242.7L205.6 243.6L207.5 244.7L209.1 245.8L210.8 246.6L212.7 248M204 242.5L203 244L202.2 246.4L201 246.4L198.7 246.6L198.1 246.7M188.4 232.8L188.8 231L190.8 229.6L191.7 230.1M215.4 252.1L214.9 250.5L214 249.8L213.4 249.8L212.4 248.8L211.3 248.7L209.5 247.9L208.9 247.1M189.6 231.7L189.4 232.4L188.9 233.3L188.3 233.6L186.4 232.5L185.8 231.1L184.5 231.1M203.4 241.6L201.6 241.8L200.4 242.5L200.6 244.3L199.6 245.5L197.8 245M190.7 227.3L190.9 225.1L191 222.6L191.3 221.2L191.2 220.6L192.6 219.3L194.9 218.6L196.7 219.7M192.3 234.5L192.5 233.9L192.2 231.8L193.5 230.1M186 223.6L186.7 224.7L185.5 226.7L186.4 227.5L187.1 227.8M194.8 226.4L195.3 225.4L197.1 225.3L198.3 226.7L200.2 225.7L200.1 224.9L198.6 224.3L197.3 224.6M199.5 240.2L200.4 242.4L201.2 242.6L202.3 243L202.9 245.1M198.5 234.9L199.4 235.5L198.7 237.9L197.8 238.4M210.4 247.8L210.1 246.9L209.1 246.8L208.6 246.1M194.4 229.5L194.4 230.7L194.4 232L195.6 233.2L195.1 235L194.5 235.4L193.9 235.4L193.3 235.4M206.7 246.5L207.2 248L207 249.2L204.7 249.8L204 248.4L203 247.7L201 247.1M199.4 237.7L201.4 238.9L202.2 239.5L202 241L201.2 241.4L201.3 242.5L201.6 243.3L201.6 244M202.1 241.2L202.1 243.4L203.2 245.6L204.4 247L206 247L207.7 248.6L207.5 250.1L206.8 251.5M209.5 246L208.5 244.3L207.5 244.2L206.6 243.2L206.2 242.3L206.5 241.1L205.7 239.6M210 242.4L208.9 244.4L207.9 245.2L207.5 245.7M201.6 239.6L204 239.8L205.6 241.7L206.8 243.5L206 244.3M205 238.8L203.6 238.7L202.8 238.3L201.2 238.2L200.6 238.6L198.8 240.2M206.8 241.4L204.7 240.5L204.2 240.8L203.1 239.5M190.1 239.3L190.6 240.1L191.3 241.1L191.8 242.1L190.9 242.9L191.3 245L191 246.4L191.8 247.1M203.4 243.2L202.8 241L202.2 240.9L200.1 241.1L199.2 239.3L199 237.9L198.7 236.9M187.5 235.4L187.7 236.3L187.3 236.6L186.2 237.8L185.4 237.9L184.2 235.9M174.5 226.3L174.9 227.2L175.9 227.6L176.6 228.1L178.1 228.9L179 230.6L177.5 231.9M188.3 236.2L189.2 234.1L190.3 232L189.6 229.9L188.5 229.6M212.3 253.1L212.4 252.5L212.7 251.2L212.7 250.5L213.2 249.3M208.4 249.9L208.1 248.9L207.4 247L207.6 246L207.1 245.8M193.1 235.9L193.5 236.5L195.9 236.1L196.9 235.5L196.7 234.6L195.4 233.4L194.8 233.4M209.3 244.8L209.1 244.1L208.9 241.9L210.5 240.8L210 239.6L208.4 238.1L207.6 236.8M201.6 238.7L203.2 238.3L204 239.7L204.4 241.6L202.7 242.6M208.1 238.4L205.8 237.5L206.1 235L204.8 234.2L204.2 233.8L204.3 233.1M210.7 243.1L212.4 241.6L213.2 240.6L214.6 240.7L215.6 239.1L217.8 239.1M191.6 226L191 226.2L189.9 225.9L189.7 225L187.8 224.1L187 223.4L184.8 222.8M199 235.1L198.3 233.9L198 231.6L197.1 230.9L196 230.5L195.4 230.5M190.8 221.3L192.8 221.8L193.6 223.4L195.6 224.4L197 225.2L198.1 226.1L200.1 226.1L201.2 226.2M197.7 235.3L198.3 236.1L199.7 236.4L200.6 237.4M194.4 232L194.5 232.9L194.1 235.1L192.9 235.3L192 237.3M191.5 236.8L193 237.2L193.1 239.1L195.2 239.8M194.7 239L195.9 238.3L197.1 238.9L199.3 238.9L200.3 241L202.3 240.5L203.5 239.8M194.4 234.9L193.4 237L192.5 236.8L192.1 236.2L190.2 235.9M199.9 226.5L199.3 226.9L197.5 228.1L196.6 227.7L195.7 227.2L193.2 227L193.1 226.1M201.7 237.9L200.3 239L200.3 240L201.6 240.6L203.5 240.4L204.6 240.5L205.7 240.9L207.4 242M196 241.7L196.2 243.6L194.4 244.7L193.5 243.8L192 243.9L189.9 243.2M180.9 218.4L179.6 220.2L179.6 221.2L179.5 223.3L180.3 223.5M205.9 236.8L207.6 237.5L208.2 238.3L207.6 240M209.8 245.7L209.7 246.2L210 247.9L211.2 248.2L211.6 250.6L210.8 251.4L209.9 252.5L209.5 254.2M219.7 251.3L218.8 250.2L217.6 250.9L216.5 251M203.1 239.7L204.5 240L206.1 239.3L207.2 238L208.7 238.2L210 237.6L210.6 235.4M191.1 236.3L190.3 236L189 235.9L187.2 235.7L186.4 234.6M198.3 232.5L200 230.8L200.6 231.1L201.2 230.9L202.3 230L203.8 230.1L204.5 229.2M202.8 245.9L201.8 245.4L200.2 244.6L199.1 244.7L197.2 244.2M205.3 250.8L206.1 251.7L205.5 252.6L205.5 254.2M198.3 237.8L197.8 237L197.3 235.5L195 235.6L194.4 236.7L195.8 238.1L195.6 238.6M182.4 229.7L182 231.4L183 232.3L184.5 234.2M183.9 231.3L183.4 230.2L184.2 229.2L184.6 227.5L184.1 226.6L183.4 226.6M210.9 254.6L211 254.1L210.5 252.5L210.3 251.8L209.2 250.1L209.1 249.1L210.6 247.8L212.2 248.2M179.4 212.2L178.2 212.8L177.1 213.9L177.8 215L177.6 215.5L178.3 216.3M195.3 238.2L195 237.4L196.8 236.2L196 233.8L195.5 233.5L194.4 231.7L192.8 232.3M195.8 230.1L194.7 228.3L194.1 226.2L193.7 225.8M204.7 241.3L206.5 241.8L208.1 241.4L208.6 239.5M202.1 247.5L201.5 247L200.5 246.1L199.2 247.1L198.4 247.3L198.3 248.2M191.2 233.2L189.7 233.1L187.7 233L186.6 233.5L186.1 234.3L185.4 236L185.2 237.9M180.1 226.1L180.5 227.2L180.4 228.8L180.1 229.3M179.1 231.2L180.6 231.9L180.5 233.1L180.9 235M201.5 244.4L201.9 244.6L203.7 244.7L205.8 245.9L205.1 247.7M197.6 239.7L197.8 237.4L197.9 235.5L198.7 235.1L199.8 235.9M183.4 222.9L183 223.7L181.4 225.6L180.7 225.8L178.5 225.2L176.8 226.4M205.4 236.9L204.8 238.9L205.9 239.5L205.9 242L205.2 242.5L204.2 242.6L203 243.3M198.8 240.9L198.4 242.7L198.1 243.3L198.3 244L199.4 245.9L198.9 246.8L199.4 247.4L199.2 247.9M188.7 230.2L190.2 228.3L192.2 227.2L192.1 226.5L192.3 224.8M178.9 225.1L179 227.2L180.2 228.9L181.5 228.4L183.3 230L184.9 229.5L186.2 230M194.4 231L193.9 231.3L191.8 230.5L190.8 231L190.2 231M198 236.8L198.3 235.5L198.7 234.9L199.9 234.9L200.5 236.8L200.1 237.9L200.8 239.7M193.7 235.1L195.5 235.8L197.4 234.6L199 234.8M205.4 236.8L204.4 237.9L203.9 238.5L202 237.7M208.3 246.6L206.9 247.2L204.7 246.2L204.3 244.3M190.4 234.9L189.9 234.8L188.6 235.7L186.7 235.8L186.3 237.2L186.7 238.8L185.8 241L186.5 241.9M184.3 224.6L182 224.9L179.8 225.1L178.6 226.9L178 227.2L177.5 228.7L176.3 229L175.6 228.2M220.5 243.7L221.2 242.7L222.2 242L222.7 242.4M199.5 246.1L198.2 246.7L196.8 246.7L196.4 247.2L197.2 248.7L198.5 250.4L197.5 251.4L197.1 252.2M216.4 258.8L217.6 259.8L217.7 261.5L217.1 262.8M190.8 232.7L191.8 232.4L191.9 231.1L190.4 230.3L190.6 229.6M191 229.6L192 231.5L193.3 233.5L192.9 234L193.3 235.9M209.5 252L208.9 254.1L209.1 255.7L209 256.6M187.8 232.1L187.1 232.4L186.6 233.8L186.8 234.4L186 236.3L185.3 237.8L183.2 239M174.1 221.2L172.3 221L171.3 218.8L170.7 218.4L170.1 217.5M195.8 231.9L194.1 232.2L193.6 232.1L193.1 231.1L191.1 230L191.4 227.9L191.3 226.3M187.4 231.7L185.4 231.5L184.8 229.7L184.7 229.1L184.3 228.8L182.7 228.9L182.3 229.8L182.9 230.2M212.1 235.2L213 234.3L213.5 234.3L213.7 232.3L214.2 229.8L214.8 228.6L215.1 227L214.2 226M202.9 237.6L200.6 237L199.8 235.8L198.6 235.6L196.6 236.2L196.6 238.4L198.6 239.8L199.2 239.7M195.3 231.4L196.4 231.1L197.7 231.5L199.3 231.8L200 233.9M191.2 230.2L192 230.2L192.4 230.7L194.1 230.6L195.2 229.8L197.2 228.6L197.7 227.6M198.6 232.9L198.1 233.3L198.5 235.8L199.7 236L200.3 236.7L202.5 236.6M222.9 254.5L222.4 253.8L221.9 253.2L220.8 251.9L219.9 250.1L219.4 249.1L220.2 248.5M189.9 226.2L189.2 228.5L189 229.8L190.3 231L190.9 231L191.9 230.1L192.8 230.5M190.4 231.2L188.4 232.4L188.1 232.9L189.3 234.3L190.8 233.4L191.9 234.6L192.3 236.6M192.2 229.2L193.1 228.3L195.5 228.1L195.8 226.3L196.9 225.8L198.7 226.4L201 226.3L202.2 224.3M199.7 237.7L200.1 238.7L202 238.5L202.4 239.6L201.6 240.4M195.9 245.7L197.5 247.3L198.1 249.2L198.8 251.4M194 237.8L194.4 239L196 240.2L195.8 241.4L195.6 242.9L197.6 244L199.8 244.2L200.4 244.4M210.1 239.2L209.1 241L207.8 242.7L207.1 242.5L207.1 242L205.8 241.4M214.5 253.2L215.4 252.3L216.9 253.2L217.9 254L219.1 253.3L220.6 254.6L222 254.2M204.4 251.5L204.1 253.7L203.8 255.4L204.4 257.8L204.8 260.1L204.4 260.9L203.6 261.8M188.4 229.9L188.4 229L188.2 227.3L188.6 226.2L187.9 224.9L188.7 223.4L187.2 222.2L186.4 221.8M198.1 227.9L196 228.3L194.9 227.3L192.8 226.6L192 227.4M193.9 230.1L194.6 231.8L194.6 233.2L196.1 233.7L196.7 232.7M191.2 241.4L192.2 239.4L190.6 238.2L188.7 239.3L186.9 238.7L186.1 239.1L185 238.4L183.5 237M207.6 253.3L209 252.2L208 250L207.9 248.5M202.8 238.7L204.1 237.1L205.8 237.2L206.3 238.8L206.3 240.7M183.6 227L182.5 226.3L182.5 225L181.8 223L179.7 222.4L177.3 222.5L176.9 221.4L174.9 220.2M201.6 241.4L202.1 240.6L201.6 239.8L200.6 237.5L201.7 235.9L202.3 235.6L204.4 236.6M200 238.4L198.5 238.8L198.4 240.8L196.9 241.4L196.4 241L195 239.5L194.1 238.8M183.2 232.8L183.9 232.9L185.1 232.8L185.9 230.6L186.8 228.9M198.7 241.3L197.4 242.5L197.9 244L200.2 244.3M192.4 229.8L192.8 230.5L195 230.3L196.5 231.6L196.5 233.5M191.6 239.4L191.7 240.9L190.1 242.4L188.6 243.9L188.7 244.8L190.2 246L191.5 247.7L192 249.5M196.7 231.6L195.4 231.7L193.2 231.9L192.2 231.6L191.4 230.3L191.8 229.4L192.8 228.5L193.5 228.3M171.3 226.2L172.6 225.2L172.9 224.6L173.6 224.4L174.5 225.3M183.7 225.3L184.5 224.1L184.2 222.9L184.6 222.4M196.8 238.6L196.4 237.3L195.8 235.2L197.5 234.4L199 233.6L200.3 231.8M196.8 232.6L197.6 232.8L198.7 232.1L200.6 233.5L201.5 234.1L202 234.7L202.9 234.8M189.5 232.6L189 233L187.2 231.4L187 229.3L186.1 227.6L186.4 226.8M186.2 225.2L187.1 225.8L187.4 226.6L188 227.8L190.4 227.7L190.8 226.2L191.5 226.1M200.7 245.7L200.7 243.9L202 242L201.9 240.4L202.7 239.7L203.1 238.8L201.7 237.5M191.1 237.4L192.9 235.6L193.6 234.7L194.1 234.7L195.8 236.3L196 238.5M210.3 244.2L211.6 243L211.9 240.8L211.2 238.7L209.3 238.8L207.5 239.6M200.3 234.1L201.5 234.6L203.2 234.1L204.4 235L205.2 234.5M203.1 239.7L201.6 239.4L200.8 239.1L200.9 238.1L201.6 237.2L201.6 235.4L202.5 235.2M188.9 229.4L187.3 230.3L186.5 231.5L184.3 232.2L182.4 232.2L180.9 232M213.1 243.8L212.3 244.1L211.7 245.6L212.2 245.9L214.2 245.2L213.9 243.4M195.8 236.8L197.4 235.4L198.2 235.8L199.5 234.9L201.2 235.4L202.6 236.3M203.9 242.4L204.5 241.6L205 241.1L204.6 240.4L205.4 238.8L205.4 237.4M189.9 233.8L188.1 235.4L186.9 236.4L186.3 238.2L184.9 238.5L183.5 238.1M192 236L189.8 236.6L188.1 236.6L187.5 236.8L187.2 238.4L187 239.8M192.7 231.8L193.4 231.4L195 232.4L194.7 234.4L195 236.7M208.2 245.4L208.1 244.2L210.2 243.1L210.9 243.2L213.2 243.2L214.1 241.8L215.5 241.7M187.6 238.4L186.9 236.4L187.2 235.9L187.4 233.9L186.8 231.5M208.8 242.9L206.8 244.1L204.7 244.7L204 244M199.9 230.7L201.1 232.8L201.1 234.4L201.3 236.6L200.5 238.3L199 238.7L198.4 240.9L198.3 241.4M188.1 239.4L187.9 240L187.1 242.2L186.1 243.1L186.1 244.5L187.2 245.8L189.5 246.7L191 245.9M203.7 245.5L204.8 243.9L206.6 243.1L207.1 243.2L207.8 244.5L207.6 245L207.3 246M196.2 239.1L196.1 238.4L197.4 237.9L199.3 238.4L200.4 237.9L201.9 236.3M207.8 252.8L209.8 253.8L210 254.6L211.4 254.9L213 255.1L213.4 254.4M210.9 253.7L208.5 254.1L207.5 253.7L207.1 251.8L205.9 250.6M196.2 247.9L198.1 247.1L199.7 247.8L200.3 248.2L200.2 249.8L199.5 251.5M191.7 234.7L191 235.7L190.9 236.4L191.5 238.4L193.3 239.1L194.4 238.2M194.7 238.9L194.4 239.5L193.3 240.3L192.8 240.5L191.3 240.1L191.1 238.8L191.3 237.7M198.2 231L196.7 232.4L195.5 232.9L194.3 234L194 235.7L192.5 237.3M194.9 237.8L193.6 238.2L192 236.5L191.8 234.1L192.5 233.6L194.3 234.4M199.8 239.3L201.6 239.8L201.9 240.9L203.3 242.1M195.1 233.6L194.2 232.8L192.7 231.7L192.1 230.5L190.9 230.3L189.7 232.1L188.2 234M196.1 225.8L196 223.6L194.3 222.9L193.6 221.7M218.9 246L218.3 245.9L217.2 244.5L217.2 244M178.9 222L178.4 222.3L176.3 222.2L175.3 221.9L174.3 222.3L173 223.8M194.5 233.5L194.4 232.8L194.6 230.5L194.1 230.2L194.4 229.2L194.2 227L193.6 225.7L192.2 225.4M218.1 252.7L217.2 252.5L215.2 251.3L214.1 251.7L213.5 253.2L212.2 253.4M207 241.2L204.8 240.6L203.4 241.3L202.3 240.1L200.9 240.3M198.4 234.4L197.4 236.5L198.6 237.5L198.3 239.1M205.7 246.5L204 244.8L202.5 242.9L202.3 241.9L201.7 240.7L201.2 239L202.3 236.8L204.7 236.1M208.8 255.3L209.7 255.1L211.4 253.3L211.9 253.3L212.1 252.1L213.9 250.7L213.8 250M209.4 247.6L209.6 248.6L209.9 250.8L211.9 251.9L212.9 251.8L213.2 252.9L214.4 253.7M184.7 223L185.4 223.8L186.2 224.4L186.8 225.2L187.1 226.3L188.7 227.1M197.1 239.6L199 239.8L200.9 238.7L200.1 236.6L201.1 235.7L201.4 234.5M178.5 235.1L180.6 234.7L180.9 233.6L182.4 232.5L184.3 233M197.6 232.6L198.2 234.8L196.9 235.8L196 235.8L195.9 236.4L193.7 237M197.4 229.3L199.6 229.8L200.8 229.3L202.2 228.1M196.9 244.4L195.3 245.3L193.6 246.4L192.4 247.9L192.2 250M198.7 237.2L197.1 236L194.9 235.2L193.9 233.5L193.4 232.1L194.1 231.7L195.3 232.1M186.2 234.6L185 233.4L184.5 231.3L182.4 231.4M193.8 234.6L194.3 233.6L194.8 231.3L195.7 230.9L196.6 231.7L197.9 231L197.9 230.1L198.9 229.4M198.3 231L196.9 230.6L196.2 230.7L195.6 230.2L195.1 228.8L193.7 227.4L193.4 225M206.9 243.1L206.9 241.8L206.4 241.5L204.9 241.6L204 242.3L202.8 241.9M203.1 234.5L201.8 236.3L201.1 236.7L201.5 238.9L201.3 239.6L201.4 240.2L202.2 241.3M212.5 250.8L214.1 251.2L215 249.8L217.3 249.8L218 249M196.3 238.3L198.3 237.8L199.6 236.6L199.6 235.4L200.2 235.1M193.5 231.7L194.5 232.5L193.9 234.9L195.9 236.2L196.8 236.2M195.7 240.9L194.3 242.4L192.8 242.7L191.8 244.2L190.9 244.6" stroke="#3e2d93" stroke-width="0.7" fill="none" stroke-linejoin="round"/>
<path d="M184.8 230.9L186.4 232.5L187.3 233.3L187.6 234.4L188.4 234.4L189.8 233.1L190.1 230L188 229.1L187.1 228.6L184.9 229.1M192.4 236.2L191.6 235.7L189 234.9L186.7 235.8L186.2 236.2L185.7 238.1L186.1 239L185.1 240.6M189.1 239.2L191.2 237.5L191.2 235.5L189.4 234.7L188.7 232.9L189.5 231.4M160.4 211.5L160.9 211.9L163 213.5L163 214.1L162.7 215.2L163.4 216.1L164.5 218L164.8 218.6L166.5 221L167.9 220.4M186.9 237.4L188.1 236.3L188.4 235.4L190.9 234.4L190.9 232.2L193.9 231.7M205.3 258.4L206.3 258.3L207.7 259.7L210.3 259.2L211.1 258.7M187.5 230.2L186.6 230.7L185.4 230.3L183.4 231.4L181.9 231.5L179.8 232.6L178 230.5M189.2 227.5L189.1 230.4L188.3 232.2L188.5 233.6L189.1 234L191.9 233.5L192.4 233M202.7 238.1L204.1 237.3L206.5 236L208 235.8L210.3 235.8L212.1 236.7L214.1 234.4L214.7 234.6M207.5 237.8L208.1 237.1L209.2 236.7L211 237.8L211.9 240.7L214.1 241M201.1 237.6L201.8 236.9L203.1 236.6L204 238L204.8 238.6L205.4 239.2L206.3 242.2L205.7 244.7L205.3 246.2L202.4 246.6M177.1 238.9L177.7 239L179.2 238.9L180.2 239.1L181.9 239.1M200.4 243.4L198.7 245L197.9 246.2L196.5 248L196.8 249.6M214.4 244.7L212.8 246.1L212.4 246.5L213.5 248.3L215.2 249.5L215 250.7L213.3 250.7L212.8 250.9L212.2 251.4L211.6 252.3M199.1 237.2L197.1 235.5L194.2 236L193.5 236.2L192.5 236.8M180.9 241.2L182.7 238.7L182.5 237.1L183.4 236.7L185 237.1L187.5 236.4M171 216.7L172.7 218.4L174.7 218.9L176.8 220L178.9 220.4M192.5 248.7L193.2 248.5L193.9 247.5L194.8 247.3L195.3 247.8L196.4 247.6L197.8 248L200.3 248.9L201.4 247.4M200.5 228.7L201.6 227.5L201.3 226.4L199.5 223.8L199.4 221.6L199.6 219.5L199.2 218M200.6 233L200.2 233.3L200.2 234.2L200.7 237L202.9 238.3L203.6 238.7L204.5 241.7L205.8 241.7L207.5 242.7L208.8 242M190.9 244.5L191.9 243L192.8 242.9L194.4 244L195.9 245.9L196.4 249L197.3 250.3L197.1 252M181.7 226.9L181.5 225.4L182 223L182.1 222.5L182.6 220.9L184.8 219.9L186.6 219.2L187.2 220.1L187.9 220.3M192.2 249.5L193.3 249.3L194.7 248.8L194.9 246L194.4 243.1L195.2 242.3M193.2 235.4L192.8 234.9L190.3 233.4L189.7 232L190.8 230.6M210.8 237.5L208.5 237.1L206.3 239L203.6 237.8L202.8 237.2L201.6 236.7L199.9 237.3L198 237.5L197.3 238.2L197.4 239.1M187.5 231.5L189 232.7L188.4 235.8L186.8 237L185.8 237.5M188.2 242.3L190.7 244.1L192.5 244.6L193.7 243.7L195.4 244.7L196.3 244.4L197.7 242.7L200.4 243.4L201.5 241.5L199.2 239.5M219.2 245.6L218.1 243.4L218.2 242.7L216.4 240.6L215.5 239.9L215 238.5L213 238.5L212.3 238.3M187.8 230.8L188.5 231.1L189 231.1L191.5 231.8L192.1 231.1L193.7 228.5L195.4 227.5L196.7 227.6L199.7 226.7M194.6 237.4L194.3 236.4L195.5 234.5L195.8 231.6L197 231.3M215.8 237.1L215 236.6L213.4 236.4L212.5 235.7L211.5 236.1L209.9 234.4L208.7 234.2L207.1 234.1L206.6 233.9M195.4 241.7L195.9 244.8L194.7 245.4L193.9 246.5L194.1 247.6L194.4 249.9L196.6 251.9M202.1 234.8L202.7 235.5L203.5 235.8L205.7 237.1L207.2 236.1L208.1 235.6M201 251L200.7 248.6L200.4 247.5L201.6 244.8L200 243.1L200.1 241L201.5 238.6L202 237.3L202.8 235.9L204 233M201.3 220.6L199.9 220.5L199.5 221.4L200.7 222.2L200.7 224L199 224.6L197.8 226L197.1 225.7L196 224M200.6 253.4L199.4 250.6L196.9 249.9L195.7 249.5L194.9 249.8L193.1 249L192 246.8L192.8 244.4M174.7 236.8L175.4 239.3L175.5 241.9L176.4 242.5L177.9 242.7L178.4 245.7L179.4 246.6L178.1 248.7L177.8 250.7M186.1 246.4L186.6 245.4L185.9 244.2L184.8 243.3L183.8 243.9L182.1 243.8L181.9 242.9L180.8 241M198.4 252L196.4 251.6L193.7 251.7L192.1 252.1L192.1 253L193.6 254.1L193.9 254.7L193.8 255.5L191.7 257M209 230.9L211.2 228.5L211.1 227.4L209.9 226.5L209 227.2L209 228.2L208.7 229.4L207.4 231.3M200.8 241.8L200.7 241.1L199.8 239.6L198.1 240.2L195.1 240.6L194.8 239.8L194.2 239.1L191.4 240.2L190.8 243.1L191 243.7M194.7 240.4L193.1 243.1L191.6 245.2L191.6 248.1L190.7 250.6L191.6 251.4M198.9 227.4L197 225.1L195.1 225L193.7 225.2L191.3 223.7L188.8 223.9L187.4 226.4M194.6 232.3L191.6 232.3L190.4 231.2L189.5 230.6L187.4 230.8M209.9 240.8L209.7 239L208.1 238.8L207.7 240.1L206.1 240.7M179.5 225.1L179.3 225.7L179.8 227.2L180.8 228.5L181.7 228.4L183.8 230.7L184.1 231.4L184.6 232.2L186.7 233.8M204.2 243.7L201.2 243.3L199 244.3L197.5 245.4L197.8 247L198.8 247.6L199.9 249.5L199.8 250.3L199 251.5L198.9 252.5M186.7 228.7L184.4 230.3L184.6 231.3L185 232.1L186.3 234L187.8 233.4L190.1 235.4L190.2 237M213.5 240L214.4 240.5L217 239.5L218.7 242.2L221.1 243.2L221.3 244L222.6 245L222.1 246.1L220.2 245.5M205 241.2L203.5 239.4L201.2 239.1L200.3 239.5L201 242.5L202.7 244.9M184.9 242.4L184.7 241.6L186.9 239.5L190.1 239.9L190.4 243L188.9 245.6L188.6 246.8L187.7 247.4L185.7 245.3M188.1 241.3L188.8 240.6L191.6 240.3L193.8 240.2L194 239.7L194.7 239.6M171.7 204.7L172.1 206.1L172.8 206.3L175.7 206.4L176.2 207L178.3 206.2L180.8 206.5L181.5 204.6M197.5 239.4L198.9 238.2L201.3 237.1L201.6 234.4L201.5 231.2L201.1 230.2L199.8 227.9M199.6 238.9L199.5 239.8L200.6 241.4L199.5 244.2L198.6 245.6L197.2 247.6L194.2 248L192.1 250M191.4 220.9L188.4 220.9L187.4 221.9L185.6 224.3L183.6 225.3L182.4 225L181.1 225.9L181 227.4M176 229.1L174.8 228.3L174.4 225.7L174.2 223.6L175.1 222.6L176.3 221.8M206.6 245.8L206.8 244.9L207.4 243.2L206.8 241.8L203.8 241.5L201.8 239.6L200.4 237.9L201.1 235.1L201.6 234.4M207.5 255.9L204.9 254.4L203.6 253.1L202.5 252.8L200.1 252.4M202.7 255.3L202.7 258.4L201.2 261L200.1 263.8L200.6 265.9L199.3 266.8M188 235.1L187.6 232.5L188.5 232.2L189.3 230L191.3 229.6M209.1 239.6L207.2 238.3L206.5 236.4L207.3 235.7L208.5 234.1L209.2 231.3L209.3 230.7L210.5 229.4L211.5 228.2M200.6 251.2L197.5 251.4L196.8 251.8L195.1 250.2L196.6 247.6M199.6 238.8L198.3 239.5L196.3 238.3L193.4 238.3L192.2 238.4L192 240.7M182.2 232.4L181.9 230.9L183.3 230.4L183.2 229.1L185.9 228.5L188.2 229.8M184.1 231.1L183.8 228.1L186.2 227.2L186.9 227.6L187.7 227L189.1 226.6L189.5 223.7L190.9 221.6L191.2 220.8L191.8 219.1M195.4 236.7L195.6 234.3L198.3 234L198.3 233.5L198.1 230.6L197.7 228.1L197.6 227.1L197 226.6L196.4 224.9M190.3 253.3L188.2 252.2L186.8 252.7L185.2 252.5L184.3 253L182 254.1L180.7 255.1L179 256L178.5 256.2M217.1 260.9L218.3 259.4L218.5 258.8L220.7 258.1L221.2 256.8M202 239.9L201.6 241L199.4 241.2L196.8 241.4L194.3 240.4L192.7 240L190.4 241.7L189.6 244.1M187.4 241.8L188.2 243.1L187 245.6L187.9 247L190 248.4L192.4 250L193.6 252.1L195.2 251.9L195.5 250.8L194.9 249.9M201.8 237.6L200.5 237.6L199.8 234.7L201.6 232.7L201.1 230.2L201.3 229.8L201.7 227.5L202.7 227L202.4 225.4M214.8 258.3L214.7 259.9L213.3 262.1L214 262.8L216 264.2M212.4 255.6L212.4 254.8L211.1 253.4L210.9 251.8L208.9 250.8L207.2 249.4L207.5 248.9L208.9 247.3L210.4 247.7L213.5 247.6M182.1 226.4L179.1 226.8L178.6 225.8L178.6 225.2L179.2 224.6L179.6 223L181.1 221.6L183.3 222.2L184.6 222L185.5 221.5M189.2 228.5L187.4 228L187.1 228.5L185.6 231L186 232.2L187.4 233.6L186.6 235L187.5 237.1M194.2 253.6L192.6 251.1L191.8 251.2L191.1 250.8L190.4 249.1L189.8 248.5L190.6 247.3L189.4 246.1L189.3 244.5L189.7 244.2M196.2 242L195 243.6L194.9 244.6L194.4 247.7L194.8 250.4M201 242.9L202.3 241.8L203.4 240.9L204.1 240.6L206.3 239.5L206.8 239L206.7 237.4L205.7 237L205 235.3M192 231.1L192.7 231.4L195.1 233.1L196 233.9L198.5 234.2L200.3 233.6L202 233.3L202.5 234.1L203.7 235.9L203.9 236.5M198.1 230.3L197.9 231L196.3 233.6L195.7 234.1L195.5 234.8L195.6 235.5L194.4 236.6L194 238.5L191.8 239.4M200.7 250.9L200.9 253.6L199.8 254.7L197.9 253.8L196.8 253.7L195.4 255.5M185.1 239.2L182.8 237.6L181.3 236.2L180.6 236L179.7 236.8L178.9 238.5M186.1 219.8L186.6 221.4L187.2 221.9L188.8 223.4L188.6 224M190.5 236.4L192.9 235L193.1 231.8L193.4 229.8L194.1 229.6M198.3 222.3L195.5 222.9L194.2 221.1L195.8 219L195.3 216.5L194.2 216.4M220.4 258L220.7 257.6L221.9 257.9L222.8 257.6L224.5 256.3M202.3 240.9L204.3 239L207.1 237.6L208.8 238.7L209.5 239.3L212.6 238.4L214.5 237.6M183.3 233.9L185.4 233.2L187.9 232.1L190.6 231.6L191.6 230.1L192.7 228.8L193.7 227.1M190.6 243.3L189.9 244.6L188.1 246.2L187.6 247L186.8 248.7L185.8 250L184.2 250.4M182.1 223.9L182.5 225.3L182.9 227.1L181.5 227.8L181.2 228.7L181.1 230.9L181.8 233.1L184.2 232.8L185 235.1L185 236.8M194.6 242.8L192.6 241.5L192.6 239.2L193.8 236.6L195.1 235.6L195.8 235.5L196.2 236.8L198.6 236.9M192.6 237L190.9 238.2L190 240.6L188.8 242.2L188.9 242.8L187.2 245.4L185 245.7M183.2 222.1L181.7 223.6L180.6 224.1L179.6 222.9L177.6 222.8L177 221.8L175.1 222.6L172.8 224.1L171.7 223.4M190.5 231.3L188.9 230.6L187.6 231.4L187.6 234L188 235.7L187.9 236.9L186 237.5L185.3 236.3L185.6 235.8L187.9 236.6M202.6 245.9L205.2 246L208.2 246.2L210.9 245.9L213.4 246.9L216.4 246.2L217.9 247.3M192.8 244.3L191.3 245L190.7 245.4L188.6 245.3L187.6 243.5L186.7 242.9M185.6 235.4L186.9 233.4L188.1 233.7L190.4 233.7L191.1 233.9L192.1 233.7M175.3 230.4L176 232.5L176.3 233L174.4 235.6L175.3 238.6L175.1 240M207.2 244.4L208.7 244.7L209.2 244.9L208.9 245.9L210.1 248.2L208.1 250.5L205.1 251.5L203.5 249.2L202.8 248.9M182.4 231.5L183.6 231.5L185.6 232.2L188.4 231.6L189.5 230.9L189.8 230.3L191.2 229.8L192.1 231.2L191.6 233.4L191.9 236.4M172.8 215.5L173.4 216.4L172.1 217.7L169.7 216.3L168.5 214.8L166.9 214M206 249.7L207.4 251L207 252.6L205.6 253.1L205.7 254.3L205.1 254.7M180.4 236.3L178.2 238.5L175.5 237.4L175.8 235.5L174.4 234.1L173.2 234.9L171.9 235.9L170.5 235.2L169.6 232.3L170.3 230.6M204.2 244.6L202.4 245.3L199.6 245.5L199.1 245.7L196.6 244.6L196.7 244L195.1 241.4L193.9 241.6L193.3 241M200.5 237.5L200 236.4L200.1 235.7L202.7 234.4L204.3 235.5L205.2 238.5L206 240.1L205.5 242.3L206.2 243.4L205.7 244.9M209.7 243.1L207.9 242.8L207.4 242.6L207 239.5L207.1 237.9L205.4 237.1L204.3 237.7M194.4 237.4L196 235.2L197.3 235.6L198.9 235.8L199.7 238.9M174.9 226.7L172.7 224.5L170.7 225.1L170.3 225.5L170 226.9M195.7 233L197.3 233L199 231.9L200.4 229.9L200.9 226.8L199.6 225.4L199 224.1L199.5 223.4M200.1 229.7L198.2 231.5L197 231.6L195.9 229.8L194.8 228.1L195.7 226.8L194.6 225.5L194.3 222.9M205.6 230.9L205 229.2L202.7 228.2L201 226.3L199.3 225.9L197.6 226L197.3 227.4M185.6 235.9L186.1 234.7L184.5 232.7L183.7 232.2L182.5 229.7L180.9 227.4L181.6 224.6L181.1 221.5L180.7 221.1L178.2 219.7M194.3 244.9L192 246L191.3 247.3L190 249L190.6 250.4M199.8 235.9L200.9 234.8L201.5 232.6L200.9 229.7L199.9 228.4M209.1 255.3L206.8 255.2L206.4 253.2L208.2 251.2L209.4 251.1L210.5 253.6L210.8 255.3M212.7 255.3L212 254.1L211.7 253.5L210 252.7L208 250.5M211.3 257.4L209.2 257.4L207.7 255.9L206.4 254.8L206.7 252.1L205.3 249.5L204.1 249.7L203 252.7L204.7 255.2L204.5 256.7M184.7 225.5L185.8 225.9L185.5 227.8L184.8 229.1L186.3 231.2L188.5 231L189.6 232.3L189.4 234.5L189.1 235.1L187.4 237.4M187.8 222.1L187.8 220.6L188.5 219.8L189 219.6L190.1 219.2M189.2 249.2L188.8 250.5L186.2 250.6L185.6 249.6L184.5 249.6L184.1 247.9L183.5 245L182 244.1M189.9 246.3L192.4 244.4L193.8 243L195.6 242.1L197.4 244L198.2 245.2L199.8 245.7M179.5 232.3L176.6 233.1L174.9 233.9L173.4 234.9L173.2 236.7L174.2 239.4L175.3 240.2L175.6 241.5L176.8 242.6L175.8 244.5M203.5 246.8L204.9 249L204.8 249.5L205.7 250.2L205.5 251.4L205.4 253.2L206.2 254.5M204.1 247L203.2 247.4L201 249.5L199.1 248.8L196.5 249.8L196.6 250.7L194.5 251.9L192.4 250.8M196.2 225.5L196.4 224.9L195.3 224L194.5 224L193 226.7L195.1 229.1L195.6 230.2L198 230.3M182.3 216.8L183.2 216.2L185.8 215.8L188 216.3L188.3 216.9L187.5 217.5L187.1 219.4L186.6 220L185.4 220.8M189.3 234.7L191.3 233.9L192.8 233.4L193 232.9L195.6 231.5L196.9 231.7L199.2 233.4L201.2 235.4L200.4 238.2L200.7 241.1M190.8 234.6L190.5 232.2L190.6 230.3L191.1 227.4L190.3 227L190.4 224.9L192.1 224.4L194 222.8L194.6 221.9L195.7 221.2M200.5 248.4L203 248.9L204.8 246.3L207.7 247.5L208.9 248.9L209.6 249.6L212.1 250.7L213.4 251.3L214 251.3M191.4 220.8L192.4 221L193.6 223.1L193 224.8L193.9 226L194.8 227.1L194.7 228.5M186.9 223.6L187 224.9L185.6 226.2L185.1 228.3L184.3 229.4M198.9 227.8L196.4 226.5L195.5 227.7L194.1 229.3L194.4 230.3L197.1 231.4M212.9 251.6L213.3 251.1L212.8 250.4L212.2 250L211.1 249.6L209.8 249.9L208.6 249.8L207 250.1L205.2 251.8L204.3 252.8M213.5 253.3L214 252.4L215.4 251.9L214.8 248.9L215.9 246.8L217.4 246.7L219.4 246.2L220.3 244.4L221.5 243.5M198.9 227L199.3 225.4L197.2 223.4L195.7 222.4L194.4 222.4L194 222L193.7 221.5L193.8 221M176.2 238.1L177.9 240.8L179.3 240.5L180.7 239L182.7 237.5M195.8 240.9L194.5 241.3L193.6 240.2L191 240L190.2 240L188.6 240L187.8 242.2L185 243.5M198.3 244.1L200 245.4L201.8 245.1L204 245.9L206.3 246.5M205.9 246.4L205.8 245.1L203.2 244L201.6 245.5L201.8 246L202.8 247.3L203 247.8L205.1 248.8M194.2 246.6L195.2 246.3L197.2 248.8L198.9 248L200.1 248.4L200.8 249.9M197.1 236.7L198.7 234.5L197.9 233.6L195.7 234.4L194 235.7L192.9 235.1M199.5 224.7L197.9 224.3L195.6 223.9L193.5 223.5L192.7 225.9L191.8 225.9L190.8 228L189.5 228.2M184.8 218.2L183.4 217.8L181.8 218.5L180.6 217.8L178.4 217.6L175.9 216.9M199.3 245L199.5 243.4L200.7 242.6L203.1 243.6L206 244L207.5 245L207.8 246.1L210.8 246.4M204.2 250.4L204.8 248.9L205.6 247.2L205.2 246.1L205.1 245.1M179.2 223.8L177.9 222.5L176.5 222.1L175.5 220.3L175.7 218.9L176.9 217.4L176.7 215.8L174.2 215.4L172 216.7L170.1 217.7M184.3 226.2L184.7 226.5L185.7 225.8L186.2 226L187.8 226.5L189.2 227.2L190.7 226.5M190.4 241.8L190.8 241.3L191.6 239.8L190.4 238.1L191.3 235.6L193.4 233.4M200.5 229.2L199.1 230.5L198.4 231.4L198.1 233.1L198.7 234L201.6 233.6L202.2 233.2L202.7 233.3M211 238.1L212.7 237L213.9 237.1L214 237.8L211.9 239.2L210.7 240.5L210.6 242.6L210.3 244.4L211.3 245.9L213.1 246.5M191.1 247.3L192.5 247.9L194 247.5L196.7 246.5L197.3 246.2M189.5 228.6L190.6 226.1L189 223.5L189.1 222L189.1 220.6M211.2 259L211.7 260.6L212.2 262.2L212.9 263.2L212.5 266.1L211.9 266.4M195.1 242.5L196.9 244.3L199 244.9L200.6 245.7L201.2 245.4L203.2 243L204.4 242.2M171.6 216.6L173.4 217.6L176 216.9L177.1 215.9L177.4 214L177.3 211.3L176.9 209.7L175.2 209.2L175.5 206.4L176 206.1M189.2 237.7L187 238.8L185.9 238.7L184.5 237.6L184.2 237.1L183.5 235.1L185.1 233.6L187.5 233.2L187.8 231.3L185.4 230.3M181.7 232.9L181.2 233.7L180.4 234.8L180.1 235.7L180.3 238.7L180 239.7L179.4 240.6L179.1 241.3L179.7 242.5M197.2 234.5L197.3 233.5L199.5 233.3L200.9 232.3L202.1 232.3M183.1 233L181.1 233.8L179.4 233.8L178.7 232.7L177.9 232.2L176 233.6M187.7 236.5L188.9 234.4L190.3 234.2L191.2 234L192.7 236.6L193.2 237.2M213.2 251.6L212.8 251.1L211.2 249.5L211.1 248.1L212.8 247.3L214.1 246.7L216.8 245L217.7 244.7M201.6 242.3L202.3 242.3L203.5 242.2L205.5 242.5L206.9 242.8L208.4 242.5M189.2 244L188.3 244.3L188.5 246.2L188.6 248L190.8 249.4L190.6 250.5L190.6 252.2L189.4 253.4M199.8 247.3L200.1 250.2L198.7 250.8L198.1 251.7L198 254.7L196.8 256.2L197.2 256.6M202.1 235.7L202.6 236L204.8 235.4L206.5 234L206.1 232.4L205.1 231.8M201.5 226.8L201.4 225.7L202.1 225.3L201.9 224.6L201.3 222L200.5 221.4L200.5 220.5L199.9 219.9L198.2 217.2L198.2 214.2M203.5 255.6L205.2 253.9L205.1 252L204.2 251.9L202.5 254.5M193.6 221.8L194.1 222L194.5 221.7L195.5 220.2L195.9 219.7M189.3 239.1L189.8 240.1L189.6 241.8L188.9 242.1L189 243.4L191 244.3L191.9 243.6M199 246.6L198.2 245.8L197.3 245.5L195.1 245.1L193.5 243.4L193.9 242.7L194.8 242.1L196.7 243.3L198.3 243.8L199.5 243.4M193.4 236.7L193 235.7L192.2 235.9L191.9 238.6L193.7 239.5M213.1 247.3L211.4 247.6L211.2 248.8L211.6 249.1L212.4 248.5L213.7 248.3L215.4 247.4M195.2 227.3L194.6 229L193 229.8L192.2 229L191 226.1L191.4 224.8L192.6 222.5L192.5 221.7M205.5 241L207.4 242.8L207.5 243.6L208.2 244.5L208.1 245.4L205.5 246.6M205.7 261.6L208.6 261.2L209 261.8L209.7 263.4L210.9 264.7M206.5 236.5L208.2 236.7L208.4 237.7L210.6 239.4L213.6 240.2L213.9 241.3M180.4 232.1L178.7 232.4L178.6 235.3L180.6 236.1L181.2 235.9L184.3 236.4L185.8 236.5L188.9 237L190 237.2L191.2 237.1M180.3 232.2L179.9 231.6L178 231.6L176.4 233.9L177.2 235L177.9 235.8L177.2 237.5L177.1 238.1M188.2 243.6L188.7 243.4L189.5 240.8L188.5 239.9L186.7 240.7L185.2 239.7L183.6 238.2M182.9 225.6L182.4 225.5L180.3 226.2L179.3 226.3L177.3 226.4L176.8 227L173.8 226.9L171.7 224.9M199.6 252.6L199 252.9L196.5 251.3L195.3 251L193.5 250.9L193 251M221.2 247.1L221.1 247.7L221.2 249.4L219.8 251.6L217.4 253.1L216.3 254.3L217.1 256.4L216.5 258.5M200.8 236.5L199 238.8L199.2 239.4L199.1 240.8L199.5 241.8L200.7 244.5L200.5 245.3L199.6 246.3L198.9 248.9L196.9 250.6M220.5 251.3L220.3 250.1L219.3 247.4L220.2 246.1L220.2 245.6M221.2 248.3L223.4 250.4L224.3 251L226.8 249.8L227.1 247.8L224.8 245.6L226.5 242.9L229 241.2L231.4 240.2L234.5 241M205.6 228.8L205.3 228.2L204 227.6L203.4 227.5L202 227.5L200.1 227.7L198.2 228.2L196.6 229.2L195.8 229.7L193.5 228.1M195.3 245.6L192.5 246L189.8 247.2L190.1 249.8L189.8 251.1L188.2 253.8M193.3 250.2L193.6 248.6L190.8 247.4L187.8 247.6L185.8 245.5L184.5 243.9L183.5 242.7L181.9 241.4L180.5 242.2M209.1 234.1L209.5 234.6L209.9 235L211.7 234.7L212.2 232.7L212.9 229.7L212.7 227.9M194.3 240.1L195.2 240.2L195.8 239L195.9 236.1L195.5 235.5L196.3 234.1L198.2 233.7L199.3 235.5L202.1 236.3M195.5 238.2L194.8 239.9L194 241.1L194.4 241.5L195.1 244.5L196.9 245M206.9 231.2L207.1 230.3L206.7 227.9L206.8 227.2L208 226.9M206.3 250.9L203.6 252.2L202.4 250.8L201.4 248.4L198.9 246.3L199.5 245L199 244.6L197.7 244.3L196.1 243.5M186 229.9L183.4 229.1L181.1 229.9L179.2 227.5L179.4 226.8L179.9 225.3L180.1 223.4L179.4 221.1M200.1 246.4L198.7 247.1L196.3 247.5L194.6 247.4L194.3 247.8L194.6 250.9L192.3 252.5L191.4 251.9L189.1 251M208.7 243.6L207 245L207.9 247L208.7 247.6L207.9 249.9L206.8 250.6L206.6 251.2L206.5 252.1M191.7 215L192.6 214.6L195.5 213.9L197.4 214.9L198.3 216.5L200.3 217L202.1 217.2L202.6 220.2L204.7 220.9M185.7 209.7L185.8 212.8L187.8 214.7L188.7 214.7L190.9 214.9L193.4 216.1M199.5 242.5L200.9 241.3L200 239.7L201 238.5L202.3 238L203.7 235.5L203.8 234.1L204.5 231.3L204.4 229.9L205.8 229.2M205.7 240.6L206.7 241.3L206.6 242L207.3 243.5L207.1 246.1L207.9 248.5M190.9 229L190.4 232L188.7 234.4L186.3 234.1L184 235L182.2 236.5L180.7 238.6M189.9 232.6L188.9 235.5L187.8 236.4L185.6 238.3L185.2 238.6L183.1 236.9L180.6 236M208.8 252.2L208.7 254.2L209.7 254.5L211 255.5L211.5 256M192.4 229.3L193.9 228.6L194.8 226.1L197 225.3L199.6 225.9L199.8 226.5M197.9 231.5L199.6 229.9L201.6 230.4L202.9 232.4L203.4 232.4L205.1 233.1L206 234.3L206.4 237.1L207.7 237.7M190.2 230.5L188.4 230.9L187.8 233.2L187.8 234.1L187 237.2L186.8 240.1L189.9 240.9L191 240L193.6 240.7M191.3 237.9L192 240.1L191.8 241.4L193 242.3L193.9 241.7L195.6 243L197.1 244.1L198 245.6L199.1 246.4L198.9 248.5M195.1 231.6L196 234L197.6 233.9L197.9 234.4L200.6 235.9L200.9 236.4L198.8 238.2L197.5 238.4L195.9 236.2M203.8 248.5L202.5 248.1L202 247.4L201.3 247.2L200.9 246.8L197.8 247.5L195.3 246.6L193.9 247.6L192.8 248.8L192 249.1M179 245.1L181.1 243L180.6 241.2L181.8 240.6L182.6 241L183 242.3L185.5 244.1L185.8 244.5L187.1 246.7L187.7 248.6M195.8 238.9L194.3 238.2L193.9 236.3L196.6 235.3L197.2 235.2L198.3 236L199 236.7L201.7 236.3L202.3 237.6M198.9 241.5L200.6 241.1L201.7 241.9L202.7 243.6L201.6 244.9L199.1 246.8L199 247.7L197.1 248.8L196.1 248.3M186.3 235.4L185.2 237.1L186.4 238.9L188.4 241.3L189.7 242.4L189.7 243.4L189.2 243.7L189.4 245.5M196 226.9L197.3 228.8L198.5 229.9L200.5 228.8L201.1 226.8L198.7 225.2L199.5 223.5L201.4 222.5L201.9 221.2L203.6 221.2M186.5 221L187.3 221L189.8 221.8L190.9 222L193.6 220.4L195.4 218.2L195.3 216.3L194.6 215.9L194.5 214.5M194.4 221L196.8 219.5L197.3 220L198.1 221.2L198.6 221.2L199.2 219.5M201.8 233.4L203.4 233.8L206.1 233.4L206.6 234.5L207 237.3L205.5 238.8L202.9 240.5M209.2 254.4L208.2 252.8L206.8 252L207.2 249.4L206.3 247.6L206 246.3L206 244.7M191.1 244.8L188.6 242.9L189.1 241.7L190.6 241.8L190.8 243M202.3 260.2L202.4 259.4L199.6 258L198.5 255.5L198.2 253.2L198 250.1L197.7 249.6M186.9 223.6L186.7 221.8L188.3 219.1L190.4 218.8L190.9 219.4M190.4 239.6L189.9 242.3L188.7 243.7L186.1 244.6L185.9 247.6L186.6 249.4L189 249.7L191.1 247.6L191.9 247.7L192.3 250.4M181.7 233.5L178.6 234.1L176.7 236.5L177.5 238.4L178.4 239.3L180.5 239.2M194 241.1L194.9 239.2L193.6 237L190.7 235.8L191.3 233L190.1 232.4M187.6 219.2L187.7 217.8L189.2 217.1L190.1 216L189.4 214.5M206.6 241.2L204.7 241.7L202.1 240.4L201.1 240.4L199.7 242.3L197.3 243.7L196 245.2L196.6 247.2M205.3 239.5L205.3 240.1L206.7 240.6L207.2 241.2L208.5 242.4L207.9 245M195.8 229.4L195.8 226.2L196.3 225.5L195.4 223.8L196.2 221.7L195.6 221.2L194 218.9M215.9 244.1L213.6 242.7L212.4 242.9L210 243.8L208.9 243.3L208.8 241.3L209 240.4L207.5 237.7M204 236.1L202.7 236L200.2 237.5L197.2 236.9L197.2 236L197 234.6L199 233.3L200.9 234.2L201.8 234.7L202.3 235.3M202.9 243.7L205.1 242.7L207.2 243.5L209.2 242.5L210.2 241.9L210.7 239.4L210 237.6L208.4 236.5M190.1 238.9L189.2 240.4L187.1 241L186 239.2L186.3 237.7M186.8 239.7L189.1 238.3L189.8 235.3L188.2 233.3L186.8 231.2L184.1 229.9L181.8 229.3M205.8 237.4L206.2 235.2L207.7 235L207.8 234.4L208.3 233.7M203.6 248L204.2 246.6L206.2 245.1L206 242L206.3 241.1L207.6 239.4L210 239.4M197.9 227.9L200.8 227.9L201.3 226.7L203.1 225.4L203.6 223.4L204.6 223.3L206.4 223L207.2 224.3M188.1 245.7L189.9 246.4L192.1 245.2L192.3 243.3L192.9 241L195.9 240M191.8 218.5L190.7 215.9L189.4 214.4L188.1 213.7L187.6 211.3L186.9 210.4L185 209.4L184.5 209L184.3 207.4M192.2 229.5L191.2 230.4L188.6 231.8L188 231.4L187.1 231.3L185.8 231.4L185.3 234.4L185.1 236.9M186.5 233.3L185.7 233.7L183.9 231.6L181.8 232L179.9 232.2L177.6 232.6M178.5 221.6L179.3 218.9L179.6 218.3L178.2 216.2L180.2 213.8L180.8 212.7L180.6 212.1L178.8 211M202 242.2L203.5 244.4L203 246L202.5 246.8L199.8 245.9L198.7 247.7L197.8 248.1L197.8 250.7L200.1 252.4L199.6 254.2M198.3 238.2L198.9 237.1L201.3 236.9L203 236.4L204.6 235.8M210.9 236.8L211.6 237.5L212.9 236.6L213.1 235.6L214.2 234.5L216.8 234.4L218.5 235.3L220.5 237.3L219.3 239.7L220 241.4M188.3 238.7L189.2 236.6L191.6 236.6L192.9 234.6L193.7 232.8L193.4 231.6M204.8 247L205 246.2L203.8 245.5L202.5 246.4L201.4 246.1M181.7 219.9L179.3 220L178.1 217.2L176.9 214.8L176.8 212.8L176.3 212.6L174.5 210.7M190.3 233L188.6 235.3L187.6 237.3L186 237.4L183.8 235.9L181.6 236.3M204.9 231.8L204.8 229.9L203.9 226.8L203.3 226.9L202 226.3L200.1 228.5L199.1 229L197 227.4L196.6 226.9L196.5 226.4M191.5 262.7L191.3 263.7L189.8 263.9L186.8 263L186.7 262.5L184.9 261.7L183.6 260.7L182.7 259.5L184.8 257.1L184.9 255M192.9 248.3L193 247.7L194.3 247.3L195.8 245L196.9 243.6M202.3 242L203.4 241.1L204.5 241.3L206.9 242.6L208.1 244.6L209.6 246M183 233.6L183.4 232L183.9 231.9L186.9 232.8L187.6 232.3L187.2 229.6L187.3 227.7M194.8 236.9L194.9 236L197.1 235.8L199.6 237.5L202.1 236.4L203.4 234.6L203.9 231.8L205 230.1L207.9 228.8M182.8 234.9L182.7 237L185.5 238.6L188.2 239.6L189.1 239L189.8 237.6L190.9 237.5L191.4 237.6L191.8 239.4L192.4 241.9M199.9 233.1L198.9 231.3L198.1 230.8L196.2 230.8L195.1 230.5L192.3 231L191.8 232.2L190 234L190.1 235.1L190.9 235.2M186.6 235L187.3 237.6L187.3 238.2L189.1 239.4L189 240.8L189.5 242.3L188.3 243L187.9 243.8M204.8 246L204.4 246.8L203.6 246.7L202.3 248.5L200.7 251.2M211.9 250.3L211.3 248.7L209.7 246.9L210.2 245.9L211.3 244.9L211.7 242.8M206.2 240L208 241.4L207.7 242.8L207.4 244.5L206.7 247.6L208.5 250L209.3 250L211.8 249.9L214.3 248.2L217.3 247.7M204.5 247.5L205.3 246.8L205.3 244.8L206 244.6L206.7 244.9L207.8 246.6L209.9 246.5L211.9 246.5M199 239.9L199.7 241.2L200.3 242L201.6 242.7L203.2 242.1M193.7 231.8L194.2 231.6L196.7 230.8L197.7 230.7L198.1 231.4M184.3 221.6L183.7 221.1L183 221.3L181.2 220.5L178.6 219.2L177.4 219.3L174.3 219.3L173.3 220.5L171.1 221.5L169.7 223.6M203.9 251.1L204.9 251.5L206.2 252.5L207.2 253.8L207.1 254.5L206.8 256.3L204.5 258.2M201 237.8L201.3 236.6L203.2 236.2L204.8 236.4L206.2 233.7M184.2 231.7L184.4 231.1L186.6 231.2L189.7 231.2L190.1 230.1L191.2 228L193.1 225.8L193.2 224.6L195 222.1M174.9 227.2L174.3 226.8L173.5 225L171.7 222.5L170.8 222.7L170.6 222.2M227.4 260.6L227.8 260L228.8 260.1L230.1 261L230 263.4L228.5 264.8M206 239.8L204 237.8L204 236.6L205.1 236.2L206.8 237.9M192.4 238.2L191.5 239.8L191.9 240.1L192.4 240.4L192.3 241.3L191.5 242.5M213 241.1L211.8 239.8L211.6 239.3L210.8 238L210.4 236.6L207.8 236L207.7 234.9L209.1 232.9M184.6 223L184.8 222.2L184.4 221.5L185.1 220.8L184.5 218.7L185.3 217L184.4 215.4L183.9 214.8L181.2 213.8L180 215.5M190 227.3L191.4 225L192.3 224.8L192.4 222.5L191.6 221.7L189.4 219.8L188.6 217.5L187.6 217L185.1 218.7L184 218.6M193.1 242.6L191.5 242.1L190.9 240.7L189.3 240.9L186.7 239.6L185.6 240.3M208.6 238.5L208.6 236.9L209.9 235.1L210.6 235.4L211.8 233.1L212.4 232.9L214.7 234.1L214.1 236.4L213.5 238L211.7 239.8M192.3 225L193.9 224.7L195.7 226.2L194.7 228.4L194.1 228.3M195.6 244.3L196 241.5L194.1 240.6L194.6 238.1L194.7 236.9L196.2 234.4M193.7 231.3L193.2 231.3L190.7 232.4L188.2 230.5L187 230.2L185.6 229.3L184.8 226.3L182.1 226.5L180.9 224M201.6 257.9L200.8 258L199.5 259.9L197.8 261.8L197.2 263.4L197.5 264L196.8 264.9M183.5 232.7L184.7 232.3L186.5 232L189 232.8L190.5 230.9L191 229.7L192.6 228.3M204.9 250.1L205.7 249.9L206 249.4L205.8 248.9L205.3 248L204.4 246.9M180.5 220.1L183.4 220.2L184.1 219L183.1 217.5L180.2 218.7L178.7 220.1M218.2 255.2L219.4 255.3L220.3 253.6L219.4 251.7L219 250.8L216.9 248.5L217.1 247.2L216.5 245.7M193.9 226.6L194 224.7L194.7 223.1L195.9 222.9L198.4 222.4M193.6 231.4L192.7 232.5L191.6 232.7L190.3 232L187.9 230.7L186.5 232.5L185.7 233.8M198.1 217.4L198.2 219.8L197.1 221.4L194.8 222.1L192.3 223.9L192.2 225L192.8 227.6M194.6 231.1L195 228.8L194.3 226.8L194.6 225.4L195.6 223.1L196.4 222.2M189.4 238.7L189.8 239.1L191.2 238.5L190.9 236L191.9 235.5M205 231.7L203 231.2L202.8 229.4L203.8 226.8L204.5 224.9L203.9 224.1L201.2 224.3L200.1 225.3L199.8 227M210.9 235L211.1 237.3L209.5 239.5L208.3 239.6L207.9 238.7L208 237.6M191.5 240.4L192.4 238.7L194.3 237.5L195.7 234.8L196 233L193.7 231L192.9 229.7L192.9 227.6M197.9 242.3L198.4 243.5L197.4 245.3L196.4 245.2L195.6 245.7L194.5 245.3M203.3 245.5L205.5 244.2L206.1 243.3L206.5 241.7L208.4 239.3L210.1 238L209.5 236.7L207.4 234.6L205.7 233.8L206.2 230.7M206.2 236.5L207.1 236.2L209.9 237.1L213 237.7L213.6 238.8L212.8 239.6L212.5 240.2L211.4 241.1M198.1 233.8L199.2 235.1L201.1 235.4L201.9 233.4L204.2 231.8L206.1 231.8L208.3 231.5L209.4 233.7M180.6 227.4L180.5 225.7L178.9 224.9L178.3 222.5L180.8 220.6L181.9 220.2L183.5 219.7L184.7 221L185.8 222.6L187.7 222.2M199 240.8L197.4 240.4L194.4 239.6L193 240.9L191.9 241.9L189.9 243.6L187.7 245.2L185.7 245.3L185.5 244.7M181.3 225.4L182.8 225.6L184.7 224.8L185.3 225L185.4 225.7M217.1 261L217.6 259.9L219 259.3L219.5 256.4L222.3 255.9M206.8 249.5L207.6 251.1L209.8 252.8L211 253.2L210.9 254.1L211.8 254.8L214.5 254.6M190.2 222.7L190.9 222.8L191.3 225.5L192.4 228.2L193.3 228L195.3 230.3L196.6 230.4L199.2 231.2L200.2 231.8L202.7 230.3M198.2 238.1L195.8 236.9L194 238.6L193.1 238.7L192 239.4L189.6 239.4L188.6 239.9L186.8 240.3L185.9 238.8M214.5 246.3L216.1 247.8L217.8 247.7L220.3 246.5L223.5 246.8L224.1 248.7L226.1 248.5L226.6 248.6L227.4 249.1L229.5 251.2M202.9 245.5L201.9 247.5L200.7 250.2L199 252.3L196.7 253.2L196.4 253.8L195.4 254.4L194.1 252.9L191.9 252.2L190.8 251.1M206.1 233.6L205 235.5L206.2 237.3L206.9 238.2L207 238.8L205.9 239.6L206.1 242.5L205.5 244.6L204.5 245.4M221.5 253.7L223.1 255.1L223.2 257.6L222.9 259.6L224.7 261.8L225.4 261.9L228 262.4M173 208.5L172.9 209L173.3 210.9L172.9 213.3L173.7 215.7L171.8 217L169.4 216.7L167.9 216.8L165.9 216.4M199.1 241.3L199.2 241.8L200.3 241.7L201.3 241.5L203.5 241.4L203.8 241.9L204 243.2L206.7 243.3M214 245L212.6 243.2L210.7 240.8L211.7 239.1L214.3 239L215.4 238.5L216.5 237.4L217.8 237.7M182.1 230.9L182.1 229.5L181.3 227L181.5 224.4L181.4 223.8L182.6 223L185.2 224M196.5 236.1L198 236.6L200.3 235.8L201 236.1L202 234.6L202.2 232.3L201.1 229.9L198 229.4M170.1 218.9L171.7 218.6L174.1 218.8L176.6 219.7L178.2 220.9L177.1 223.2M183.1 226.5L183.8 225.8L183.9 225.2L183.2 223.2L181.9 221.1L180.7 220.3L180 220.9L178.8 223.5M209.9 258.1L209.2 260.2L207.9 262.3L206.7 264.2L203.8 263.4L202.5 264.6L201.6 264.8L200.6 265.5M191.4 234.4L190.4 235.6L190.4 237.6L191 238.5L192.4 240.8L193.1 241L194.5 238.9L192.5 236.6L192.4 235.7L190.7 235.6M207.4 245.1L206.7 246.4L206.9 247.5L206.4 248.3L205.4 250.7L204.7 250.8L204 252.3L203.6 254.8L205.1 257.4L206.9 256.7M180.1 236.6L179.9 234.7L180.4 234L181 233.9L181.9 234M197.6 241.6L197.1 243.9L198.3 246.1L200.4 246L201.4 245.5L202.4 245.4L203.7 245.8M194.4 224.5L196.1 223.6L196.7 224L196.8 224.8L195.7 226L195.9 228.6L198.8 229.9L200.4 230.5L203.1 231.1L203.9 232.6M202.8 232.5L202.8 231.7L203.9 230.2L204.2 228.8L203.5 228.4L201.9 228.8L200.3 228.1L197.9 227.8L197.9 227.2L196.5 226.7M191.6 224L189.3 225.3L188.7 226.6L189.4 228.7L189.7 229.1L190.7 230.5L191.8 230.3L193.9 230.2M199.8 234.7L202.4 234L204.4 235.4L205.1 237.3L207.3 238.2L207.9 238.8L207.5 241.8M186.3 236L187 236.6L188.7 236.9L190.8 238.6L191.5 238.2L194.3 238.7L195 238.6L196.6 236.6L197.8 236L198.6 235.5M205.1 245.5L205.5 246.3L204.1 248L204.1 251.2L203.9 252.9L204.5 254.9L205 257.3L203.7 258.4L202.3 257.8L200.4 257.6M184.6 230.3L184.8 231.2L186.4 231.9L185.8 234.2L185.1 237L183 237.8L180.3 239.2M204.5 243.4L202 242.3L201.2 241.6L200.5 240.8L200.5 239L200.1 237.5L199.8 236.3L200.3 235.8L200.1 233.6M212.9 249.1L212 249L211.8 248.2L212.1 247L209.6 245.8M188.8 237.9L190.3 238.8L192.6 239.3L193.5 239.5L194.1 239L192.9 236.9M213.6 245.3L211.7 246.6L211.2 247.3L210.4 247L208.8 247M204.1 240.6L206 241.5L208.5 240.6L209 237.6L207.9 235.1L207.2 234.9M212.2 240.8L211.6 240.8L211.1 241.4L208.2 241L206 239.9L205.1 238.6L204.7 236.1L203.4 234.5L204.9 231.6L206.9 231M186.9 241.5L188.3 240.5L190 239.6L190.5 239L191.2 237.6L191.9 236.6L194.9 235.9M177.9 224.8L178 226.3L179.3 227L181.1 225.9L182.1 226.4L184.8 226.5L185.3 226.8L185.4 227.4L185.1 228.1L184.6 231.1M193.3 244.3L192.9 246.1L192.9 246.8L191.9 247.7L192 248.6M202 240.6L203.6 240.9L205.3 239.7L205.4 237.3L205.8 236.8L207.9 235M212.6 248.9L212.9 246.3L213.5 246L215.8 244.6L217.8 245.7L218.4 246.1L220.8 245.5L221.3 244.6L221.6 241.8M192.6 231.5L191.8 231.2L190.5 230.2L189 231.2L187.1 231.9L184.4 230.9L181.4 231.4L180.9 230.2M204.4 237.8L203.9 238.5L204.2 239.9L205 241.3L204.2 243.1L205.4 245.9L205.1 248.5L205.2 249.7L205.2 251.2M191.6 231.6L194.2 231.6L194.9 231.9L196.4 231.6L197.1 233.5M172.1 226.1L171.6 225.1L169.8 223.7L167.9 222.4L167.6 220.5L166.3 218.9M205 232.3L205.5 233.9L205.4 234.7L202.5 234.9L201.8 235.2L199.6 234.1L197.4 234.8L196.1 235L194.6 232.3M189.9 240.7L188.4 242.8L188.8 245.3L190.7 246.4L190.9 248.4L191.8 250.7M205.2 238.4L203.1 238.2L202.3 241L200 242.4L197 242.3L196.1 244.8M196.3 245.3L194.8 245.2L194 244.9L193.2 245.1L192 245.2M188.5 243.9L189 241.6L190.6 241.3L191.6 241.3L193.7 243.3L194.4 243.7L195.1 244.7L195.5 245.7M185.9 213.1L186.8 213.3L186.8 215L186.3 217.8L186.8 218.1L188 217.8L188.6 216.1L189.4 213.9L191 212.8M179.7 224.9L179.4 227.9L177.3 229.5L178.1 231.8L178.6 233.3L180.3 233.9L181.2 234.7L183.3 234.5L184.8 236M199.2 219.4L200.7 219.1L202.2 219.2L203.4 218.9L203.5 217.4L201.4 215.7L199.5 215.2L199 215.3M219.6 265.1L217.4 263.5L216.9 263.7L216.1 263.9L215.6 264.9L216.8 267.1M184.1 246.7L185.3 249.2L186.8 249.5L187.8 249.5L189.3 248.4L188.8 245.8M213.1 255.6L213.6 257.4L215 258.5L215.2 259.1L213.5 260.3L212.5 260.6L211.1 257.8L210.9 257.3L209.2 257.6M222.8 250.6L222 250.1L220.6 248.2L219.8 246.3L218.2 246.1L216.4 247.2L214.9 247.7L212 247M197.5 233.2L199.1 232.4L200.7 231.8L202 231.9L202.8 231.8M201.5 245.5L199.7 245.6L197.6 245.1L196.7 246.2L197.5 247.8L196.4 250.7L196.7 252.4L198.2 253M219.2 252.5L218.4 252.8L216.8 253.3L216.6 253.8L215.3 255L214.4 254.6L212.7 253.6M192 238.2L190.8 236.6L191.2 235.9L193.1 234.8L195.6 235.2L196.2 237.7L196.8 238L199.7 238.7L201.1 238.5L203.5 239.5M209.8 255.7L209.8 257.1L212.1 259L214.2 257.4L215.4 256.4L216.2 256.9L216.5 258.6L219.4 259.3L220.1 260.3M195.2 235.9L195 237L194.8 240.1L192.4 241.1L190.4 238.8L189.8 238.8M204.4 252L204.3 253.1L201.2 253.9L200.6 252.7L201.5 250.9L200.5 249.6L199.6 248L199.9 246.3L200.7 243.6L201.1 242.8M199.2 243.4L201.3 243.1L201.6 243.5L201.1 244.5L201.7 246L201.7 249L202.4 249.7M197.2 240.4L196 242.5L195.7 243.8L196.2 244.7L194.4 246.4L193.5 247.3L191.9 250M191.8 242.4L191.9 239.8L191.4 239.4L189.8 239.3L188 237.4L186.8 237.3L185.9 236.4L185.7 234.8L184.9 234.1M205.7 248.5L207 247.9L209 247.7L210.2 245.9L211.2 244.9M197.8 243.7L199.1 242.6L200 242.9L200.9 243.3L203.4 242L203.8 240.8L205.5 239.4L207.1 239.5M188.1 239.1L188.8 239.8L188.9 241.4L188.9 242L187.9 242.8L188.6 244.8L188.6 247.7L189.6 249.7M208.7 237.6L209 238.7L211.5 238.6L212.6 240.4L215.2 240.9L215.8 239.2L216.4 239.1L218 239.3M203 252.7L201.9 252.1L200.2 249.5L200.6 248.1L199.2 246.4M189 233.6L191.4 234.2L192.3 234.2L193.5 234.4L194 235L195.8 234.8L197.3 234.3L199.8 234.8M188.3 242.1L187.9 243L188.3 245.2L187.4 246.6L186.2 246.2M189.9 233.2L187.6 233.5L187 234.2L185.2 234.6L184.5 235.2L184.8 236.5L183.9 239.2L183.5 240.1L184 241M204.5 237.7L203.1 237.9L202.3 236.8L202.7 236.3L203.3 233.4L204.6 232.2L205.3 231.9L205.6 231.2L207.6 229L208.7 228.8M194 240.3L194.5 238.4L194 237.3L192.7 236.2L189.8 236.3L188.7 235.8L188.7 234.9L190.9 232.7L191.9 231.4M198.2 234.8L199.7 235.9L200.5 237.4L199.7 238.9L197.7 239.6L196.5 237.8L195 235.3L195.2 233.8L195.4 233.2M201.8 240.4L202.4 240.3L202.7 239.7L204.7 239.2L207.4 240.4L209 240.6L211.8 240.1L212.9 242.7L212.9 243.4M207 239L207.4 238.2L206.2 236L205.9 235.4L203.1 234L202.4 231.3L201.1 229.9M195.6 232.4L194.3 233.5L192.4 233.2L192.1 234.1L192.3 237L191.9 237.6L192.2 238.9L192.2 241.3L191.8 243.3L192.6 246.1M218.2 256.3L218 254.8L216.9 252.7L216.2 251.9L216.9 250L219.2 247.8L220.7 248.4L221.3 249.5L222.5 251.7L222.6 252.7M199 239L199 237.9L201.7 237.4L202.6 238.1L202 240.9" stroke="#0d0a22" stroke-width="0.33" fill="none" stroke-linejoin="round"/>
<path d="M201.7 240.3L200.3 240.7L198.5 241.1M193.5 231.8L193.8 232.2L194.6 233L195.2 233.7M191.6 233.1L193.3 233.2L194 233.3L195.7 233.2M202.2 242.7L201.3 242.9L200.4 243L199.7 243M193.1 234.8L193.3 234L193.5 233.5M188.5 230.9L188.3 232.6L188.1 233.6M197.7 236.7L196.4 236.8L194.6 237M194.2 236.5L195.2 236.3L196.8 235.8M190 230.5L189 229L188.4 227.5M193.2 236.8L193.7 236.3L194.3 235.7M190.2 231.2L191.2 230.5L192.4 229.4M203.9 245.3L203.7 246.3L203.5 247.1M190.4 232.1L190.8 231.6L191.4 231.1M200.9 241.3L201.5 241.7L202.3 242.5L203 243.1" stroke="#d0202c" stroke-width="0.45" fill="none" stroke-linejoin="round"/>
<polyline points="205,222 206.24,222.14 206.68,221.28 207.54,221.09 208.99,221.3 210.95,220.33 212.07,218.53 211.69,218.1 213.23,218.53 215.77,217.96 216.14,218.24 216.41,217.96 216.74,215.19 219.61,214.84 220.14,214.42 221.47,211.58 221.5,211.94 223.17,210.74 223.5,208.44 223.32,207.87 225.8,205.67 227.54,203.11 226.87,200.5 227.77,198 229.17,196.79 230.61,196.17 232.71,195.05" stroke="#241a55" stroke-width="0.4" fill="none"/>
<polyline points="212,226 212.46,224.44 213.19,224.06 213.97,222.76 213.47,222.16 215.45,223.04 216.21,223.11 216.92,222.34 218.45,222.58 220.21,223.14 222.84,223.35 224.36,222.7 225.67,222.3 226.56,222.57 226.72,220.92 228.59,220.9 227.8,220.58 229.83,219.5 230.52,219.38 231.26,217.85 232.52,216.15 233.09,216.96 233.64,215.73" stroke="#241a55" stroke-width="0.4" fill="none"/>
<polyline points="203,108 201.49,107.1 202.11,106.51 202.21,106.21 201.44,103.92 201.26,101.89 200.25,101.66 200.39,99.69 199.33,99.53 199.53,99 199.37,96.67 198.49,96.51 198.12,94.98" stroke="#241a55" stroke-width="0.4" fill="none"/>
<polyline points="215,224 216.2,223.32 215.57,222.51 215.83,221.63 216.91,220.89 217.09,219.98 218.16,219.55 218.46,217.49 219.25,216.14 220.55,214.96 220.54,214.28 220.11,212.65 219.31,210.22 218.86,208.06 219.14,206.3" stroke="#241a55" stroke-width="0.4" fill="none"/>
<circle cx="146" cy="40.5" r="6.65" fill="#fff" stroke="#2f1c82" stroke-width="1.5"/>
<path d="M142.8 39.1L149.1 41.6M146.7 37.3L144.8 43.4" stroke="#2f1c82" stroke-width="1.5" fill="none"/>
<circle cx="500.7" cy="161.7" r="7.0" fill="#fff" stroke="#2f1c82" stroke-width="1.4"/>
<circle cx="500.7" cy="161.7" r="2.6" fill="#2f1c82"/>
<text x="494.2" y="151.9" font-size="8.4" textLength="8.7" lengthAdjust="spacingAndGlyphs" fill="#000">2T</text>
<g fill="#5a5230" stroke="#5a5230" stroke-width="1.35" stroke-linejoin="round" transform="translate(0.25,0.3)"><text id="lb1" x="10.2" y="199.6" textLength="48.8" lengthAdjust="spacingAndGlyphs" font-size="15.9" font-weight="700">Silicon</text></g>
<use href="#lb1" fill="#f6e9a0" stroke="#f6e9a0" stroke-width="0.25"/>
<g fill="#5a5230" stroke="#5a5230" stroke-width="1.35" stroke-linejoin="round" transform="translate(0.25,0.3)"><text id="lb2" x="8.2" y="219.4" textLength="53.8" lengthAdjust="spacingAndGlyphs" font-size="15.9" font-weight="700">Tracker</text></g>
<use href="#lb2" fill="#f6e9a0" stroke="#f6e9a0" stroke-width="0.25"/>
<g fill="#3f4d3f" stroke="#3f4d3f" stroke-width="1.35" stroke-linejoin="round" transform="translate(0.25,0.3)"><text id="lb3" x="1.9" y="251.6" textLength="122.7" lengthAdjust="spacingAndGlyphs" font-size="15.9" font-weight="700">Electromagnetic</text></g>
<use href="#lb3" fill="#bfe0ba" stroke="#bfe0ba" stroke-width="0.25"/>
<g fill="#3f4d3f" stroke="#3f4d3f" stroke-width="1.35" stroke-linejoin="round" transform="translate(0.25,0.3)"><text id="lb4" x="19.3" y="271.9" textLength="87.7" lengthAdjust="spacingAndGlyphs" font-size="15.9" font-weight="700">Calorimeter</text></g>
<use href="#lb4" fill="#bfe0ba" stroke="#bfe0ba" stroke-width="0.25"/>
<g fill="#5e4e16" stroke="#5e4e16" stroke-width="1.35" stroke-linejoin="round" transform="translate(0.25,0.3)"><text id="lb5" x="121" y="295.6" textLength="54.7" lengthAdjust="spacingAndGlyphs" font-size="15.9" font-weight="700">Hadron</text></g>
<use href="#lb5" fill="#f9de58" stroke="#f9de58" stroke-width="0.25"/>
<g fill="#5e4e16" stroke="#5e4e16" stroke-width="1.35" stroke-linejoin="round" transform="translate(0.25,0.3)"><text id="lb6" x="103.6" y="315.9" textLength="88.8" lengthAdjust="spacingAndGlyphs" font-size="15.9" font-weight="700">Calorimeter</text></g>
<use href="#lb6" fill="#f9de58" stroke="#f9de58" stroke-width="0.25"/>
<g fill="#36436a" stroke="#36436a" stroke-width="1.35" stroke-linejoin="round" transform="translate(0.25,0.3)"><text id="lb7" x="208.6" y="314.6" textLength="129.4" lengthAdjust="spacingAndGlyphs" font-size="15.9" font-weight="700">Superconducting</text></g>
<use href="#lb7" fill="#adc7e9" stroke="#adc7e9" stroke-width="0.25"/>
<g fill="#36436a" stroke="#36436a" stroke-width="1.35" stroke-linejoin="round" transform="translate(0.25,0.3)"><text id="lb8" x="239.6" y="334.9" textLength="66.1" lengthAdjust="spacingAndGlyphs" font-size="15.9" font-weight="700">Solenoid</text></g>
<use href="#lb8" fill="#adc7e9" stroke="#adc7e9" stroke-width="0.25"/>
<g fill="#333333" stroke="#333333" stroke-width="1.35" stroke-linejoin="round" transform="translate(0.25,0.3)"><text id="lb9" x="346.8" y="331.8" textLength="220.2" lengthAdjust="spacingAndGlyphs" font-size="15.9" font-weight="700">Iron return yoke interspersed</text></g>
<use href="#lb9" fill="#ffffff" stroke="#ffffff" stroke-width="0.25"/>
<g fill="#333333" stroke="#333333" stroke-width="1.35" stroke-linejoin="round" transform="translate(0.25,0.3)"><text id="lb10" x="376.7" y="350.8" textLength="158.6" lengthAdjust="spacingAndGlyphs" font-size="15.9" font-weight="700">with muon chambers</text></g>
<use href="#lb10" fill="#ffffff" stroke="#ffffff" stroke-width="0.25"/>
<g stroke-width="3.3" stroke-linecap="round" fill="none">
<line x1="24.8" y1="393.5" x2="61.5" y2="393.5" stroke="#4fbcec"/>
<line x1="184.1" y1="392.7" x2="220.8" y2="392.7" stroke="#e5202c"/>
<line x1="343.8" y1="396" x2="380.4" y2="396" stroke="#1d9e40"/>
<line x1="23.5" y1="425.6" x2="59.6" y2="425.6" stroke="#1d9e40" stroke-dasharray="5.9 6.1"/>
<line x1="343.9" y1="426.4" x2="380.4" y2="426.4" stroke="#1a6fc0" stroke-dasharray="2.8 5.4"/>
</g>
<text x="67" y="397.3" textLength="42.1" lengthAdjust="spacingAndGlyphs" font-size="15.9" font-weight="700" fill="#000" stroke="#000" stroke-width="0.3">Muon</text>
<text x="226.3" y="396.7" textLength="61.2" lengthAdjust="spacingAndGlyphs" font-size="15.9" font-weight="700" fill="#000" stroke="#000" stroke-width="0.3">Electron</text>
<text x="386.1" y="399.6" textLength="202.2" lengthAdjust="spacingAndGlyphs" font-size="15.9" font-weight="700" fill="#000" stroke="#000" stroke-width="0.3">Charged hadron (e.g. pion)</text>
<text x="65.7" y="429.3" textLength="219.8" lengthAdjust="spacingAndGlyphs" font-size="15.9" font-weight="700" fill="#000" stroke="#000" stroke-width="0.3">Neutral hadron (e.g. neutron)</text>
<text x="386.1" y="429.5" textLength="54.6" lengthAdjust="spacingAndGlyphs" font-size="15.9" font-weight="700" fill="#000" stroke="#000" stroke-width="0.3">Photon</text>
</svg>
</body></html>
